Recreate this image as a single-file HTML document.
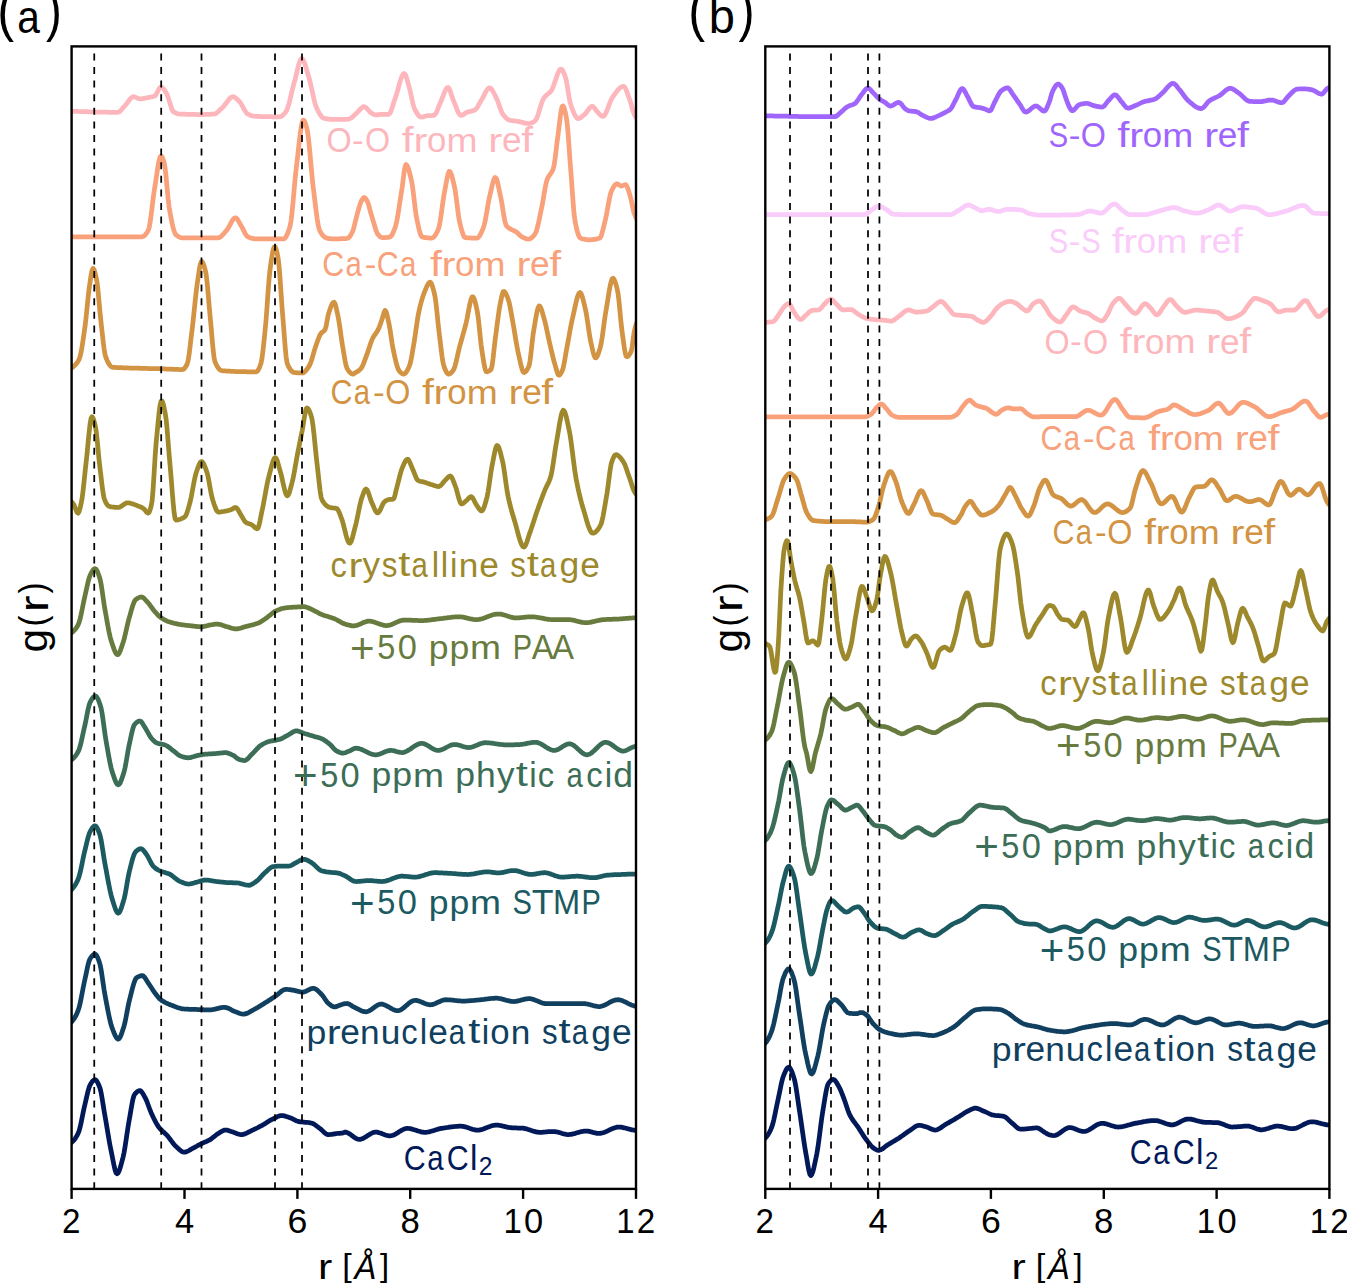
<!DOCTYPE html>
<html><head><meta charset="utf-8"><style>
html,body{margin:0;padding:0;background:#fff;overflow:hidden;width:1347px;height:1283px;}
svg{display:block;font-family:"Liberation Sans",sans-serif;}
</style></head><body>
<svg width="1347" height="1283" viewBox="0 0 1347 1283">
<defs>
<clipPath id="clipa"><rect x="71.6" y="46.4" width="564.4" height="1142.5"/></clipPath>
<clipPath id="clipb"><rect x="765.3" y="46.4" width="564.1000000000001" height="1142.5"/></clipPath>
</defs>
<rect width="1347" height="1283" fill="#fff"/>
<path d="M70.1,111.3 71.1,111.3 72.1,111.3 73.1,111.3 74.1,111.3 75.1,111.3 76.1,111.4 77.1,111.4 78.1,111.4 79.1,111.5 80.1,111.5 81.1,111.5 82.1,111.6 83.1,111.6 84.1,111.6 85.1,111.7 86.1,111.7 87.1,111.7 88.1,111.8 89.1,111.8 90.1,111.8 91.1,111.9 92.1,111.9 93.1,111.9 94.1,111.9 95.1,112.0 96.1,112.0 97.1,112.0 98.1,112.0 99.1,112.1 100.1,112.1 101.1,112.1 102.1,112.1 103.1,112.1 104.1,112.2 105.1,112.2 106.1,112.2 107.1,112.2 108.1,112.3 109.1,112.3 110.1,112.3 111.1,112.3 112.1,112.3 113.1,112.3 114.1,112.3 115.1,112.4 116.1,112.4 117.1,112.4 118.1,112.3 119.1,111.9 120.1,111.1 121.1,110.1 122.1,109.0 123.1,107.7 124.1,106.6 125.1,105.5 126.1,104.4 127.1,103.1 128.1,101.7 129.1,100.3 130.1,99.0 131.1,97.9 132.1,97.1 133.1,96.7 134.1,96.8 135.1,97.0 136.1,97.5 137.1,98.0 138.1,98.4 139.1,98.7 140.1,98.8 141.1,98.8 142.1,98.7 143.1,98.6 144.1,98.4 145.1,98.2 146.1,98.0 147.1,97.8 148.1,97.6 149.1,97.4 150.1,97.2 151.1,97.0 152.1,96.8 153.1,96.6 154.1,96.3 155.1,95.8 156.1,94.5 157.1,92.6 158.1,90.6 159.1,88.7 160.1,87.4 161.1,87.0 162.1,87.4 163.1,88.3 164.1,89.6 165.1,91.1 166.1,92.6 167.1,94.5 168.1,97.2 169.1,100.4 170.1,103.7 171.1,106.9 172.1,109.6 173.1,111.4 174.1,112.2 175.1,112.7 176.1,113.1 177.1,113.5 178.1,113.8 179.1,114.0 180.1,114.1 181.1,114.1 182.1,114.1 183.1,114.2 184.1,114.2 185.1,114.2 186.1,114.3 187.1,114.3 188.1,114.3 189.1,114.4 190.1,114.4 191.1,114.4 192.1,114.4 193.1,114.4 194.1,114.4 195.1,114.4 196.1,114.5 197.1,114.5 198.1,114.5 199.1,114.5 200.1,114.5 201.1,114.5 202.1,114.5 203.1,114.5 204.1,114.5 205.1,114.4 206.1,114.4 207.1,114.4 208.1,114.4 209.1,114.3 210.1,114.3 211.1,114.2 212.1,114.2 213.1,114.1 214.1,114.0 215.1,113.8 216.1,113.3 217.1,112.6 218.1,111.7 219.1,110.8 220.1,109.8 221.1,108.8 222.1,107.9 223.1,107.0 224.1,105.8 225.1,104.5 226.1,103.2 227.1,101.8 228.1,100.4 229.1,99.2 230.1,98.2 231.1,97.3 232.1,96.8 233.1,96.7 234.1,97.0 235.1,97.5 236.1,98.3 237.1,99.2 238.1,100.2 239.1,101.2 240.1,102.3 241.1,103.8 242.1,105.6 243.1,107.4 244.1,109.3 245.1,111.0 246.1,112.5 247.1,113.6 248.1,114.2 249.1,114.7 250.1,115.2 251.1,115.6 252.1,115.9 253.1,116.1 254.1,116.2 255.1,116.2 256.1,116.3 257.1,116.3 258.1,116.4 259.1,116.4 260.1,116.5 261.1,116.5 262.1,116.5 263.1,116.6 264.1,116.6 265.1,116.6 266.1,116.6 267.1,116.7 268.1,116.7 269.1,116.7 270.1,116.7 271.1,116.7 272.1,116.8 273.1,116.8 274.1,116.8 275.1,116.8 276.1,116.8 277.1,116.8 278.1,116.8 279.1,116.8 280.1,116.7 281.1,116.4 282.1,115.8 283.1,114.9 284.1,113.9 285.1,112.8 286.1,111.5 287.1,109.5 288.1,106.6 289.1,103.1 290.1,99.1 291.1,94.9 292.1,90.7 293.1,86.6 294.1,82.9 295.1,79.3 296.1,75.3 297.1,71.0 298.1,66.9 299.1,63.3 300.1,60.5 301.1,58.9 302.1,58.7 303.1,59.8 304.1,61.8 305.1,64.5 306.1,67.8 307.1,71.3 308.1,74.8 309.1,78.1 310.1,81.7 311.1,86.0 312.1,90.6 313.1,95.3 314.1,99.8 315.1,103.7 316.1,106.8 317.1,109.0 318.1,111.0 319.1,112.9 320.1,114.6 321.1,116.0 322.1,117.2 323.1,118.0 324.1,118.3 325.1,118.6 326.1,118.7 327.1,118.9 328.1,119.1 329.1,119.2 330.1,119.3 331.1,119.3 332.1,119.3 333.1,119.3 334.1,119.3 335.1,119.3 336.1,119.3 337.1,119.3 338.1,119.3 339.1,119.3 340.1,119.3 341.1,119.3 342.1,119.3 343.1,119.3 344.1,119.3 345.1,119.3 346.1,119.3 347.1,119.3 348.1,119.2 349.1,118.9 350.1,118.5 351.1,118.0 352.1,117.3 353.1,116.4 354.1,115.4 355.1,114.4 356.1,113.5 357.1,112.6 358.1,111.6 359.1,110.4 360.1,109.3 361.1,108.3 362.1,107.5 363.1,106.9 364.1,106.7 365.1,107.0 366.1,107.7 367.1,108.7 368.1,109.9 369.1,111.0 370.1,112.1 371.1,112.9 372.1,113.5 373.1,114.1 374.1,114.5 375.1,114.8 376.1,114.9 377.1,114.9 378.1,114.7 379.1,114.6 380.1,114.4 381.1,114.3 382.1,114.3 383.1,114.3 384.1,114.3 385.1,114.3 386.1,114.3 387.1,114.3 388.1,114.3 389.1,114.2 390.1,113.0 391.1,110.8 392.1,107.9 393.1,104.7 394.1,101.4 395.1,98.4 396.1,95.6 397.1,92.3 398.1,88.7 399.1,85.0 400.1,81.6 401.1,78.4 402.1,75.9 403.1,74.1 404.1,73.4 405.1,74.1 406.1,76.3 407.1,79.6 408.1,83.4 409.1,87.0 410.1,90.8 411.1,95.3 412.1,100.0 413.1,104.3 414.1,107.7 415.1,109.9 416.1,111.8 417.1,113.5 418.1,114.9 419.1,116.1 420.1,116.8 421.1,117.1 422.1,117.0 423.1,116.8 424.1,116.6 425.1,116.3 426.1,116.0 427.1,115.8 428.1,115.7 429.1,115.7 430.1,115.6 431.1,115.6 432.1,115.5 433.1,115.4 434.1,115.3 435.1,114.5 436.1,112.9 437.1,110.6 438.1,108.1 439.1,105.5 440.1,103.1 441.1,101.0 442.1,98.5 443.1,95.9 444.1,93.2 445.1,90.9 446.1,89.0 447.1,87.7 448.1,87.4 449.1,88.4 450.1,90.7 451.1,93.8 452.1,96.9 453.1,99.7 454.1,102.1 455.1,104.6 456.1,107.3 457.1,109.9 458.1,112.1 459.1,113.9 460.1,115.1 461.1,115.3 462.1,115.1 463.1,114.7 464.1,114.0 465.1,113.4 466.1,112.7 467.1,112.2 468.1,111.9 469.1,111.6 470.1,111.4 471.1,111.2 472.1,110.9 473.1,110.7 474.1,110.3 475.1,109.8 476.1,108.9 477.1,107.6 478.1,106.0 479.1,104.1 480.1,102.3 481.1,100.6 482.1,99.0 483.1,97.1 484.1,95.1 485.1,93.1 486.1,91.2 487.1,89.7 488.1,88.5 489.1,87.9 490.1,87.9 491.1,88.7 492.1,89.9 493.1,91.6 494.1,93.5 495.1,95.6 496.1,97.6 497.1,99.6 498.1,102.2 499.1,105.1 500.1,108.0 501.1,110.8 502.1,113.0 503.1,114.6 504.1,115.9 505.1,117.0 506.1,118.0 507.1,118.9 508.1,119.6 509.1,120.0 510.1,120.3 511.1,120.5 512.1,120.6 513.1,120.8 514.1,120.9 515.1,121.0 516.1,121.1 517.1,121.3 518.1,121.4 519.1,121.6 520.1,121.8 521.1,122.1 522.1,122.4 523.1,122.6 524.1,122.9 525.1,123.1 526.1,123.3 527.1,123.4 528.1,123.5 529.1,123.5 530.1,123.4 531.1,123.1 532.1,122.6 533.1,122.1 534.1,121.5 535.1,120.8 536.1,119.6 537.1,117.4 538.1,114.6 539.1,111.4 540.1,108.0 541.1,104.7 542.1,101.7 543.1,99.3 544.1,97.7 545.1,96.5 546.1,95.5 547.1,94.6 548.1,93.8 549.1,93.0 550.1,92.0 551.1,90.9 552.1,89.3 553.1,87.0 554.1,84.3 555.1,81.3 556.1,78.3 557.1,75.4 558.1,72.8 559.1,70.8 560.1,69.5 561.1,69.1 562.1,69.8 563.1,71.4 564.1,73.6 565.1,76.1 566.1,79.5 567.1,84.9 568.1,91.2 569.1,97.4 570.1,102.5 571.1,105.8 572.1,108.5 573.1,111.1 574.1,113.5 575.1,115.5 576.1,117.1 577.1,118.2 578.1,118.6 579.1,118.4 580.1,118.0 581.1,117.3 582.1,116.5 583.1,115.6 584.1,114.8 585.1,113.9 586.1,112.8 587.1,111.4 588.1,110.0 589.1,108.6 590.1,107.5 591.1,106.7 592.1,106.3 593.1,106.6 594.1,107.6 595.1,108.9 596.1,110.3 597.1,111.6 598.1,112.6 599.1,113.7 600.1,114.7 601.1,115.6 602.1,116.2 603.1,116.4 604.1,115.9 605.1,114.5 606.1,112.6 607.1,110.2 608.1,107.6 609.1,104.9 610.1,102.2 611.1,99.9 612.1,97.9 613.1,96.5 614.1,95.1 615.1,93.7 616.1,92.3 617.1,91.0 618.1,89.8 619.1,88.7 620.1,87.8 621.1,87.0 622.1,86.5 623.1,86.3 624.1,86.6 625.1,87.8 626.1,89.8 627.1,92.4 628.1,95.2 629.1,98.1 630.1,100.9 631.1,104.1 632.1,107.8 633.1,111.3 634.1,114.1 635.1,116.1 636.1,117.9 637.1,119.2 637.5,119.7" fill="none" stroke="#FDB7BC" stroke-width="4.75" stroke-linejoin="round" stroke-linecap="butt" clip-path="url(#clipa)"/>
<path d="M70.1,236.8 71.1,236.8 72.1,236.8 73.1,236.8 74.1,236.8 75.1,236.8 76.1,236.8 77.1,236.8 78.1,236.8 79.1,236.8 80.1,236.8 81.1,236.8 82.1,236.8 83.1,236.8 84.1,236.8 85.1,236.8 86.1,236.8 87.1,236.8 88.1,236.8 89.1,236.8 90.1,236.8 91.1,236.8 92.1,236.8 93.1,236.8 94.1,236.8 95.1,236.8 96.1,236.8 97.1,236.8 98.1,236.8 99.1,236.8 100.1,236.8 101.1,236.8 102.1,236.8 103.1,236.8 104.1,236.8 105.1,236.8 106.1,236.8 107.1,236.8 108.1,236.8 109.1,236.8 110.1,236.8 111.1,236.8 112.1,236.8 113.1,236.8 114.1,236.8 115.1,236.8 116.1,236.8 117.1,236.8 118.1,236.8 119.1,236.8 120.1,236.8 121.1,236.8 122.1,236.8 123.1,236.8 124.1,236.8 125.1,236.8 126.1,236.8 127.1,236.8 128.1,236.8 129.1,236.8 130.1,236.8 131.1,236.8 132.1,236.8 133.1,236.8 134.1,236.8 135.1,236.8 136.1,236.8 137.1,236.8 138.1,236.8 139.1,236.8 140.1,236.8 141.1,236.8 142.1,236.8 143.1,236.5 144.1,235.9 145.1,235.0 146.1,233.8 147.1,232.4 148.1,230.7 149.1,228.0 150.1,222.5 151.1,215.3 152.1,207.2 153.1,198.9 154.1,191.5 155.1,185.3 156.1,178.8 157.1,172.0 158.1,165.7 159.1,160.5 160.1,157.0 161.1,156.0 162.1,157.0 163.1,159.4 164.1,162.5 165.1,168.0 166.1,177.0 167.1,187.8 168.1,198.5 169.1,207.1 170.1,212.9 171.1,218.3 172.1,223.3 173.1,227.7 174.1,231.2 175.1,233.7 176.1,234.9 177.1,235.7 178.1,236.4 179.1,237.0 180.1,237.5 181.1,237.7 182.1,237.8 183.1,237.8 184.1,237.8 185.1,237.8 186.1,237.8 187.1,237.8 188.1,237.8 189.1,237.8 190.1,237.8 191.1,237.8 192.1,237.8 193.1,237.8 194.1,237.8 195.1,237.8 196.1,237.8 197.1,237.8 198.1,237.8 199.1,237.8 200.1,237.8 201.1,237.8 202.1,237.8 203.1,237.8 204.1,237.8 205.1,237.8 206.1,237.8 207.1,237.8 208.1,237.8 209.1,237.8 210.1,237.8 211.1,237.8 212.1,237.8 213.1,237.8 214.1,237.8 215.1,237.8 216.1,237.8 217.1,237.8 218.1,237.8 219.1,237.7 220.1,237.2 221.1,236.4 222.1,235.5 223.1,234.4 224.1,233.3 225.1,232.1 226.1,230.9 227.1,229.8 228.1,228.3 229.1,226.5 230.1,224.6 231.1,222.7 232.1,220.9 233.1,219.4 234.1,218.3 235.1,217.8 236.1,217.9 237.1,218.8 238.1,220.3 239.1,222.1 240.1,224.0 241.1,225.7 242.1,227.4 243.1,229.4 244.1,231.4 245.1,233.4 246.1,235.1 247.1,236.3 248.1,236.9 249.1,237.4 250.1,237.7 251.1,238.1 252.1,238.3 253.1,238.6 254.1,238.7 255.1,238.8 256.1,238.9 257.1,238.9 258.1,238.9 259.1,238.9 260.1,238.9 261.1,238.9 262.1,238.9 263.1,238.9 264.1,238.9 265.1,238.9 266.1,238.9 267.1,238.9 268.1,238.9 269.1,238.9 270.1,238.9 271.1,238.9 272.1,238.9 273.1,238.9 274.1,238.9 275.1,238.9 276.1,238.9 277.1,238.9 278.1,238.9 279.1,238.9 280.1,238.9 281.1,238.9 282.1,238.9 283.1,238.9 284.1,238.8 285.1,238.1 286.1,236.7 287.1,234.6 288.1,232.1 289.1,229.2 290.1,226.0 291.1,220.6 292.1,212.0 293.1,201.5 294.1,190.1 295.1,179.0 296.1,169.4 297.1,161.1 298.1,152.3 299.1,143.3 300.1,134.9 301.1,127.8 302.1,122.6 303.1,120.1 304.1,120.5 305.1,122.6 306.1,125.7 307.1,129.4 308.1,135.4 309.1,144.2 310.1,154.8 311.1,166.0 312.1,176.9 313.1,186.3 314.1,194.4 315.1,202.7 316.1,210.8 317.1,218.3 318.1,224.5 319.1,228.9 320.1,231.3 321.1,233.0 322.1,234.5 323.1,235.8 324.1,236.7 325.1,237.4 326.1,237.9 327.1,238.1 328.1,238.4 329.1,238.6 330.1,238.7 331.1,238.8 332.1,238.9 333.1,238.9 334.1,238.9 335.1,238.9 336.1,238.9 337.1,238.8 338.1,238.8 339.1,238.8 340.1,238.8 341.1,238.7 342.1,238.7 343.1,238.7 344.1,238.6 345.1,238.5 346.1,238.5 347.1,238.4 348.1,238.1 349.1,237.3 350.1,236.0 351.1,234.4 352.1,232.5 353.1,230.3 354.1,226.7 355.1,222.5 356.1,218.6 357.1,214.6 358.1,210.8 359.1,207.4 360.1,204.1 361.1,201.5 362.1,199.7 363.1,198.2 364.1,197.5 365.1,197.9 366.1,199.3 367.1,201.0 368.1,203.2 369.1,206.7 370.1,210.5 371.1,214.0 372.1,217.4 373.1,220.7 374.1,223.9 375.1,227.4 376.1,230.7 377.1,233.2 378.1,234.5 379.1,235.7 380.1,236.7 381.1,237.3 382.1,237.6 383.1,237.6 384.1,237.6 385.1,237.6 386.1,237.5 387.1,237.4 388.1,237.3 389.1,237.1 390.1,236.9 391.1,236.1 392.1,234.6 393.1,232.6 394.1,230.2 395.1,227.6 396.1,224.3 397.1,219.5 398.1,213.7 399.1,207.3 400.1,200.7 401.1,194.2 402.1,187.9 403.1,180.2 404.1,172.3 405.1,166.4 406.1,164.5 407.1,165.4 408.1,167.7 409.1,170.9 410.1,174.8 411.1,178.9 412.1,183.8 413.1,191.0 414.1,199.4 415.1,207.9 416.1,215.2 417.1,220.4 418.1,225.1 419.1,229.5 420.1,233.2 421.1,235.8 422.1,237.0 423.1,237.2 424.1,237.4 425.1,237.6 426.1,237.7 427.1,237.8 428.1,237.9 429.1,238.0 430.1,238.0 431.1,238.1 432.1,238.0 433.1,237.6 434.1,236.7 435.1,235.4 436.1,233.8 437.1,231.9 438.1,229.8 439.1,226.8 440.1,221.6 441.1,215.1 442.1,207.8 443.1,200.6 444.1,194.1 445.1,188.8 446.1,183.4 447.1,178.2 448.1,173.9 449.1,171.5 450.1,171.7 451.1,173.7 452.1,176.8 453.1,180.8 454.1,185.1 455.1,189.9 456.1,196.8 457.1,204.8 458.1,212.8 459.1,219.6 460.1,224.2 461.1,228.0 462.1,231.6 463.1,234.6 464.1,236.7 465.1,237.6 466.1,237.7 467.1,237.8 468.1,237.8 469.1,237.9 470.1,237.9 471.1,238.0 472.1,238.0 473.1,238.0 474.1,238.0 475.1,238.1 476.1,238.1 477.1,238.1 478.1,237.6 479.1,236.6 480.1,235.0 481.1,233.0 482.1,230.7 483.1,228.3 484.1,225.4 485.1,221.2 486.1,215.9 487.1,210.0 488.1,204.2 489.1,198.8 490.1,194.4 491.1,190.1 492.1,185.7 493.1,181.8 494.1,178.8 495.1,177.4 496.1,178.1 497.1,180.7 498.1,184.7 499.1,189.5 500.1,194.4 501.1,199.0 502.1,204.7 503.1,211.2 504.1,217.3 505.1,222.3 506.1,225.2 507.1,226.5 508.1,227.4 509.1,228.2 510.1,228.8 511.1,229.4 512.1,229.9 513.1,230.3 514.1,230.8 515.1,231.2 516.1,231.8 517.1,232.6 518.1,233.5 519.1,234.5 520.1,235.4 521.1,236.3 522.1,236.9 523.1,237.4 524.1,237.9 525.1,238.3 526.1,238.7 527.1,239.0 528.1,239.1 529.1,239.1 530.1,238.8 531.1,238.2 532.1,237.4 533.1,236.4 534.1,235.2 535.1,233.8 536.1,231.8 537.1,228.7 538.1,224.7 539.1,220.0 540.1,215.2 541.1,210.3 542.1,205.6 543.1,200.0 544.1,193.9 545.1,188.1 546.1,183.1 547.1,179.7 548.1,177.4 549.1,175.8 550.1,174.4 551.1,173.1 552.1,171.4 553.1,169.1 554.1,165.3 555.1,158.6 556.1,150.2 557.1,141.8 558.1,134.5 559.1,126.4 560.1,118.1 561.1,111.0 562.1,106.5 563.1,105.9 564.1,107.8 565.1,111.5 566.1,116.2 567.1,122.8 568.1,133.9 569.1,147.7 570.1,161.8 571.1,174.5 572.1,188.4 573.1,202.3 574.1,214.1 575.1,221.5 576.1,226.3 577.1,230.6 578.1,234.0 579.1,236.5 580.1,237.9 581.1,238.4 582.1,238.7 583.1,239.0 584.1,239.2 585.1,239.4 586.1,239.6 587.1,239.7 588.1,239.8 589.1,239.8 590.1,239.8 591.1,239.7 592.1,239.7 593.1,239.6 594.1,239.4 595.1,239.3 596.1,239.1 597.1,238.8 598.1,238.6 599.1,238.3 600.1,237.8 601.1,236.0 602.1,233.0 603.1,229.1 604.1,225.0 605.1,220.9 606.1,216.6 607.1,211.3 608.1,205.7 609.1,200.3 610.1,195.5 611.1,191.9 612.1,189.7 613.1,187.8 614.1,186.2 615.1,184.9 616.1,184.1 617.1,183.8 618.1,184.2 619.1,184.9 620.1,185.6 621.1,186.0 622.1,185.8 623.1,185.5 624.1,185.0 625.1,184.7 626.1,184.9 627.1,186.6 628.1,189.3 629.1,192.5 630.1,195.7 631.1,199.8 632.1,204.6 633.1,209.3 634.1,213.1 635.1,215.7 636.1,218.0 637.1,219.8 637.5,220.4" fill="none" stroke="#F8A17B" stroke-width="4.75" stroke-linejoin="round" stroke-linecap="butt" clip-path="url(#clipa)"/>
<path d="M70.1,368.7 71.1,368.2 72.1,367.6 73.1,366.8 74.1,366.0 75.1,365.1 76.1,364.0 77.1,362.7 78.1,361.2 79.1,359.4 80.1,356.5 81.1,352.1 82.1,346.4 83.1,339.9 84.1,332.9 85.1,325.9 86.1,317.3 87.1,307.4 88.1,297.4 89.1,288.7 90.1,281.9 91.1,275.2 92.1,270.1 93.1,268.4 94.1,269.8 95.1,273.0 96.1,277.2 97.1,282.6 98.1,291.4 99.1,302.3 100.1,313.3 101.1,322.9 102.1,331.8 103.1,340.9 104.1,348.9 105.1,354.9 106.1,358.0 107.1,360.4 108.1,362.5 109.1,364.2 110.1,365.6 111.1,366.6 112.1,367.1 113.1,367.3 114.1,367.4 115.1,367.4 116.1,367.5 117.1,367.6 118.1,367.6 119.1,367.6 120.1,367.7 121.1,367.7 122.1,367.7 123.1,367.8 124.1,367.8 125.1,367.8 126.1,367.9 127.1,367.9 128.1,367.9 129.1,368.0 130.1,368.0 131.1,368.0 132.1,368.0 133.1,368.1 134.1,368.1 135.1,368.1 136.1,368.2 137.1,368.2 138.1,368.2 139.1,368.2 140.1,368.3 141.1,368.3 142.1,368.3 143.1,368.3 144.1,368.4 145.1,368.4 146.1,368.4 147.1,368.4 148.1,368.5 149.1,368.5 150.1,368.5 151.1,368.5 152.1,368.6 153.1,368.6 154.1,368.6 155.1,368.6 156.1,368.7 157.1,368.7 158.1,368.7 159.1,368.7 160.1,368.8 161.1,368.8 162.1,368.8 163.1,368.9 164.1,368.9 165.1,368.9 166.1,369.0 167.1,369.0 168.1,369.1 169.1,369.1 170.1,369.1 171.1,369.2 172.1,369.2 173.1,369.3 174.1,369.3 175.1,369.4 176.1,369.4 177.1,369.4 178.1,369.4 179.1,369.5 180.1,369.5 181.1,369.5 182.1,369.5 183.1,369.4 184.1,368.8 185.1,367.7 186.1,366.1 187.1,364.1 188.1,360.7 189.1,354.5 190.1,346.5 191.1,337.8 192.1,329.7 193.1,320.9 194.1,311.4 195.1,301.7 196.1,292.5 197.1,284.5 198.1,277.8 199.1,271.1 200.1,265.2 201.1,261.8 202.1,261.7 203.1,263.3 204.1,266.1 205.1,269.6 206.1,274.0 207.1,282.2 208.1,293.1 209.1,305.1 210.1,316.2 211.1,326.8 212.1,338.6 213.1,349.6 214.1,358.0 215.1,362.1 216.1,364.3 217.1,366.2 218.1,367.8 219.1,369.1 220.1,370.0 221.1,370.5 222.1,370.7 223.1,370.8 224.1,370.8 225.1,370.9 226.1,371.0 227.1,371.0 228.1,371.1 229.1,371.2 230.1,371.2 231.1,371.3 232.1,371.3 233.1,371.4 234.1,371.4 235.1,371.5 236.1,371.5 237.1,371.5 238.1,371.6 239.1,371.6 240.1,371.6 241.1,371.6 242.1,371.7 243.1,371.7 244.1,371.7 245.1,371.7 246.1,371.7 247.1,371.8 248.1,371.8 249.1,371.8 250.1,371.8 251.1,371.8 252.1,371.8 253.1,371.8 254.1,371.8 255.1,371.8 256.1,371.8 257.1,371.4 258.1,370.2 259.1,368.3 260.1,365.8 261.1,362.9 262.1,357.5 263.1,349.7 264.1,340.3 265.1,330.3 266.1,319.6 267.1,306.0 268.1,291.5 269.1,278.5 270.1,269.1 271.1,261.9 272.1,255.3 273.1,250.0 274.1,247.0 275.1,246.8 276.1,249.1 277.1,253.1 278.1,258.1 279.1,266.3 280.1,279.0 281.1,293.8 282.1,308.2 283.1,320.4 284.1,333.4 285.1,346.2 286.1,356.8 287.1,363.2 288.1,365.6 289.1,367.6 290.1,369.2 291.1,370.5 292.1,371.5 293.1,372.2 294.1,372.5 295.1,372.6 296.1,372.7 297.1,372.8 298.1,372.8 299.1,372.9 300.1,372.9 301.1,372.9 302.1,373.0 303.1,372.8 304.1,372.3 305.1,371.4 306.1,370.3 307.1,369.0 308.1,367.6 309.1,366.1 310.1,364.2 311.1,361.5 312.1,358.4 313.1,354.9 314.1,351.4 315.1,348.1 316.1,345.2 317.1,342.3 318.1,339.5 319.1,336.9 320.1,334.7 321.1,333.3 322.1,332.3 323.1,331.6 324.1,330.8 325.1,329.5 326.1,326.3 327.1,320.9 328.1,315.4 329.1,311.9 330.1,308.9 331.1,306.2 332.1,304.0 333.1,302.6 334.1,302.2 335.1,303.8 336.1,307.4 337.1,311.9 338.1,316.6 339.1,322.3 340.1,329.2 341.1,336.5 342.1,343.2 343.1,349.1 344.1,355.2 345.1,361.0 346.1,365.6 347.1,368.4 348.1,370.0 349.1,371.5 350.1,372.6 351.1,373.5 352.1,374.0 353.1,374.1 354.1,373.5 355.1,372.9 356.1,372.3 357.1,371.7 358.1,371.1 359.1,370.3 360.1,369.4 361.1,368.4 362.1,366.8 363.1,364.7 364.1,362.1 365.1,359.4 366.1,356.6 367.1,353.9 368.1,351.0 369.1,348.0 370.1,345.0 371.1,342.1 372.1,339.5 373.1,337.5 374.1,335.8 375.1,334.4 376.1,333.0 377.1,331.5 378.1,329.7 379.1,327.5 380.1,324.9 381.1,322.0 382.1,319.1 383.1,315.6 384.1,312.2 385.1,310.4 386.1,311.6 387.1,315.1 388.1,319.7 389.1,324.3 390.1,330.2 391.1,336.8 392.1,343.4 393.1,349.1 394.1,353.7 395.1,358.2 396.1,362.5 397.1,366.1 398.1,369.0 399.1,370.7 400.1,371.9 401.1,372.9 402.1,373.6 403.1,374.0 404.1,374.0 405.1,373.4 406.1,372.3 407.1,370.7 408.1,368.8 409.1,366.7 410.1,363.9 411.1,359.6 412.1,354.1 413.1,348.2 414.1,342.4 415.1,335.9 416.1,328.8 417.1,321.8 418.1,315.6 419.1,310.8 420.1,306.4 421.1,302.5 422.1,298.9 423.1,295.8 424.1,293.0 425.1,290.6 426.1,288.1 427.1,285.8 428.1,283.9 429.1,282.6 430.1,282.1 431.1,283.0 432.1,285.3 433.1,288.5 434.1,292.4 435.1,296.9 436.1,304.2 437.1,313.6 438.1,323.5 439.1,332.5 440.1,340.6 441.1,349.0 442.1,356.8 443.1,363.0 444.1,366.7 445.1,369.3 446.1,371.6 447.1,373.2 448.1,374.0 449.1,374.0 450.1,373.6 451.1,372.8 452.1,371.8 453.1,370.6 454.1,368.7 455.1,365.7 456.1,361.9 457.1,357.6 458.1,353.1 459.1,348.7 460.1,344.9 461.1,341.3 462.1,337.8 463.1,334.2 464.1,330.6 465.1,327.0 466.1,323.1 467.1,318.4 468.1,313.0 469.1,307.7 470.1,302.9 471.1,299.1 472.1,296.9 473.1,296.9 474.1,298.7 475.1,301.8 476.1,305.9 477.1,310.4 478.1,316.5 479.1,325.5 480.1,335.5 481.1,344.8 482.1,351.8 483.1,358.2 484.1,364.3 485.1,369.1 486.1,371.6 487.1,371.8 488.1,371.5 489.1,371.0 490.1,370.3 491.1,369.4 492.1,365.6 493.1,358.2 494.1,349.1 495.1,340.1 496.1,332.5 497.1,324.9 498.1,317.2 499.1,310.2 500.1,304.5 501.1,299.5 502.1,294.9 503.1,291.8 504.1,291.4 505.1,292.4 506.1,294.2 507.1,296.4 508.1,299.0 509.1,302.2 510.1,306.9 511.1,312.5 512.1,318.2 513.1,323.7 514.1,329.4 515.1,335.5 516.1,341.5 517.1,347.2 518.1,352.3 519.1,356.8 520.1,361.3 521.1,365.7 522.1,369.4 523.1,371.8 524.1,372.5 525.1,372.1 526.1,371.1 527.1,369.6 528.1,367.8 529.1,365.7 530.1,360.4 531.1,352.1 532.1,342.8 533.1,334.4 534.1,328.3 535.1,322.2 536.1,316.4 537.1,311.3 538.1,307.6 539.1,305.9 540.1,306.4 541.1,308.5 542.1,311.6 543.1,315.1 544.1,318.5 545.1,322.3 546.1,326.6 547.1,331.3 548.1,336.1 549.1,340.7 550.1,345.0 551.1,349.3 552.1,353.6 553.1,357.7 554.1,361.6 555.1,365.1 556.1,368.5 557.1,372.0 558.1,374.6 559.1,375.2 560.1,374.5 561.1,373.0 562.1,371.0 563.1,368.2 564.1,363.6 565.1,357.9 566.1,352.0 567.1,346.5 568.1,341.2 569.1,335.7 570.1,330.2 571.1,324.9 572.1,320.1 573.1,315.8 574.1,311.2 575.1,306.6 576.1,302.2 577.1,298.2 578.1,295.1 579.1,293.1 580.1,292.5 581.1,293.6 582.1,296.1 583.1,299.6 584.1,303.7 585.1,307.9 586.1,312.5 587.1,318.6 588.1,325.4 589.1,332.2 590.1,338.5 591.1,343.4 592.1,347.8 593.1,352.1 594.1,355.6 595.1,357.7 596.1,357.8 597.1,356.6 598.1,354.3 599.1,351.3 600.1,348.1 601.1,343.9 602.1,337.9 603.1,330.8 604.1,323.3 605.1,316.2 606.1,310.2 607.1,304.2 608.1,297.9 609.1,291.7 610.1,286.1 611.1,281.7 612.1,278.9 613.1,278.3 614.1,279.4 615.1,281.7 616.1,284.9 617.1,288.7 618.1,293.7 619.1,302.3 620.1,312.9 621.1,323.4 622.1,331.8 623.1,339.1 624.1,346.4 625.1,352.5 626.1,356.2 627.1,356.8 628.1,356.2 629.1,355.1 630.1,353.5 631.1,351.5 632.1,347.2 633.1,339.3 634.1,332.3 635.1,328.0 636.1,324.4 637.1,321.7 637.5,321.0" fill="none" stroke="#D29343" stroke-width="4.75" stroke-linejoin="round" stroke-linecap="butt" clip-path="url(#clipa)"/>
<path d="M70.1,500.7 71.1,501.4 72.1,502.4 73.1,503.6 74.1,505.1 75.1,507.6 76.1,510.3 77.1,512.4 78.1,513.2 79.1,511.7 80.1,508.2 81.1,503.6 82.1,498.3 83.1,490.6 84.1,481.3 85.1,471.6 86.1,462.6 87.1,453.3 88.1,442.7 89.1,432.4 90.1,423.7 91.1,418.1 92.1,416.7 93.1,418.3 94.1,421.3 95.1,425.1 96.1,430.5 97.1,439.3 98.1,449.7 99.1,460.2 100.1,468.9 101.1,477.3 102.1,485.7 103.1,493.0 104.1,498.2 105.1,500.9 106.1,503.0 107.1,504.6 108.1,505.8 109.1,506.3 110.1,506.6 111.1,506.8 112.1,507.0 113.1,507.1 114.1,507.2 115.1,507.3 116.1,507.4 117.1,507.4 118.1,507.5 119.1,507.4 120.1,507.0 121.1,506.4 122.1,505.7 123.1,505.0 124.1,504.3 125.1,503.6 126.1,503.1 127.1,502.9 128.1,502.9 129.1,503.0 130.1,503.1 131.1,503.4 132.1,503.7 133.1,504.0 134.1,504.4 135.1,504.7 136.1,505.1 137.1,505.6 138.1,506.0 139.1,506.4 140.1,506.8 141.1,507.2 142.1,507.7 143.1,508.3 144.1,509.1 145.1,510.2 146.1,511.6 147.1,512.7 148.1,513.2 149.1,512.4 150.1,509.9 151.1,506.2 152.1,501.0 153.1,489.2 154.1,473.3 155.1,456.7 156.1,443.2 157.1,432.8 158.1,422.2 159.1,412.6 160.1,405.1 161.1,401.0 162.1,401.0 163.1,403.5 164.1,407.6 165.1,412.7 166.1,419.1 167.1,429.2 168.1,441.6 169.1,454.4 170.1,465.8 171.1,477.4 172.1,490.1 173.1,502.3 174.1,512.4 175.1,518.8 176.1,520.1 177.1,520.0 178.1,519.9 179.1,519.6 180.1,519.3 181.1,518.9 182.1,518.4 183.1,517.9 184.1,517.3 185.1,516.6 186.1,515.0 187.1,512.4 188.1,509.1 189.1,505.6 190.1,502.0 191.1,497.5 192.1,492.4 193.1,486.9 194.1,481.6 195.1,476.8 196.1,472.9 197.1,470.0 198.1,467.2 199.1,464.6 200.1,462.7 201.1,461.6 202.1,461.7 203.1,462.8 204.1,464.7 205.1,467.1 206.1,469.9 207.1,472.7 208.1,476.8 209.1,482.1 210.1,487.8 211.1,493.3 212.1,497.8 213.1,501.1 214.1,504.2 215.1,507.0 216.1,509.5 217.1,511.2 218.1,512.0 219.1,512.0 220.1,512.0 221.1,511.9 222.1,511.7 223.1,511.5 224.1,511.4 225.1,511.2 226.1,511.0 227.1,510.8 228.1,510.6 229.1,510.3 230.1,510.0 231.1,509.7 232.1,509.2 233.1,508.5 234.1,507.9 235.1,507.5 236.1,507.6 237.1,508.5 238.1,509.9 239.1,511.7 240.1,513.5 241.1,515.2 242.1,516.8 243.1,518.6 244.1,520.3 245.1,521.7 246.1,522.5 247.1,523.1 248.1,523.4 249.1,523.8 250.1,524.1 251.1,524.5 252.1,525.0 253.1,525.8 254.1,526.7 255.1,527.7 256.1,528.4 257.1,528.8 258.1,528.1 259.1,525.0 260.1,520.4 261.1,515.2 262.1,510.4 263.1,505.7 264.1,500.4 265.1,495.0 266.1,489.5 267.1,484.3 268.1,479.6 269.1,475.6 270.1,471.7 271.1,467.8 272.1,464.1 273.1,460.9 274.1,458.7 275.1,457.6 276.1,458.2 277.1,460.3 278.1,463.6 279.1,467.3 280.1,470.9 281.1,474.3 282.1,478.6 283.1,483.2 284.1,487.7 285.1,491.7 286.1,494.6 287.1,495.9 288.1,495.3 289.1,493.2 290.1,489.9 291.1,486.2 292.1,482.5 293.1,478.2 294.1,473.1 295.1,467.5 296.1,461.8 297.1,456.2 298.1,451.0 299.1,446.0 300.1,441.0 301.1,436.0 302.1,431.1 303.1,425.5 304.1,419.0 305.1,413.1 306.1,408.9 307.1,407.9 308.1,408.8 309.1,410.5 310.1,412.8 311.1,415.7 312.1,419.5 313.1,426.4 314.1,435.3 315.1,445.3 316.1,455.4 317.1,464.3 318.1,472.9 319.1,482.3 320.1,490.8 321.1,497.2 322.1,500.0 323.1,501.7 324.1,503.1 325.1,504.4 326.1,505.3 327.1,506.1 328.1,506.8 329.1,507.2 330.1,507.5 331.1,507.7 332.1,507.9 333.1,508.0 334.1,508.1 335.1,508.2 336.1,508.4 337.1,508.8 338.1,510.1 339.1,512.2 340.1,514.7 341.1,517.3 342.1,520.0 343.1,523.4 344.1,527.3 345.1,531.4 346.1,535.3 347.1,538.8 348.1,541.5 349.1,543.0 350.1,543.2 351.1,541.6 352.1,538.8 353.1,535.1 354.1,531.1 355.1,527.1 356.1,523.3 357.1,518.8 358.1,513.9 359.1,508.9 360.1,504.2 361.1,500.1 362.1,497.1 363.1,494.2 364.1,491.6 365.1,489.7 366.1,489.0 367.1,489.8 368.1,491.9 369.1,494.8 370.1,498.0 371.1,501.0 372.1,503.3 373.1,505.5 374.1,507.9 375.1,510.0 376.1,511.8 377.1,512.8 378.1,512.9 379.1,511.9 380.1,510.2 381.1,508.0 382.1,505.7 383.1,503.6 384.1,502.1 385.1,501.3 386.1,500.6 387.1,500.1 388.1,499.7 389.1,499.5 390.1,499.4 391.1,499.3 392.1,499.3 393.1,499.2 394.1,498.1 395.1,494.6 396.1,490.3 397.1,486.5 398.1,482.6 399.1,478.6 400.1,474.7 401.1,471.1 402.1,468.2 403.1,465.9 404.1,463.6 405.1,461.6 406.1,460.1 407.1,459.3 408.1,459.4 409.1,460.8 410.1,462.9 411.1,465.4 412.1,467.9 413.1,470.1 414.1,472.6 415.1,475.2 416.1,477.7 417.1,479.6 418.1,480.5 419.1,481.0 420.1,481.3 421.1,481.5 422.1,481.7 423.1,481.9 424.1,482.1 425.1,482.4 426.1,482.8 427.1,483.1 428.1,483.5 429.1,483.8 430.1,484.2 431.1,484.5 432.1,484.8 433.1,485.1 434.1,485.5 435.1,485.8 436.1,486.1 437.1,486.3 438.1,486.5 439.1,486.5 440.1,486.0 441.1,485.1 442.1,484.0 443.1,482.7 444.1,481.4 445.1,480.4 446.1,479.4 447.1,478.2 448.1,477.2 449.1,476.4 450.1,476.0 451.1,476.4 452.1,478.0 453.1,480.3 454.1,482.9 455.1,485.5 456.1,488.2 457.1,491.8 458.1,495.7 459.1,499.3 460.1,502.2 461.1,503.8 462.1,503.9 463.1,503.4 464.1,502.6 465.1,501.7 466.1,500.8 467.1,500.0 468.1,498.9 469.1,497.8 470.1,496.9 471.1,496.6 472.1,497.2 473.1,498.6 474.1,500.5 475.1,502.6 476.1,504.4 477.1,505.8 478.1,507.4 479.1,508.9 480.1,510.1 481.1,510.9 482.1,510.9 483.1,509.6 484.1,507.2 485.1,504.1 486.1,500.5 487.1,496.8 488.1,491.6 489.1,485.1 490.1,478.0 491.1,471.2 492.1,465.5 493.1,460.4 494.1,455.2 495.1,450.4 496.1,446.9 497.1,445.4 498.1,446.1 499.1,448.2 500.1,451.4 501.1,455.3 502.1,459.4 503.1,463.8 504.1,469.8 505.1,476.9 506.1,484.2 507.1,491.0 508.1,496.5 509.1,501.0 510.1,505.1 511.1,509.0 512.1,512.6 513.1,516.0 514.1,519.3 515.1,522.6 516.1,526.2 517.1,530.0 518.1,533.8 519.1,537.3 520.1,540.6 521.1,543.4 522.1,545.5 523.1,546.8 524.1,547.1 525.1,546.1 526.1,544.0 527.1,541.2 528.1,538.0 529.1,534.9 530.1,532.1 531.1,529.3 532.1,526.3 533.1,523.3 534.1,520.2 535.1,517.1 536.1,514.0 537.1,511.1 538.1,508.2 539.1,505.4 540.1,502.7 541.1,499.9 542.1,497.3 543.1,494.6 544.1,492.1 545.1,489.6 546.1,487.4 547.1,485.4 548.1,483.4 549.1,481.2 550.1,478.6 551.1,475.3 552.1,470.4 553.1,464.2 554.1,457.4 555.1,450.4 556.1,444.1 557.1,438.6 558.1,432.6 559.1,426.5 560.1,420.7 561.1,415.7 562.1,412.1 563.1,410.3 564.1,410.7 565.1,412.8 566.1,416.2 567.1,420.4 568.1,425.2 569.1,429.9 570.1,435.2 571.1,442.0 572.1,449.6 573.1,457.6 574.1,465.4 575.1,472.7 576.1,478.7 577.1,483.8 578.1,488.7 579.1,493.2 580.1,497.4 581.1,501.3 582.1,505.0 583.1,508.3 584.1,511.7 585.1,515.2 586.1,518.7 587.1,522.0 588.1,525.2 589.1,528.0 590.1,530.3 591.1,532.0 592.1,533.0 593.1,533.2 594.1,532.9 595.1,532.4 596.1,531.5 597.1,530.4 598.1,529.2 599.1,527.7 600.1,526.1 601.1,524.0 602.1,520.5 603.1,515.9 604.1,510.5 605.1,504.7 606.1,498.7 607.1,492.9 608.1,485.6 609.1,477.6 610.1,470.1 611.1,464.2 612.1,460.9 613.1,458.4 614.1,456.3 615.1,455.0 616.1,454.6 617.1,454.9 618.1,455.5 619.1,456.3 620.1,457.4 621.1,458.6 622.1,460.0 623.1,461.4 624.1,463.1 625.1,465.3 626.1,468.0 627.1,470.9 628.1,473.9 629.1,476.7 630.1,479.6 631.1,482.7 632.1,485.8 633.1,488.7 634.1,491.0 635.1,492.8 636.1,494.3 637.1,495.5 637.5,495.9" fill="none" stroke="#9D892B" stroke-width="4.75" stroke-linejoin="round" stroke-linecap="butt" clip-path="url(#clipa)"/>
<path d="M70.1,633.6 71.1,633.1 72.1,632.4 73.1,631.5 74.1,630.6 75.1,629.5 76.1,628.1 77.1,626.6 78.1,624.8 79.1,622.4 80.1,618.9 81.1,614.5 82.1,609.6 83.1,604.6 84.1,599.7 85.1,595.3 86.1,590.8 87.1,586.2 88.1,581.8 89.1,578.1 90.1,575.4 91.1,573.4 92.1,571.5 93.1,569.9 94.1,568.9 95.1,568.6 96.1,569.3 97.1,571.0 98.1,573.3 99.1,576.0 100.1,579.2 101.1,584.1 102.1,590.5 103.1,597.5 104.1,604.4 105.1,610.3 106.1,615.9 107.1,621.6 108.1,627.1 109.1,632.3 110.1,636.8 111.1,640.5 112.1,643.6 113.1,646.6 114.1,649.4 115.1,651.8 116.1,653.6 117.1,654.6 118.1,654.6 119.1,653.3 120.1,651.2 121.1,648.4 122.1,645.4 123.1,642.5 124.1,639.1 125.1,635.0 126.1,630.7 127.1,626.2 128.1,622.0 129.1,618.2 130.1,614.8 131.1,611.2 132.1,607.7 133.1,604.6 134.1,602.0 135.1,600.2 136.1,599.3 137.1,598.6 138.1,598.0 139.1,597.5 140.1,597.2 141.1,597.0 142.1,597.1 143.1,597.6 144.1,598.4 145.1,599.5 146.1,600.6 147.1,601.7 148.1,602.8 149.1,604.0 150.1,605.4 151.1,606.7 152.1,608.1 153.1,609.5 154.1,610.7 155.1,611.9 156.1,613.0 157.1,614.1 158.1,615.2 159.1,616.2 160.1,617.0 161.1,617.8 162.1,618.4 163.1,619.0 164.1,619.6 165.1,620.1 166.1,620.6 167.1,621.1 168.1,621.5 169.1,621.8 170.1,622.1 171.1,622.5 172.1,622.7 173.1,623.0 174.1,623.3 175.1,623.5 176.1,623.7 177.1,623.9 178.1,624.1 179.1,624.3 180.1,624.5 181.1,624.6 182.1,624.8 183.1,624.9 184.1,625.0 185.1,625.2 186.1,625.3 187.1,625.4 188.1,625.5 189.1,625.6 190.1,625.7 191.1,625.8 192.1,625.9 193.1,626.1 194.1,626.2 195.1,626.3 196.1,626.4 197.1,626.6 198.1,626.7 199.1,626.7 200.1,626.8 201.1,626.8 202.1,626.8 203.1,626.6 204.1,626.4 205.1,626.2 206.1,626.0 207.1,625.7 208.1,625.4 209.1,625.2 210.1,625.0 211.1,624.8 212.1,624.7 213.1,624.5 214.1,624.3 215.1,624.2 216.1,624.1 217.1,624.1 218.1,624.1 219.1,624.3 220.1,624.5 221.1,624.8 222.1,625.1 223.1,625.5 224.1,625.8 225.1,626.2 226.1,626.5 227.1,626.7 228.1,627.0 229.1,627.3 230.1,627.7 231.1,628.0 232.1,628.3 233.1,628.5 234.1,628.7 235.1,628.9 236.1,628.9 237.1,628.9 238.1,628.7 239.1,628.5 240.1,628.3 241.1,628.0 242.1,627.7 243.1,627.3 244.1,627.0 245.1,626.7 246.1,626.5 247.1,626.2 248.1,626.0 249.1,625.7 250.1,625.5 251.1,625.2 252.1,625.0 253.1,624.7 254.1,624.4 255.1,624.1 256.1,623.8 257.1,623.5 258.1,623.1 259.1,622.7 260.1,622.1 261.1,621.6 262.1,620.9 263.1,620.3 264.1,619.6 265.1,618.9 266.1,618.2 267.1,617.5 268.1,616.7 269.1,615.9 270.1,615.1 271.1,614.3 272.1,613.4 273.1,612.7 274.1,612.0 275.1,611.4 276.1,610.9 277.1,610.4 278.1,610.0 279.1,609.6 280.1,609.2 281.1,608.8 282.1,608.5 283.1,608.3 284.1,608.1 285.1,608.0 286.1,607.8 287.1,607.7 288.1,607.6 289.1,607.5 290.1,607.4 291.1,607.3 292.1,607.3 293.1,607.2 294.1,607.1 295.1,607.1 296.1,607.0 297.1,607.0 298.1,606.9 299.1,606.8 300.1,606.8 301.1,606.8 302.1,606.7 303.1,606.7 304.1,606.7 305.1,606.8 306.1,607.1 307.1,607.4 308.1,607.8 309.1,608.2 310.1,608.7 311.1,609.2 312.1,609.7 313.1,610.2 314.1,610.7 315.1,611.1 316.1,611.7 317.1,612.2 318.1,612.7 319.1,613.3 320.1,613.8 321.1,614.2 322.1,614.7 323.1,615.0 324.1,615.4 325.1,615.7 326.1,616.0 327.1,616.3 328.1,616.6 329.1,616.9 330.1,617.2 331.1,617.6 332.1,617.9 333.1,618.2 334.1,618.6 335.1,619.0 336.1,619.5 337.1,620.0 338.1,620.6 339.1,621.2 340.1,621.7 341.1,622.3 342.1,622.8 343.1,623.3 344.1,623.7 345.1,624.1 346.1,624.4 347.1,624.7 348.1,624.9 349.1,625.2 350.1,625.4 351.1,625.6 352.1,625.8 353.1,625.9 354.1,625.9 355.1,625.7 356.1,625.5 357.1,625.3 358.1,624.9 359.1,624.5 360.1,624.1 361.1,623.6 362.1,623.2 363.1,622.7 364.1,622.3 365.1,622.0 366.1,621.6 367.1,621.4 368.1,621.2 369.1,621.2 370.1,621.2 371.1,621.3 372.1,621.5 373.1,621.8 374.1,622.0 375.1,622.4 376.1,622.7 377.1,623.1 378.1,623.5 379.1,623.8 380.1,624.2 381.1,624.5 382.1,624.8 383.1,625.1 384.1,625.3 385.1,625.5 386.1,625.5 387.1,625.5 388.1,625.4 389.1,625.3 390.1,625.0 391.1,624.7 392.1,624.3 393.1,623.9 394.1,623.4 395.1,622.9 396.1,622.5 397.1,622.0 398.1,621.6 399.1,621.2 400.1,620.8 401.1,620.5 402.1,620.3 403.1,620.1 404.1,620.1 405.1,620.1 406.1,620.1 407.1,620.1 408.1,620.1 409.1,620.2 410.1,620.2 411.1,620.2 412.1,620.3 413.1,620.3 414.1,620.3 415.1,620.4 416.1,620.4 417.1,620.4 418.1,620.5 419.1,620.5 420.1,620.5 421.1,620.5 422.1,620.5 423.1,620.5 424.1,620.5 425.1,620.4 426.1,620.3 427.1,620.3 428.1,620.2 429.1,620.1 430.1,620.0 431.1,619.8 432.1,619.7 433.1,619.6 434.1,619.4 435.1,619.3 436.1,619.2 437.1,619.0 438.1,618.9 439.1,618.8 440.1,618.7 441.1,618.6 442.1,618.5 443.1,618.4 444.1,618.2 445.1,618.1 446.1,618.0 447.1,617.8 448.1,617.7 449.1,617.6 450.1,617.5 451.1,617.3 452.1,617.2 453.1,617.1 454.1,617.0 455.1,616.9 456.1,616.9 457.1,616.8 458.1,616.8 459.1,616.8 460.1,616.8 461.1,616.9 462.1,617.0 463.1,617.2 464.1,617.4 465.1,617.6 466.1,617.8 467.1,618.1 468.1,618.3 469.1,618.6 470.1,618.8 471.1,619.0 472.1,619.2 473.1,619.4 474.1,619.5 475.1,619.6 476.1,619.6 477.1,619.6 478.1,619.5 479.1,619.4 480.1,619.2 481.1,619.0 482.1,618.7 483.1,618.4 484.1,618.0 485.1,617.7 486.1,617.3 487.1,616.9 488.1,616.5 489.1,616.1 490.1,615.7 491.1,615.4 492.1,615.1 493.1,614.8 494.1,614.5 495.1,614.3 496.1,614.1 497.1,614.0 498.1,614.0 499.1,614.0 500.1,614.1 501.1,614.2 502.1,614.4 503.1,614.7 504.1,615.0 505.1,615.3 506.1,615.6 507.1,615.9 508.1,616.3 509.1,616.6 510.1,616.9 511.1,617.2 512.1,617.4 513.1,617.6 514.1,617.8 515.1,617.9 516.1,617.9 517.1,617.9 518.1,617.8 519.1,617.8 520.1,617.7 521.1,617.6 522.1,617.5 523.1,617.4 524.1,617.3 525.1,617.2 526.1,617.1 527.1,617.0 528.1,616.9 529.1,616.9 530.1,616.8 531.1,616.8 532.1,616.8 533.1,616.9 534.1,616.9 535.1,617.0 536.1,617.2 537.1,617.3 538.1,617.5 539.1,617.6 540.1,617.8 541.1,618.0 542.1,618.2 543.1,618.4 544.1,618.6 545.1,618.8 546.1,619.0 547.1,619.1 548.1,619.3 549.1,619.4 550.1,619.5 551.1,619.6 552.1,619.6 553.1,619.6 554.1,619.6 555.1,619.6 556.1,619.6 557.1,619.6 558.1,619.6 559.1,619.6 560.1,619.6 561.1,619.6 562.1,619.6 563.1,619.6 564.1,619.6 565.1,619.6 566.1,619.6 567.1,619.6 568.1,619.6 569.1,619.7 570.1,619.7 571.1,619.8 572.1,620.0 573.1,620.2 574.1,620.4 575.1,620.6 576.1,620.9 577.1,621.2 578.1,621.4 579.1,621.7 580.1,621.9 581.1,622.1 582.1,622.3 583.1,622.5 584.1,622.6 585.1,622.7 586.1,622.7 587.1,622.7 588.1,622.6 589.1,622.5 590.1,622.3 591.1,622.1 592.1,621.9 593.1,621.7 594.1,621.5 595.1,621.2 596.1,621.0 597.1,620.7 598.1,620.5 599.1,620.3 600.1,620.1 601.1,619.9 602.1,619.8 603.1,619.7 604.1,619.6 605.1,619.5 606.1,619.5 607.1,619.4 608.1,619.4 609.1,619.4 610.1,619.3 611.1,619.3 612.1,619.3 613.1,619.2 614.1,619.2 615.1,619.1 616.1,619.1 617.1,619.1 618.1,619.0 619.1,619.0 620.1,618.9 621.1,618.8 622.1,618.8 623.1,618.7 624.1,618.6 625.1,618.5 626.1,618.4 627.1,618.4 628.1,618.3 629.1,618.2 630.1,618.1 631.1,618.1 632.1,618.0 633.1,617.9 634.1,617.9 635.1,617.8 636.1,617.8 637.1,617.8 637.5,617.8" fill="none" stroke="#687B3E" stroke-width="4.75" stroke-linejoin="round" stroke-linecap="butt" clip-path="url(#clipa)"/>
<path d="M70.1,760.6 71.1,760.0 72.1,759.3 73.1,758.5 74.1,757.5 75.1,756.4 76.1,755.1 77.1,753.5 78.1,751.7 79.1,749.5 80.1,746.3 81.1,742.3 82.1,737.9 83.1,733.3 84.1,728.7 85.1,724.4 86.1,719.5 87.1,714.3 88.1,709.3 89.1,705.1 90.1,702.3 91.1,700.5 92.1,698.8 93.1,697.5 94.1,696.5 95.1,696.0 96.1,696.3 97.1,697.5 98.1,699.4 99.1,701.9 100.1,704.8 101.1,708.1 102.1,713.3 103.1,720.1 104.1,727.6 105.1,734.9 106.1,741.2 107.1,746.9 108.1,752.6 109.1,758.2 110.1,763.3 111.1,767.8 112.1,771.5 113.1,774.5 114.1,777.5 115.1,780.3 116.1,782.6 117.1,784.2 118.1,784.8 119.1,784.4 120.1,783.0 121.1,780.7 122.1,777.9 123.1,774.9 124.1,771.7 125.1,767.5 126.1,762.1 127.1,756.3 128.1,750.4 129.1,745.3 130.1,740.7 131.1,736.0 132.1,731.6 133.1,727.8 134.1,725.2 135.1,723.9 136.1,722.9 137.1,722.1 138.1,721.4 139.1,721.0 140.1,721.0 141.1,721.6 142.1,722.8 143.1,724.4 144.1,726.1 145.1,727.7 146.1,729.3 147.1,731.1 148.1,732.9 149.1,734.7 150.1,736.4 151.1,737.9 152.1,739.0 153.1,740.1 154.1,741.1 155.1,742.0 156.1,742.6 157.1,743.1 158.1,743.4 159.1,743.7 160.1,743.9 161.1,744.1 162.1,744.3 163.1,744.5 164.1,744.7 165.1,745.0 166.1,745.5 167.1,746.0 168.1,746.7 169.1,747.4 170.1,748.2 171.1,749.0 172.1,749.8 173.1,750.6 174.1,751.3 175.1,752.1 176.1,752.9 177.1,753.8 178.1,754.6 179.1,755.3 180.1,755.9 181.1,756.3 182.1,756.6 183.1,756.9 184.1,757.2 185.1,757.4 186.1,757.6 187.1,757.7 188.1,757.8 189.1,757.7 190.1,757.6 191.1,757.4 192.1,757.1 193.1,756.8 194.1,756.5 195.1,756.1 196.1,755.9 197.1,755.6 198.1,755.4 199.1,755.2 200.1,755.0 201.1,754.8 202.1,754.6 203.1,754.5 204.1,754.3 205.1,754.2 206.1,754.1 207.1,754.0 208.1,754.0 209.1,753.9 210.1,753.9 211.1,753.8 212.1,753.8 213.1,753.7 214.1,753.7 215.1,753.6 216.1,753.5 217.1,753.4 218.1,753.3 219.1,753.2 220.1,753.1 221.1,753.0 222.1,752.9 223.1,752.8 224.1,752.7 225.1,752.7 226.1,752.7 227.1,752.9 228.1,753.1 229.1,753.5 230.1,753.9 231.1,754.4 232.1,754.9 233.1,755.3 234.1,755.9 235.1,756.7 236.1,757.5 237.1,758.3 238.1,758.9 239.1,759.4 240.1,759.7 241.1,760.0 242.1,760.2 243.1,760.4 244.1,760.5 245.1,760.5 246.1,760.0 247.1,759.3 248.1,758.4 249.1,757.3 250.1,756.1 251.1,755.0 252.1,754.0 253.1,753.1 254.1,752.0 255.1,750.9 256.1,749.8 257.1,748.7 258.1,747.7 259.1,746.7 260.1,745.9 261.1,745.3 262.1,744.6 263.1,744.0 264.1,743.5 265.1,743.0 266.1,742.5 267.1,742.1 268.1,741.7 269.1,741.4 270.1,741.2 271.1,740.9 272.1,740.8 273.1,740.6 274.1,740.4 275.1,740.3 276.1,740.1 277.1,739.9 278.1,739.7 279.1,739.5 280.1,739.2 281.1,738.8 282.1,738.3 283.1,737.8 284.1,737.2 285.1,736.7 286.1,736.1 287.1,735.6 288.1,735.0 289.1,734.5 290.1,733.8 291.1,733.2 292.1,732.5 293.1,731.9 294.1,731.4 295.1,731.1 296.1,730.9 297.1,730.9 298.1,731.1 299.1,731.4 300.1,731.7 301.1,732.1 302.1,732.6 303.1,733.0 304.1,733.4 305.1,733.7 306.1,734.0 307.1,734.3 308.1,734.6 309.1,734.9 310.1,735.2 311.1,735.5 312.1,735.8 313.1,736.1 314.1,736.4 315.1,736.7 316.1,737.0 317.1,737.2 318.1,737.5 319.1,737.8 320.1,738.1 321.1,738.5 322.1,738.9 323.1,739.4 324.1,740.0 325.1,740.6 326.1,741.3 327.1,742.1 328.1,742.9 329.1,743.7 330.1,744.5 331.1,745.5 332.1,746.5 333.1,747.7 334.1,748.9 335.1,749.9 336.1,750.7 337.1,751.3 338.1,751.7 339.1,752.2 340.1,752.6 341.1,752.9 342.1,753.1 343.1,753.1 344.1,753.0 345.1,752.7 346.1,752.4 347.1,751.9 348.1,751.5 349.1,751.1 350.1,750.7 351.1,750.1 352.1,749.6 353.1,749.0 354.1,748.6 355.1,748.3 356.1,748.2 357.1,748.3 358.1,748.4 359.1,748.6 360.1,749.0 361.1,749.3 362.1,749.7 363.1,750.2 364.1,750.6 365.1,751.1 366.1,751.6 367.1,752.1 368.1,752.6 369.1,753.1 370.1,753.5 371.1,753.9 372.1,754.2 373.1,754.5 374.1,754.7 375.1,754.8 376.1,754.8 377.1,754.7 378.1,754.5 379.1,754.2 380.1,753.9 381.1,753.5 382.1,753.1 383.1,752.7 384.1,752.2 385.1,751.8 386.1,751.4 387.1,751.1 388.1,750.8 389.1,750.6 390.1,750.4 391.1,750.4 392.1,750.5 393.1,750.6 394.1,750.8 395.1,751.1 396.1,751.4 397.1,751.7 398.1,752.0 399.1,752.2 400.1,752.4 401.1,752.5 402.1,752.6 403.1,752.5 404.1,752.3 405.1,751.9 406.1,751.5 407.1,751.0 408.1,750.4 409.1,749.8 410.1,749.2 411.1,748.5 412.1,747.8 413.1,747.1 414.1,746.4 415.1,745.8 416.1,745.2 417.1,744.6 418.1,744.2 419.1,743.8 420.1,743.5 421.1,743.4 422.1,743.4 423.1,743.5 424.1,743.8 425.1,744.2 426.1,744.6 427.1,745.2 428.1,745.8 429.1,746.4 430.1,747.0 431.1,747.7 432.1,748.3 433.1,748.8 434.1,749.4 435.1,749.8 436.1,750.1 437.1,750.3 438.1,750.4 439.1,750.3 440.1,750.1 441.1,749.9 442.1,749.5 443.1,749.1 444.1,748.6 445.1,748.1 446.1,747.5 447.1,747.0 448.1,746.5 449.1,746.0 450.1,745.5 451.1,745.1 452.1,744.8 453.1,744.6 454.1,744.5 455.1,744.5 456.1,744.6 457.1,744.7 458.1,745.0 459.1,745.2 460.1,745.5 461.1,745.8 462.1,746.2 463.1,746.5 464.1,746.8 465.1,747.0 466.1,747.3 467.1,747.4 468.1,747.5 469.1,747.5 470.1,747.4 471.1,747.3 472.1,747.0 473.1,746.7 474.1,746.3 475.1,745.9 476.1,745.5 477.1,745.1 478.1,744.6 479.1,744.2 480.1,743.8 481.1,743.5 482.1,743.2 483.1,742.9 484.1,742.8 485.1,742.7 486.1,742.7 487.1,742.8 488.1,742.8 489.1,742.9 490.1,743.0 491.1,743.1 492.1,743.2 493.1,743.4 494.1,743.5 495.1,743.7 496.1,743.8 497.1,744.0 498.1,744.1 499.1,744.3 500.1,744.4 501.1,744.5 502.1,744.6 503.1,744.7 504.1,744.8 505.1,744.9 506.1,744.9 507.1,744.9 508.1,744.9 509.1,744.9 510.1,744.9 511.1,744.9 512.1,744.8 513.1,744.8 514.1,744.8 515.1,744.7 516.1,744.7 517.1,744.6 518.1,744.6 519.1,744.5 520.1,744.5 521.1,744.4 522.1,744.3 523.1,744.2 524.1,744.0 525.1,743.8 526.1,743.6 527.1,743.4 528.1,743.2 529.1,743.0 530.1,742.9 531.1,742.7 532.1,742.5 533.1,742.4 534.1,742.3 535.1,742.3 536.1,742.3 537.1,742.4 538.1,742.7 539.1,743.1 540.1,743.5 541.1,744.0 542.1,744.6 543.1,745.2 544.1,745.9 545.1,746.5 546.1,747.2 547.1,747.8 548.1,748.4 549.1,748.9 550.1,749.4 551.1,749.8 552.1,750.1 553.1,750.3 554.1,750.4 555.1,750.3 556.1,750.1 557.1,749.8 558.1,749.3 559.1,748.8 560.1,748.2 561.1,747.6 562.1,746.9 563.1,746.3 564.1,745.7 565.1,745.1 566.1,744.6 567.1,744.2 568.1,744.0 569.1,743.8 570.1,743.9 571.1,744.1 572.1,744.5 573.1,745.0 574.1,745.7 575.1,746.5 576.1,747.3 577.1,748.2 578.1,749.2 579.1,750.1 580.1,751.0 581.1,751.9 582.1,752.7 583.1,753.4 584.1,754.0 585.1,754.4 586.1,754.7 587.1,754.8 588.1,754.6 589.1,754.3 590.1,753.8 591.1,753.2 592.1,752.5 593.1,751.6 594.1,750.7 595.1,749.7 596.1,748.7 597.1,747.7 598.1,746.7 599.1,745.8 600.1,744.9 601.1,744.1 602.1,743.5 603.1,742.9 604.1,742.5 605.1,742.3 606.1,742.3 607.1,742.5 608.1,742.8 609.1,743.2 610.1,743.7 611.1,744.3 612.1,745.0 613.1,745.7 614.1,746.5 615.1,747.2 616.1,747.9 617.1,748.6 618.1,749.3 619.1,749.9 620.1,750.3 621.1,750.7 622.1,751.0 623.1,751.0 624.1,751.0 625.1,750.7 626.1,750.4 627.1,750.0 628.1,749.5 629.1,748.9 630.1,748.4 631.1,747.9 632.1,747.4 633.1,747.0 634.1,746.7 635.1,746.4 636.1,746.2 637.1,746.0 637.5,746.0" fill="none" stroke="#3C6D56" stroke-width="4.75" stroke-linejoin="round" stroke-linecap="butt" clip-path="url(#clipa)"/>
<path d="M70.1,890.6 71.1,889.9 72.1,889.0 73.1,887.9 74.1,886.6 75.1,885.2 76.1,883.4 77.1,881.4 78.1,879.2 79.1,876.4 80.1,872.7 81.1,868.2 82.1,863.4 83.1,858.4 84.1,853.8 85.1,849.6 86.1,845.5 87.1,841.3 88.1,837.4 89.1,834.1 90.1,831.7 91.1,829.9 92.1,828.3 93.1,827.0 94.1,826.1 95.1,825.8 96.1,826.5 97.1,827.9 98.1,830.0 99.1,832.5 100.1,835.4 101.1,840.0 102.1,845.9 103.1,852.4 104.1,858.8 105.1,864.5 106.1,869.8 107.1,875.3 108.1,880.7 109.1,885.9 110.1,890.8 111.1,895.1 112.1,898.8 113.1,901.9 114.1,905.1 115.1,908.1 116.1,910.6 117.1,912.4 118.1,913.2 119.1,912.7 120.1,911.1 121.1,908.7 122.1,905.6 123.1,902.3 124.1,898.9 125.1,894.6 126.1,889.1 127.1,883.1 128.1,877.4 129.1,872.5 130.1,868.5 131.1,864.5 132.1,860.7 133.1,857.2 134.1,854.4 135.1,852.5 136.1,851.3 137.1,850.4 138.1,849.7 139.1,849.1 140.1,848.8 141.1,848.7 142.1,849.1 143.1,850.0 144.1,851.2 145.1,852.5 146.1,853.9 147.1,855.3 148.1,857.1 149.1,859.0 150.1,861.0 151.1,863.0 152.1,864.7 153.1,866.1 154.1,867.1 155.1,868.0 156.1,868.7 157.1,869.4 158.1,870.0 159.1,870.5 160.1,871.0 161.1,871.4 162.1,871.7 163.1,872.0 164.1,872.3 165.1,872.6 166.1,872.9 167.1,873.2 168.1,873.5 169.1,873.9 170.1,874.4 171.1,875.0 172.1,875.7 173.1,876.5 174.1,877.3 175.1,878.1 176.1,878.9 177.1,879.7 178.1,880.4 179.1,881.0 180.1,881.5 181.1,881.9 182.1,882.3 183.1,882.7 184.1,883.1 185.1,883.4 186.1,883.7 187.1,883.9 188.1,884.0 189.1,884.0 190.1,883.9 191.1,883.7 192.1,883.5 193.1,883.2 194.1,882.9 195.1,882.6 196.1,882.3 197.1,882.1 198.1,881.8 199.1,881.5 200.1,881.1 201.1,880.8 202.1,880.5 203.1,880.3 204.1,880.1 205.1,880.0 206.1,880.0 207.1,880.1 208.1,880.2 209.1,880.3 210.1,880.5 211.1,880.6 212.1,880.8 213.1,881.0 214.1,881.2 215.1,881.3 216.1,881.5 217.1,881.6 218.1,881.7 219.1,881.8 220.1,881.9 221.1,882.0 222.1,882.2 223.1,882.2 224.1,882.3 225.1,882.4 226.1,882.5 227.1,882.5 228.1,882.6 229.1,882.6 230.1,882.7 231.1,882.7 232.1,882.7 233.1,882.8 234.1,882.8 235.1,882.8 236.1,882.9 237.1,882.9 238.1,883.0 239.1,883.2 240.1,883.4 241.1,883.7 242.1,884.0 243.1,884.2 244.1,884.5 245.1,884.8 246.1,885.0 247.1,885.1 248.1,885.2 249.1,885.3 250.1,885.1 251.1,884.7 252.1,884.2 253.1,883.6 254.1,882.9 255.1,882.2 256.1,881.5 257.1,880.8 258.1,879.9 259.1,878.9 260.1,877.8 261.1,876.7 262.1,875.5 263.1,874.5 264.1,873.5 265.1,872.6 266.1,871.7 267.1,870.7 268.1,869.8 269.1,868.9 270.1,868.1 271.1,867.4 272.1,866.9 273.1,866.7 274.1,866.5 275.1,866.4 276.1,866.3 277.1,866.2 278.1,866.1 279.1,866.1 280.1,866.0 281.1,866.0 282.1,866.0 283.1,866.0 284.1,866.0 285.1,866.0 286.1,866.0 287.1,866.0 288.1,866.0 289.1,866.0 290.1,865.9 291.1,865.5 292.1,865.0 293.1,864.4 294.1,863.7 295.1,863.1 296.1,862.6 297.1,862.1 298.1,861.5 299.1,861.0 300.1,860.4 301.1,859.9 302.1,859.5 303.1,859.3 304.1,859.3 305.1,859.4 306.1,859.7 307.1,860.1 308.1,860.6 309.1,861.2 310.1,861.8 311.1,862.4 312.1,863.0 313.1,863.8 314.1,864.6 315.1,865.6 316.1,866.6 317.1,867.6 318.1,868.5 319.1,869.4 320.1,870.1 321.1,870.6 322.1,871.0 323.1,871.2 324.1,871.4 325.1,871.6 326.1,871.8 327.1,872.0 328.1,872.1 329.1,872.2 330.1,872.3 331.1,872.4 332.1,872.5 333.1,872.6 334.1,872.7 335.1,872.7 336.1,872.8 337.1,872.9 338.1,873.1 339.1,873.3 340.1,873.6 341.1,874.1 342.1,874.5 343.1,875.0 344.1,875.4 345.1,875.9 346.1,876.4 347.1,877.0 348.1,877.6 349.1,878.3 350.1,879.0 351.1,879.7 352.1,880.3 353.1,880.8 354.1,881.2 355.1,881.4 356.1,881.5 357.1,881.5 358.1,881.4 359.1,881.3 360.1,881.3 361.1,881.2 362.1,881.1 363.1,881.0 364.1,880.9 365.1,880.8 366.1,880.7 367.1,880.6 368.1,880.6 369.1,880.6 370.1,880.6 371.1,880.6 372.1,880.7 373.1,880.8 374.1,880.9 375.1,881.0 376.1,881.1 377.1,881.2 378.1,881.3 379.1,881.3 380.1,881.4 381.1,881.5 382.1,881.5 383.1,881.4 384.1,881.3 385.1,881.2 386.1,880.9 387.1,880.7 388.1,880.3 389.1,880.0 390.1,879.6 391.1,879.2 392.1,878.8 393.1,878.4 394.1,878.0 395.1,877.7 396.1,877.3 397.1,877.0 398.1,876.7 399.1,876.5 400.1,876.3 401.1,876.2 402.1,876.2 403.1,876.2 404.1,876.3 405.1,876.3 406.1,876.4 407.1,876.5 408.1,876.6 409.1,876.7 410.1,876.8 411.1,876.9 412.1,877.0 413.1,877.0 414.1,877.1 415.1,877.1 416.1,877.1 417.1,877.0 418.1,876.8 419.1,876.6 420.1,876.4 421.1,876.1 422.1,875.8 423.1,875.5 424.1,875.2 425.1,874.8 426.1,874.5 427.1,874.2 428.1,873.9 429.1,873.6 430.1,873.3 431.1,873.1 432.1,872.9 433.1,872.8 434.1,872.7 435.1,872.7 436.1,872.7 437.1,872.7 438.1,872.8 439.1,872.8 440.1,872.8 441.1,872.9 442.1,872.9 443.1,873.0 444.1,873.0 445.1,873.1 446.1,873.1 447.1,873.2 448.1,873.3 449.1,873.3 450.1,873.4 451.1,873.4 452.1,873.5 453.1,873.6 454.1,873.6 455.1,873.7 456.1,873.8 457.1,873.9 458.1,874.0 459.1,874.0 460.1,874.1 461.1,874.2 462.1,874.3 463.1,874.3 464.1,874.4 465.1,874.4 466.1,874.4 467.1,874.5 468.1,874.5 469.1,874.4 470.1,874.3 471.1,874.2 472.1,874.1 473.1,874.0 474.1,873.8 475.1,873.6 476.1,873.4 477.1,873.2 478.1,873.0 479.1,872.8 480.1,872.6 481.1,872.5 482.1,872.3 483.1,872.1 484.1,872.0 485.1,871.9 486.1,871.9 487.1,871.8 488.1,871.8 489.1,871.9 490.1,872.0 491.1,872.1 492.1,872.3 493.1,872.4 494.1,872.6 495.1,872.7 496.1,872.8 497.1,872.9 498.1,872.9 499.1,872.9 500.1,872.8 501.1,872.7 502.1,872.6 503.1,872.4 504.1,872.2 505.1,871.9 506.1,871.7 507.1,871.5 508.1,871.2 509.1,871.0 510.1,870.8 511.1,870.7 512.1,870.6 513.1,870.5 514.1,870.5 515.1,870.6 516.1,870.7 517.1,870.9 518.1,871.2 519.1,871.4 520.1,871.7 521.1,872.1 522.1,872.4 523.1,872.7 524.1,873.1 525.1,873.4 526.1,873.7 527.1,873.9 528.1,874.1 529.1,874.3 530.1,874.4 531.1,874.5 532.1,874.4 533.1,874.4 534.1,874.2 535.1,874.1 536.1,873.9 537.1,873.7 538.1,873.5 539.1,873.3 540.1,873.1 541.1,873.0 542.1,872.8 543.1,872.8 544.1,872.7 545.1,872.7 546.1,872.8 547.1,873.0 548.1,873.2 549.1,873.5 550.1,873.8 551.1,874.2 552.1,874.5 553.1,874.9 554.1,875.3 555.1,875.7 556.1,876.0 557.1,876.3 558.1,876.6 559.1,876.8 560.1,877.0 561.1,877.1 562.1,877.1 563.1,877.1 564.1,877.0 565.1,877.0 566.1,876.9 567.1,876.8 568.1,876.8 569.1,876.7 570.1,876.6 571.1,876.5 572.1,876.4 573.1,876.4 574.1,876.3 575.1,876.3 576.1,876.2 577.1,876.2 578.1,876.2 579.1,876.3 580.1,876.3 581.1,876.4 582.1,876.5 583.1,876.7 584.1,876.8 585.1,876.9 586.1,877.1 587.1,877.2 588.1,877.3 589.1,877.5 590.1,877.6 591.1,877.7 592.1,877.7 593.1,877.7 594.1,877.7 595.1,877.7 596.1,877.6 597.1,877.4 598.1,877.2 599.1,877.0 600.1,876.7 601.1,876.5 602.1,876.2 603.1,876.0 604.1,875.7 605.1,875.5 606.1,875.3 607.1,875.2 608.1,875.1 609.1,875.0 610.1,875.0 611.1,874.9 612.1,874.8 613.1,874.8 614.1,874.7 615.1,874.7 616.1,874.7 617.1,874.6 618.1,874.6 619.1,874.5 620.1,874.5 621.1,874.5 622.1,874.4 623.1,874.4 624.1,874.3 625.1,874.3 626.1,874.3 627.1,874.2 628.1,874.2 629.1,874.2 630.1,874.1 631.1,874.1 632.1,874.1 633.1,874.0 634.1,874.0 635.1,874.0 636.1,874.0 637.1,874.0 637.5,874.0" fill="none" stroke="#1C5A62" stroke-width="4.75" stroke-linejoin="round" stroke-linecap="butt" clip-path="url(#clipa)"/>
<path d="M70.1,1023.1 71.1,1022.4 72.1,1021.3 73.1,1020.1 74.1,1018.7 75.1,1017.1 76.1,1015.2 77.1,1013.0 78.1,1010.4 79.1,1007.5 80.1,1003.4 81.1,998.6 82.1,993.4 83.1,988.1 84.1,983.1 85.1,978.6 86.1,973.9 87.1,969.1 88.1,964.6 89.1,961.0 90.1,958.7 91.1,957.2 92.1,955.9 93.1,954.9 94.1,954.2 95.1,954.0 96.1,954.8 97.1,956.4 98.1,958.7 99.1,961.4 100.1,964.6 101.1,969.6 102.1,976.1 103.1,983.1 104.1,989.9 105.1,995.6 106.1,1001.0 107.1,1006.3 108.1,1011.5 109.1,1016.4 110.1,1020.9 111.1,1024.8 112.1,1027.9 113.1,1030.5 114.1,1033.0 115.1,1035.3 116.1,1037.2 117.1,1038.5 118.1,1039.1 119.1,1038.6 120.1,1037.2 121.1,1034.9 122.1,1032.1 123.1,1029.0 124.1,1025.9 125.1,1021.9 126.1,1016.9 127.1,1011.5 128.1,1006.2 129.1,1001.6 130.1,997.6 131.1,993.6 132.1,989.6 133.1,985.9 134.1,982.6 135.1,980.0 136.1,978.2 137.1,977.4 138.1,976.9 139.1,976.4 140.1,976.0 141.1,975.7 142.1,975.6 143.1,975.8 144.1,976.7 145.1,978.0 146.1,979.6 147.1,981.2 148.1,982.8 149.1,984.2 150.1,985.7 151.1,987.3 152.1,988.8 153.1,990.4 154.1,991.8 155.1,993.2 156.1,994.5 157.1,995.8 158.1,997.1 159.1,998.2 160.1,999.2 161.1,1000.0 162.1,1000.7 163.1,1001.3 164.1,1001.9 165.1,1002.5 166.1,1003.0 167.1,1003.4 168.1,1003.9 169.1,1004.3 170.1,1004.7 171.1,1005.1 172.1,1005.4 173.1,1005.8 174.1,1006.2 175.1,1006.6 176.1,1007.0 177.1,1007.4 178.1,1007.7 179.1,1008.0 180.1,1008.3 181.1,1008.6 182.1,1008.8 183.1,1008.9 184.1,1009.0 185.1,1009.1 186.1,1009.1 187.1,1009.2 188.1,1009.2 189.1,1009.3 190.1,1009.3 191.1,1009.3 192.1,1009.3 193.1,1009.4 194.1,1009.4 195.1,1009.4 196.1,1009.4 197.1,1009.5 198.1,1009.5 199.1,1009.5 200.1,1009.6 201.1,1009.6 202.1,1009.7 203.1,1009.7 204.1,1009.8 205.1,1009.8 206.1,1009.8 207.1,1009.9 208.1,1009.9 209.1,1009.9 210.1,1009.9 211.1,1009.8 212.1,1009.7 213.1,1009.5 214.1,1009.3 215.1,1009.1 216.1,1008.9 217.1,1008.6 218.1,1008.4 219.1,1008.1 220.1,1007.9 221.1,1007.7 222.1,1007.5 223.1,1007.4 224.1,1007.4 225.1,1007.4 226.1,1007.6 227.1,1007.8 228.1,1008.2 229.1,1008.7 230.1,1009.2 231.1,1009.7 232.1,1010.3 233.1,1010.8 234.1,1011.2 235.1,1011.6 236.1,1012.0 237.1,1012.4 238.1,1012.8 239.1,1013.2 240.1,1013.5 241.1,1013.8 242.1,1014.0 243.1,1014.1 244.1,1014.1 245.1,1013.9 246.1,1013.7 247.1,1013.3 248.1,1012.8 249.1,1012.3 250.1,1011.7 251.1,1011.1 252.1,1010.6 253.1,1010.0 254.1,1009.5 255.1,1008.9 256.1,1008.4 257.1,1007.8 258.1,1007.2 259.1,1006.6 260.1,1006.0 261.1,1005.4 262.1,1004.7 263.1,1004.1 264.1,1003.5 265.1,1002.8 266.1,1002.2 267.1,1001.6 268.1,1001.0 269.1,1000.3 270.1,999.7 271.1,999.0 272.1,998.4 273.1,997.7 274.1,997.1 275.1,996.4 276.1,995.7 277.1,994.9 278.1,994.1 279.1,993.2 280.1,992.4 281.1,991.5 282.1,990.8 283.1,990.2 284.1,989.7 285.1,989.4 286.1,989.4 287.1,989.4 288.1,989.5 289.1,989.6 290.1,989.7 291.1,989.9 292.1,990.1 293.1,990.2 294.1,990.4 295.1,990.6 296.1,990.8 297.1,991.1 298.1,991.3 299.1,991.6 300.1,991.8 301.1,992.0 302.1,992.1 303.1,992.1 304.1,991.9 305.1,991.6 306.1,991.2 307.1,990.7 308.1,990.2 309.1,989.6 310.1,989.2 311.1,988.7 312.1,988.4 313.1,988.3 314.1,988.4 315.1,988.7 316.1,989.3 317.1,990.1 318.1,991.0 319.1,991.9 320.1,993.0 321.1,994.0 322.1,995.0 323.1,996.2 324.1,997.7 325.1,999.2 326.1,1000.7 327.1,1002.1 328.1,1003.1 329.1,1003.9 330.1,1004.8 331.1,1005.5 332.1,1006.2 333.1,1006.7 334.1,1006.9 335.1,1006.9 336.1,1006.7 337.1,1006.3 338.1,1005.9 339.1,1005.5 340.1,1005.1 341.1,1004.7 342.1,1004.4 343.1,1004.1 344.1,1003.8 345.1,1003.7 346.1,1003.6 347.1,1003.5 348.1,1003.7 349.1,1004.1 350.1,1004.6 351.1,1005.3 352.1,1006.0 353.1,1006.6 354.1,1007.1 355.1,1007.6 356.1,1008.1 357.1,1008.7 358.1,1009.2 359.1,1009.7 360.1,1010.2 361.1,1010.7 362.1,1011.1 363.1,1011.4 364.1,1011.6 365.1,1011.7 366.1,1011.8 367.1,1011.6 368.1,1011.3 369.1,1010.9 370.1,1010.3 371.1,1009.7 372.1,1009.0 373.1,1008.2 374.1,1007.5 375.1,1006.7 376.1,1006.1 377.1,1005.4 378.1,1004.9 379.1,1004.5 380.1,1004.2 381.1,1004.1 382.1,1004.2 383.1,1004.4 384.1,1004.7 385.1,1005.1 386.1,1005.6 387.1,1006.1 388.1,1006.7 389.1,1007.2 390.1,1007.8 391.1,1008.4 392.1,1009.0 393.1,1009.5 394.1,1009.9 395.1,1010.3 396.1,1010.5 397.1,1010.7 398.1,1010.7 399.1,1010.5 400.1,1010.1 401.1,1009.6 402.1,1009.0 403.1,1008.2 404.1,1007.5 405.1,1006.6 406.1,1005.7 407.1,1004.9 408.1,1004.0 409.1,1003.2 410.1,1002.4 411.1,1001.7 412.1,1001.2 413.1,1000.8 414.1,1000.5 415.1,1000.4 416.1,1000.4 417.1,1000.6 418.1,1000.8 419.1,1001.1 420.1,1001.5 421.1,1001.9 422.1,1002.3 423.1,1002.7 424.1,1003.2 425.1,1003.6 426.1,1003.9 427.1,1004.2 428.1,1004.5 429.1,1004.7 430.1,1004.8 431.1,1004.7 432.1,1004.6 433.1,1004.4 434.1,1004.0 435.1,1003.6 436.1,1003.2 437.1,1002.7 438.1,1002.2 439.1,1001.8 440.1,1001.3 441.1,1000.8 442.1,1000.5 443.1,1000.1 444.1,999.9 445.1,999.8 446.1,999.7 447.1,999.8 448.1,999.8 449.1,999.9 450.1,999.9 451.1,1000.0 452.1,1000.1 453.1,1000.2 454.1,1000.3 455.1,1000.5 456.1,1000.6 457.1,1000.7 458.1,1000.8 459.1,1000.9 460.1,1000.9 461.1,1001.0 462.1,1001.0 463.1,1001.0 464.1,1001.0 465.1,1001.0 466.1,1001.0 467.1,1000.9 468.1,1000.9 469.1,1000.8 470.1,1000.7 471.1,1000.7 472.1,1000.6 473.1,1000.5 474.1,1000.4 475.1,1000.3 476.1,1000.2 477.1,1000.1 478.1,1000.0 479.1,999.9 480.1,999.8 481.1,999.7 482.1,999.6 483.1,999.5 484.1,999.4 485.1,999.2 486.1,999.1 487.1,999.0 488.1,998.8 489.1,998.7 490.1,998.6 491.1,998.5 492.1,998.4 493.1,998.3 494.1,998.3 495.1,998.2 496.1,998.2 497.1,998.2 498.1,998.3 499.1,998.5 500.1,998.6 501.1,998.8 502.1,999.1 503.1,999.4 504.1,999.6 505.1,999.9 506.1,1000.2 507.1,1000.5 508.1,1000.7 509.1,1000.9 510.1,1001.1 511.1,1001.3 512.1,1001.4 513.1,1001.5 514.1,1001.5 515.1,1001.4 516.1,1001.3 517.1,1001.1 518.1,1000.9 519.1,1000.7 520.1,1000.4 521.1,1000.1 522.1,999.8 523.1,999.6 524.1,999.3 525.1,999.1 526.1,998.9 527.1,998.8 528.1,998.7 529.1,998.6 530.1,998.7 531.1,998.8 532.1,999.1 533.1,999.3 534.1,999.7 535.1,1000.1 536.1,1000.5 537.1,1000.9 538.1,1001.3 539.1,1001.7 540.1,1002.2 541.1,1002.5 542.1,1002.9 543.1,1003.2 544.1,1003.4 545.1,1003.6 546.1,1003.7 547.1,1003.7 548.1,1003.7 549.1,1003.7 550.1,1003.7 551.1,1003.7 552.1,1003.7 553.1,1003.7 554.1,1003.7 555.1,1003.7 556.1,1003.7 557.1,1003.7 558.1,1003.7 559.1,1003.7 560.1,1003.7 561.1,1003.7 562.1,1003.7 563.1,1003.7 564.1,1003.7 565.1,1003.7 566.1,1003.7 567.1,1003.7 568.1,1003.7 569.1,1003.7 570.1,1003.7 571.1,1003.7 572.1,1003.7 573.1,1003.7 574.1,1003.7 575.1,1003.7 576.1,1003.7 577.1,1003.7 578.1,1003.7 579.1,1003.7 580.1,1003.7 581.1,1003.7 582.1,1003.7 583.1,1003.7 584.1,1003.7 585.1,1003.7 586.1,1003.9 587.1,1004.0 588.1,1004.2 589.1,1004.5 590.1,1004.7 591.1,1005.0 592.1,1005.3 593.1,1005.6 594.1,1005.8 595.1,1006.1 596.1,1006.2 597.1,1006.4 598.1,1006.5 599.1,1006.5 600.1,1006.5 601.1,1006.3 602.1,1006.0 603.1,1005.7 604.1,1005.3 605.1,1004.8 606.1,1004.3 607.1,1003.8 608.1,1003.3 609.1,1002.7 610.1,1002.2 611.1,1001.7 612.1,1001.2 613.1,1000.8 614.1,1000.4 615.1,1000.1 616.1,999.9 617.1,999.8 618.1,999.7 619.1,999.8 620.1,1000.0 621.1,1000.3 622.1,1000.6 623.1,1001.0 624.1,1001.5 625.1,1001.9 626.1,1002.4 627.1,1002.9 628.1,1003.5 629.1,1004.0 630.1,1004.4 631.1,1004.9 632.1,1005.3 633.1,1005.6 634.1,1005.9 635.1,1006.1 636.1,1006.3 637.1,1006.4 637.5,1006.5" fill="none" stroke="#103F60" stroke-width="4.75" stroke-linejoin="round" stroke-linecap="butt" clip-path="url(#clipa)"/>
<path d="M70.1,1143.4 71.1,1142.8 72.1,1142.0 73.1,1141.1 74.1,1139.9 75.1,1138.7 76.1,1137.1 77.1,1135.4 78.1,1133.3 79.1,1130.8 80.1,1127.2 81.1,1122.7 82.1,1117.8 83.1,1112.8 84.1,1108.1 85.1,1103.8 86.1,1099.4 87.1,1094.9 88.1,1090.8 89.1,1087.3 90.1,1084.9 91.1,1083.3 92.1,1081.8 93.1,1080.6 94.1,1079.9 95.1,1079.6 96.1,1080.2 97.1,1081.6 98.1,1083.5 99.1,1085.8 100.1,1088.4 101.1,1092.7 102.1,1098.3 103.1,1104.5 104.1,1110.8 105.1,1116.6 106.1,1122.4 107.1,1128.4 108.1,1134.4 109.1,1140.3 110.1,1145.8 111.1,1150.8 112.1,1155.7 113.1,1160.9 114.1,1165.9 115.1,1170.1 116.1,1172.9 117.1,1173.8 118.1,1172.9 119.1,1170.9 120.1,1168.0 121.1,1164.6 122.1,1160.9 123.1,1157.1 124.1,1152.4 125.1,1146.5 126.1,1139.9 127.1,1133.1 128.1,1126.5 129.1,1120.6 130.1,1115.0 131.1,1109.0 132.1,1103.3 133.1,1098.5 134.1,1095.2 135.1,1093.7 136.1,1092.7 137.1,1091.8 138.1,1091.1 139.1,1090.7 140.1,1090.7 141.1,1091.2 142.1,1092.4 143.1,1094.0 144.1,1095.8 145.1,1097.6 146.1,1099.6 147.1,1102.0 148.1,1104.7 149.1,1107.5 150.1,1110.2 151.1,1112.7 152.1,1114.8 153.1,1117.0 154.1,1119.0 155.1,1121.0 156.1,1122.9 157.1,1124.6 158.1,1126.2 159.1,1127.5 160.1,1128.7 161.1,1129.8 162.1,1130.8 163.1,1131.7 164.1,1132.6 165.1,1133.5 166.1,1134.4 167.1,1135.4 168.1,1136.6 169.1,1137.9 170.1,1139.2 171.1,1140.6 172.1,1141.9 173.1,1143.3 174.1,1144.5 175.1,1145.6 176.1,1146.6 177.1,1147.5 178.1,1148.4 179.1,1149.4 180.1,1150.2 181.1,1151.0 182.1,1151.6 183.1,1152.0 184.1,1152.2 185.1,1152.1 186.1,1151.9 187.1,1151.5 188.1,1151.0 189.1,1150.5 190.1,1149.9 191.1,1149.3 192.1,1148.7 193.1,1148.2 194.1,1147.7 195.1,1147.1 196.1,1146.5 197.1,1146.0 198.1,1145.4 199.1,1144.8 200.1,1144.3 201.1,1143.8 202.1,1143.3 203.1,1142.9 204.1,1142.4 205.1,1142.0 206.1,1141.6 207.1,1141.2 208.1,1140.7 209.1,1140.2 210.1,1139.7 211.1,1139.0 212.1,1138.2 213.1,1137.4 214.1,1136.6 215.1,1135.8 216.1,1135.0 217.1,1134.2 218.1,1133.6 219.1,1133.0 220.1,1132.3 221.1,1131.7 222.1,1131.1 223.1,1130.6 224.1,1130.2 225.1,1130.0 226.1,1130.0 227.1,1130.1 228.1,1130.4 229.1,1130.7 230.1,1131.1 231.1,1131.5 232.1,1131.8 233.1,1132.1 234.1,1132.5 235.1,1132.9 236.1,1133.3 237.1,1133.7 238.1,1134.0 239.1,1134.3 240.1,1134.5 241.1,1134.6 242.1,1134.6 243.1,1134.4 244.1,1134.2 245.1,1133.8 246.1,1133.4 247.1,1132.9 248.1,1132.4 249.1,1131.8 250.1,1131.3 251.1,1130.8 252.1,1130.3 253.1,1129.9 254.1,1129.4 255.1,1128.9 256.1,1128.5 257.1,1128.0 258.1,1127.5 259.1,1126.9 260.1,1126.4 261.1,1125.9 262.1,1125.4 263.1,1124.8 264.1,1124.2 265.1,1123.6 266.1,1122.9 267.1,1122.3 268.1,1121.6 269.1,1121.0 270.1,1120.4 271.1,1119.8 272.1,1119.3 273.1,1118.8 274.1,1118.3 275.1,1117.8 276.1,1117.3 277.1,1116.8 278.1,1116.4 279.1,1116.0 280.1,1115.7 281.1,1115.6 282.1,1115.6 283.1,1115.7 284.1,1115.9 285.1,1116.1 286.1,1116.4 287.1,1116.7 288.1,1117.1 289.1,1117.4 290.1,1117.7 291.1,1118.1 292.1,1118.6 293.1,1119.1 294.1,1119.6 295.1,1120.2 296.1,1120.7 297.1,1121.1 298.1,1121.4 299.1,1121.6 300.1,1121.8 301.1,1121.9 302.1,1122.0 303.1,1122.1 304.1,1122.2 305.1,1122.3 306.1,1122.3 307.1,1122.4 308.1,1122.5 309.1,1122.6 310.1,1122.8 311.1,1123.0 312.1,1123.3 313.1,1123.7 314.1,1124.2 315.1,1124.9 316.1,1125.6 317.1,1126.4 318.1,1127.1 319.1,1127.9 320.1,1128.6 321.1,1129.4 322.1,1130.4 323.1,1131.4 324.1,1132.4 325.1,1133.2 326.1,1134.0 327.1,1134.4 328.1,1134.6 329.1,1134.6 330.1,1134.5 331.1,1134.4 332.1,1134.3 333.1,1134.1 334.1,1133.9 335.1,1133.8 336.1,1133.6 337.1,1133.5 338.1,1133.4 339.1,1133.4 340.1,1133.3 341.1,1133.2 342.1,1133.1 343.1,1132.9 344.1,1132.4 345.1,1132.1 346.1,1132.2 347.1,1132.6 348.1,1133.0 349.1,1133.6 350.1,1134.2 351.1,1135.0 352.1,1135.7 353.1,1136.5 354.1,1137.2 355.1,1137.9 356.1,1138.5 357.1,1138.9 358.1,1139.2 359.1,1139.4 360.1,1139.3 361.1,1139.1 362.1,1138.8 363.1,1138.3 364.1,1137.8 365.1,1137.2 366.1,1136.6 367.1,1136.0 368.1,1135.3 369.1,1134.7 370.1,1134.1 371.1,1133.5 372.1,1133.0 373.1,1132.6 374.1,1132.3 375.1,1132.2 376.1,1132.1 377.1,1132.2 378.1,1132.4 379.1,1132.7 380.1,1133.0 381.1,1133.3 382.1,1133.7 383.1,1134.1 384.1,1134.5 385.1,1134.9 386.1,1135.2 387.1,1135.5 388.1,1135.7 389.1,1135.8 390.1,1135.8 391.1,1135.7 392.1,1135.5 393.1,1135.2 394.1,1134.8 395.1,1134.3 396.1,1133.7 397.1,1133.1 398.1,1132.5 399.1,1131.8 400.1,1131.2 401.1,1130.6 402.1,1130.0 403.1,1129.5 404.1,1129.1 405.1,1128.8 406.1,1128.5 407.1,1128.4 408.1,1128.4 409.1,1128.5 410.1,1128.7 411.1,1128.9 412.1,1129.1 413.1,1129.4 414.1,1129.7 415.1,1130.0 416.1,1130.3 417.1,1130.7 418.1,1131.0 419.1,1131.3 420.1,1131.6 421.1,1131.9 422.1,1132.1 423.1,1132.2 424.1,1132.3 425.1,1132.3 426.1,1132.3 427.1,1132.2 428.1,1132.0 429.1,1131.8 430.1,1131.6 431.1,1131.3 432.1,1131.0 433.1,1130.7 434.1,1130.4 435.1,1130.1 436.1,1129.7 437.1,1129.4 438.1,1129.1 439.1,1128.9 440.1,1128.6 441.1,1128.4 442.1,1128.3 443.1,1128.1 444.1,1128.0 445.1,1127.8 446.1,1127.7 447.1,1127.5 448.1,1127.4 449.1,1127.2 450.1,1127.1 451.1,1126.9 452.1,1126.8 453.1,1126.7 454.1,1126.6 455.1,1126.5 456.1,1126.4 457.1,1126.3 458.1,1126.3 459.1,1126.2 460.1,1126.2 461.1,1126.2 462.1,1126.3 463.1,1126.4 464.1,1126.6 465.1,1126.8 466.1,1127.1 467.1,1127.4 468.1,1127.8 469.1,1128.1 470.1,1128.5 471.1,1128.8 472.1,1129.2 473.1,1129.5 474.1,1129.7 475.1,1129.9 476.1,1130.1 477.1,1130.1 478.1,1130.1 479.1,1130.1 480.1,1129.9 481.1,1129.7 482.1,1129.4 483.1,1129.1 484.1,1128.7 485.1,1128.3 486.1,1127.9 487.1,1127.5 488.1,1127.1 489.1,1126.7 490.1,1126.4 491.1,1126.0 492.1,1125.7 493.1,1125.5 494.1,1125.3 495.1,1125.2 496.1,1125.1 497.1,1125.1 498.1,1125.2 499.1,1125.3 500.1,1125.5 501.1,1125.7 502.1,1125.9 503.1,1126.2 504.1,1126.4 505.1,1126.6 506.1,1126.9 507.1,1127.1 508.1,1127.3 509.1,1127.5 510.1,1127.6 511.1,1127.7 512.1,1127.8 513.1,1127.8 514.1,1127.9 515.1,1127.9 516.1,1127.9 517.1,1128.0 518.1,1128.0 519.1,1128.0 520.1,1128.1 521.1,1128.1 522.1,1128.2 523.1,1128.2 524.1,1128.4 525.1,1128.6 526.1,1128.8 527.1,1129.1 528.1,1129.4 529.1,1129.7 530.1,1130.0 531.1,1130.4 532.1,1130.7 533.1,1131.1 534.1,1131.4 535.1,1131.6 536.1,1131.9 537.1,1132.1 538.1,1132.2 539.1,1132.3 540.1,1132.3 541.1,1132.3 542.1,1132.3 543.1,1132.2 544.1,1132.1 545.1,1132.0 546.1,1131.9 547.1,1131.8 548.1,1131.7 549.1,1131.7 550.1,1131.6 551.1,1131.5 552.1,1131.5 553.1,1131.5 554.1,1131.5 555.1,1131.6 556.1,1131.8 557.1,1132.0 558.1,1132.2 559.1,1132.5 560.1,1132.8 561.1,1133.1 562.1,1133.4 563.1,1133.7 564.1,1134.0 565.1,1134.2 566.1,1134.4 567.1,1134.5 568.1,1134.5 569.1,1134.5 570.1,1134.4 571.1,1134.3 572.1,1134.1 573.1,1133.9 574.1,1133.7 575.1,1133.4 576.1,1133.1 577.1,1132.8 578.1,1132.5 579.1,1132.2 580.1,1131.9 581.1,1131.7 582.1,1131.5 583.1,1131.3 584.1,1131.1 585.1,1131.1 586.1,1131.0 587.1,1131.1 588.1,1131.2 589.1,1131.4 590.1,1131.6 591.1,1131.9 592.1,1132.1 593.1,1132.4 594.1,1132.7 595.1,1132.9 596.1,1133.1 597.1,1133.3 598.1,1133.4 599.1,1133.4 600.1,1133.4 601.1,1133.2 602.1,1133.0 603.1,1132.7 604.1,1132.4 605.1,1132.0 606.1,1131.6 607.1,1131.1 608.1,1130.7 609.1,1130.2 610.1,1129.7 611.1,1129.2 612.1,1128.8 613.1,1128.4 614.1,1128.0 615.1,1127.7 616.1,1127.4 617.1,1127.2 618.1,1127.1 619.1,1127.1 620.1,1127.1 621.1,1127.2 622.1,1127.4 623.1,1127.6 624.1,1127.8 625.1,1128.0 626.1,1128.3 627.1,1128.6 628.1,1128.8 629.1,1129.1 630.1,1129.4 631.1,1129.6 632.1,1129.8 633.1,1130.0 634.1,1130.2 635.1,1130.3 636.1,1130.4 637.1,1130.5 637.5,1130.5" fill="none" stroke="#011959" stroke-width="4.75" stroke-linejoin="round" stroke-linecap="butt" clip-path="url(#clipa)"/>
<path d="M763.8,115.8 764.8,115.8 765.8,115.8 766.8,115.9 767.8,115.9 768.8,115.9 769.8,115.9 770.8,115.9 771.8,115.9 772.8,115.9 773.8,116.0 774.8,116.0 775.8,116.0 776.8,116.0 777.8,116.0 778.8,116.1 779.8,116.1 780.8,116.1 781.8,116.1 782.8,116.1 783.8,116.2 784.8,116.2 785.8,116.2 786.8,116.2 787.8,116.2 788.8,116.3 789.8,116.3 790.8,116.3 791.8,116.3 792.8,116.3 793.8,116.4 794.8,116.4 795.8,116.4 796.8,116.4 797.8,116.4 798.8,116.5 799.8,116.5 800.8,116.5 801.8,116.5 802.8,116.6 803.8,116.6 804.8,116.6 805.8,116.6 806.8,116.6 807.8,116.6 808.8,116.7 809.8,116.7 810.8,116.7 811.8,116.7 812.8,116.7 813.8,116.7 814.8,116.7 815.8,116.7 816.8,116.7 817.8,116.7 818.8,116.7 819.8,116.7 820.8,116.7 821.8,116.7 822.8,116.7 823.8,116.7 824.8,116.7 825.8,116.7 826.8,116.7 827.8,116.7 828.8,116.7 829.8,116.7 830.8,116.7 831.8,116.7 832.8,116.7 833.8,116.7 834.8,116.7 835.8,116.5 836.8,115.9 837.8,115.1 838.8,114.1 839.8,113.2 840.8,112.3 841.8,111.4 842.8,110.6 843.8,109.6 844.8,108.7 845.8,107.9 846.8,107.1 847.8,106.5 848.8,106.0 849.8,105.6 850.8,105.3 851.8,105.0 852.8,104.6 853.8,104.1 854.8,103.6 855.8,102.8 856.8,101.6 857.8,100.2 858.8,98.7 859.8,97.1 860.8,95.7 861.8,94.4 862.8,93.1 863.8,91.7 864.8,90.3 865.8,89.2 866.8,88.4 867.8,88.1 868.8,88.3 869.8,89.1 870.8,90.1 871.8,91.3 872.8,92.4 873.8,93.4 874.8,94.4 875.8,95.5 876.8,96.6 877.8,97.6 878.8,98.5 879.8,99.3 880.8,100.0 881.8,100.6 882.8,101.1 883.8,101.7 884.8,102.3 885.8,103.0 886.8,103.9 887.8,104.8 888.8,105.5 889.8,106.0 890.8,106.0 891.8,105.7 892.8,105.3 893.8,104.7 894.8,104.0 895.8,103.4 896.8,102.9 897.8,102.5 898.8,102.4 899.8,102.7 900.8,103.5 901.8,104.7 902.8,106.1 903.8,107.4 904.8,108.5 905.8,109.2 906.8,109.8 907.8,110.3 908.8,110.8 909.8,111.0 910.8,111.1 911.8,111.2 912.8,111.3 913.8,111.3 914.8,111.4 915.8,111.6 916.8,111.8 917.8,112.3 918.8,112.9 919.8,113.6 920.8,114.3 921.8,114.9 922.8,115.4 923.8,115.9 924.8,116.4 925.8,116.9 926.8,117.4 927.8,117.8 928.8,118.1 929.8,118.3 930.8,118.4 931.8,118.4 932.8,118.2 933.8,117.8 934.8,117.4 935.8,117.0 936.8,116.5 937.8,116.0 938.8,115.5 939.8,115.1 940.8,114.6 941.8,114.1 942.8,113.6 943.8,113.1 944.8,112.6 945.8,112.0 946.8,111.5 947.8,111.0 948.8,110.4 949.8,109.7 950.8,108.7 951.8,107.3 952.8,105.5 953.8,103.5 954.8,101.5 955.8,99.7 956.8,97.7 957.8,95.4 958.8,93.1 959.8,91.1 960.8,89.5 961.8,88.6 962.8,88.6 963.8,89.6 964.8,91.3 965.8,93.2 966.8,95.2 967.8,96.9 968.8,98.9 969.8,101.0 970.8,103.0 971.8,104.8 972.8,106.1 973.8,106.7 974.8,106.9 975.8,107.1 976.8,107.3 977.8,107.4 978.8,107.5 979.8,107.7 980.8,107.9 981.8,108.1 982.8,108.4 983.8,108.6 984.8,109.0 985.8,109.4 986.8,109.9 987.8,110.4 988.8,110.8 989.8,110.9 990.8,110.2 991.8,108.5 992.8,106.3 993.8,103.9 994.8,101.8 995.8,100.0 996.8,98.0 997.8,96.0 998.8,94.2 999.8,92.5 1000.8,91.2 1001.8,90.4 1002.8,89.7 1003.8,89.1 1004.8,88.5 1005.8,88.1 1006.8,87.9 1007.8,87.9 1008.8,88.5 1009.8,89.7 1010.8,91.1 1011.8,92.8 1012.8,94.3 1013.8,95.7 1014.8,97.1 1015.8,98.5 1016.8,100.0 1017.8,101.5 1018.8,102.9 1019.8,104.3 1020.8,105.8 1021.8,107.6 1022.8,109.3 1023.8,110.8 1024.8,111.8 1025.8,112.1 1026.8,111.9 1027.8,111.4 1028.8,110.7 1029.8,109.9 1030.8,109.0 1031.8,108.1 1032.8,107.3 1033.8,106.7 1034.8,106.2 1035.8,106.0 1036.8,106.2 1037.8,106.7 1038.8,107.4 1039.8,108.3 1040.8,109.2 1041.8,110.0 1042.8,110.7 1043.8,111.1 1044.8,111.0 1045.8,109.9 1046.8,108.0 1047.8,105.6 1048.8,103.2 1049.8,100.5 1050.8,96.9 1051.8,93.5 1052.8,90.9 1053.8,89.0 1054.8,87.3 1055.8,85.7 1056.8,84.6 1057.8,84.1 1058.8,84.2 1059.8,84.9 1060.8,86.0 1061.8,87.4 1062.8,89.1 1063.8,91.8 1064.8,95.0 1065.8,98.0 1066.8,100.8 1067.8,103.5 1068.8,105.9 1069.8,107.8 1070.8,109.5 1071.8,110.6 1072.8,110.6 1073.8,110.0 1074.8,109.0 1075.8,107.9 1076.8,106.7 1077.8,105.6 1078.8,104.9 1079.8,104.5 1080.8,104.2 1081.8,104.0 1082.8,103.8 1083.8,103.6 1084.8,103.5 1085.8,103.4 1086.8,103.4 1087.8,103.5 1088.8,103.7 1089.8,104.1 1090.8,104.5 1091.8,105.0 1092.8,105.4 1093.8,105.6 1094.8,105.9 1095.8,106.1 1096.8,106.3 1097.8,106.6 1098.8,106.7 1099.8,106.9 1100.8,107.0 1101.8,107.1 1102.8,106.9 1103.8,106.2 1104.8,105.2 1105.8,103.9 1106.8,102.6 1107.8,101.3 1108.8,100.3 1109.8,99.2 1110.8,98.0 1111.8,96.9 1112.8,95.9 1113.8,95.1 1114.8,94.8 1115.8,95.0 1116.8,95.7 1117.8,96.9 1118.8,98.2 1119.8,99.6 1120.8,101.0 1121.8,102.1 1122.8,103.3 1123.8,104.6 1124.8,105.9 1125.8,107.0 1126.8,107.8 1127.8,108.1 1128.8,108.1 1129.8,107.9 1130.8,107.5 1131.8,107.1 1132.8,106.7 1133.8,106.2 1134.8,105.8 1135.8,105.4 1136.8,105.0 1137.8,104.5 1138.8,104.0 1139.8,103.5 1140.8,103.0 1141.8,102.5 1142.8,102.1 1143.8,101.7 1144.8,101.4 1145.8,101.2 1146.8,101.0 1147.8,100.8 1148.8,100.6 1149.8,100.4 1150.8,100.2 1151.8,100.0 1152.8,99.7 1153.8,99.4 1154.8,99.1 1155.8,98.6 1156.8,98.0 1157.8,97.2 1158.8,96.3 1159.8,95.4 1160.8,94.4 1161.8,93.5 1162.8,92.6 1163.8,91.6 1164.8,90.5 1165.8,89.3 1166.8,88.1 1167.8,87.0 1168.8,85.9 1169.8,85.0 1170.8,84.2 1171.8,83.6 1172.8,83.4 1173.8,83.5 1174.8,84.1 1175.8,85.1 1176.8,86.3 1177.8,87.6 1178.8,88.9 1179.8,90.1 1180.8,91.3 1181.8,92.6 1182.8,94.0 1183.8,95.4 1184.8,96.8 1185.8,98.1 1186.8,99.2 1187.8,100.3 1188.8,101.1 1189.8,102.0 1190.8,102.9 1191.8,103.7 1192.8,104.5 1193.8,105.3 1194.8,106.1 1195.8,106.7 1196.8,107.3 1197.8,107.8 1198.8,108.2 1199.8,108.4 1200.8,108.6 1201.8,108.4 1202.8,107.9 1203.8,107.1 1204.8,106.0 1205.8,104.8 1206.8,103.5 1207.8,102.3 1208.8,101.3 1209.8,100.5 1210.8,99.9 1211.8,99.4 1212.8,98.8 1213.8,98.4 1214.8,97.9 1215.8,97.5 1216.8,97.0 1217.8,96.5 1218.8,96.0 1219.8,95.4 1220.8,94.7 1221.8,93.9 1222.8,93.0 1223.8,92.1 1224.8,91.2 1225.8,90.3 1226.8,89.6 1227.8,89.0 1228.8,88.6 1229.8,88.3 1230.8,88.4 1231.8,88.6 1232.8,89.0 1233.8,89.6 1234.8,90.2 1235.8,91.0 1236.8,91.7 1237.8,92.4 1238.8,93.1 1239.8,93.8 1240.8,94.7 1241.8,95.6 1242.8,96.6 1243.8,97.6 1244.8,98.5 1245.8,99.4 1246.8,100.1 1247.8,100.7 1248.8,101.1 1249.8,101.3 1250.8,101.3 1251.8,101.4 1252.8,101.5 1253.8,101.5 1254.8,101.6 1255.8,101.6 1256.8,101.6 1257.8,101.6 1258.8,101.7 1259.8,101.7 1260.8,101.7 1261.8,101.6 1262.8,101.4 1263.8,101.2 1264.8,101.0 1265.8,100.8 1266.8,100.5 1267.8,100.3 1268.8,100.1 1269.8,100.0 1270.8,100.0 1271.8,100.0 1272.8,100.1 1273.8,100.4 1274.8,100.7 1275.8,101.1 1276.8,101.5 1277.8,101.9 1278.8,102.2 1279.8,102.5 1280.8,102.7 1281.8,102.7 1282.8,102.5 1283.8,101.7 1284.8,100.6 1285.8,99.3 1286.8,98.0 1287.8,96.8 1288.8,95.8 1289.8,94.8 1290.8,93.7 1291.8,92.7 1292.8,91.7 1293.8,90.8 1294.8,90.0 1295.8,89.5 1296.8,89.2 1297.8,89.1 1298.8,89.0 1299.8,88.9 1300.8,88.8 1301.8,88.8 1302.8,88.8 1303.8,88.8 1304.8,88.8 1305.8,88.9 1306.8,89.0 1307.8,89.1 1308.8,89.3 1309.8,89.4 1310.8,89.6 1311.8,89.8 1312.8,90.1 1313.8,90.5 1314.8,91.0 1315.8,91.6 1316.8,92.2 1317.8,92.8 1318.8,93.3 1319.8,93.8 1320.8,94.1 1321.8,94.1 1322.8,93.6 1323.8,92.6 1324.8,91.3 1325.8,90.0 1326.8,88.9 1327.8,88.3 1328.8,87.7 1329.8,87.2 1330.8,86.8 1330.9,86.8" fill="none" stroke="#A066FC" stroke-width="4.75" stroke-linejoin="round" stroke-linecap="butt" clip-path="url(#clipb)"/>
<path d="M763.8,214.6 764.8,214.6 765.8,214.6 766.8,214.6 767.8,214.6 768.8,214.6 769.8,214.6 770.8,214.6 771.8,214.6 772.8,214.6 773.8,214.6 774.8,214.6 775.8,214.6 776.8,214.6 777.8,214.6 778.8,214.6 779.8,214.6 780.8,214.6 781.8,214.6 782.8,214.6 783.8,214.6 784.8,214.6 785.8,214.6 786.8,214.6 787.8,214.6 788.8,214.6 789.8,214.6 790.8,214.6 791.8,214.6 792.8,214.6 793.8,214.6 794.8,214.6 795.8,214.6 796.8,214.6 797.8,214.6 798.8,214.6 799.8,214.6 800.8,214.6 801.8,214.6 802.8,214.6 803.8,214.6 804.8,214.6 805.8,214.6 806.8,214.6 807.8,214.6 808.8,214.6 809.8,214.6 810.8,214.6 811.8,214.6 812.8,214.6 813.8,214.6 814.8,214.6 815.8,214.6 816.8,214.6 817.8,214.6 818.8,214.6 819.8,214.6 820.8,214.6 821.8,214.6 822.8,214.6 823.8,214.6 824.8,214.6 825.8,214.6 826.8,214.6 827.8,214.6 828.8,214.6 829.8,214.6 830.8,214.6 831.8,214.6 832.8,214.6 833.8,214.6 834.8,214.6 835.8,214.6 836.8,214.6 837.8,214.6 838.8,214.6 839.8,214.6 840.8,214.6 841.8,214.6 842.8,214.6 843.8,214.6 844.8,214.6 845.8,214.6 846.8,214.6 847.8,214.6 848.8,214.6 849.8,214.6 850.8,214.6 851.8,214.6 852.8,214.6 853.8,214.6 854.8,214.6 855.8,214.6 856.8,214.6 857.8,214.6 858.8,214.6 859.8,214.6 860.8,214.6 861.8,214.6 862.8,214.6 863.8,214.6 864.8,214.6 865.8,214.4 866.8,213.8 867.8,213.0 868.8,212.1 869.8,211.3 870.8,210.5 871.8,209.9 872.8,209.2 873.8,208.5 874.8,207.8 875.8,207.2 876.8,206.7 877.8,206.3 878.8,206.1 879.8,206.1 880.8,206.4 881.8,206.8 882.8,207.3 883.8,207.9 884.8,208.6 885.8,209.2 886.8,209.8 887.8,210.5 888.8,211.4 889.8,212.2 890.8,213.0 891.8,213.7 892.8,214.1 893.8,214.2 894.8,214.3 895.8,214.3 896.8,214.4 897.8,214.4 898.8,214.4 899.8,214.5 900.8,214.5 901.8,214.5 902.8,214.5 903.8,214.6 904.8,214.6 905.8,214.6 906.8,214.6 907.8,214.6 908.8,214.6 909.8,214.6 910.8,214.6 911.8,214.6 912.8,214.6 913.8,214.6 914.8,214.6 915.8,214.6 916.8,214.6 917.8,214.6 918.8,214.6 919.8,214.6 920.8,214.6 921.8,214.6 922.8,214.6 923.8,214.6 924.8,214.6 925.8,214.6 926.8,214.6 927.8,214.6 928.8,214.6 929.8,214.6 930.8,214.6 931.8,214.6 932.8,214.6 933.8,214.6 934.8,214.6 935.8,214.6 936.8,214.6 937.8,214.6 938.8,214.6 939.8,214.6 940.8,214.6 941.8,214.6 942.8,214.6 943.8,214.6 944.8,214.6 945.8,214.6 946.8,214.6 947.8,214.6 948.8,214.6 949.8,214.6 950.8,214.6 951.8,214.4 952.8,214.0 953.8,213.4 954.8,212.8 955.8,212.2 956.8,211.5 957.8,210.9 958.8,210.3 959.8,209.7 960.8,209.0 961.8,208.3 962.8,207.6 963.8,206.9 964.8,206.2 965.8,205.7 966.8,205.3 967.8,205.0 968.8,205.0 969.8,205.2 970.8,205.6 971.8,206.1 972.8,206.6 973.8,207.2 974.8,207.7 975.8,208.2 976.8,208.7 977.8,209.2 978.8,209.7 979.8,210.2 980.8,210.6 981.8,210.8 982.8,210.7 983.8,210.6 984.8,210.3 985.8,209.9 986.8,209.6 987.8,209.4 988.8,209.3 989.8,209.4 990.8,209.6 991.8,209.8 992.8,210.1 993.8,210.5 994.8,210.8 995.8,211.1 996.8,211.3 997.8,211.4 998.8,211.4 999.8,211.3 1000.8,211.1 1001.8,210.8 1002.8,210.4 1003.8,210.1 1004.8,209.8 1005.8,209.5 1006.8,209.4 1007.8,209.3 1008.8,209.3 1009.8,209.3 1010.8,209.3 1011.8,209.4 1012.8,209.4 1013.8,209.4 1014.8,209.5 1015.8,209.5 1016.8,209.6 1017.8,209.7 1018.8,209.8 1019.8,209.8 1020.8,209.9 1021.8,210.1 1022.8,210.5 1023.8,211.0 1024.8,211.5 1025.8,212.1 1026.8,212.6 1027.8,213.1 1028.8,213.4 1029.8,213.7 1030.8,213.9 1031.8,214.1 1032.8,214.3 1033.8,214.5 1034.8,214.6 1035.8,214.8 1036.8,214.9 1037.8,215.0 1038.8,215.0 1039.8,215.1 1040.8,215.1 1041.8,215.1 1042.8,215.1 1043.8,215.1 1044.8,215.1 1045.8,215.1 1046.8,215.1 1047.8,215.0 1048.8,215.0 1049.8,215.0 1050.8,215.0 1051.8,215.0 1052.8,215.0 1053.8,215.0 1054.8,215.0 1055.8,215.0 1056.8,215.0 1057.8,215.0 1058.8,215.0 1059.8,215.0 1060.8,215.0 1061.8,215.0 1062.8,214.9 1063.8,214.9 1064.8,214.9 1065.8,214.9 1066.8,214.9 1067.8,214.9 1068.8,214.9 1069.8,214.8 1070.8,214.8 1071.8,214.8 1072.8,214.8 1073.8,214.8 1074.8,214.8 1075.8,214.7 1076.8,214.7 1077.8,214.7 1078.8,214.5 1079.8,214.3 1080.8,214.0 1081.8,213.6 1082.8,213.2 1083.8,212.8 1084.8,212.4 1085.8,212.0 1086.8,211.7 1087.8,211.4 1088.8,211.2 1089.8,211.0 1090.8,211.1 1091.8,211.2 1092.8,211.4 1093.8,211.6 1094.8,211.9 1095.8,212.2 1096.8,212.5 1097.8,212.7 1098.8,213.0 1099.8,213.1 1100.8,213.2 1101.8,213.1 1102.8,212.7 1103.8,212.1 1104.8,211.3 1105.8,210.4 1106.8,209.4 1107.8,208.4 1108.8,207.4 1109.8,206.4 1110.8,205.5 1111.8,204.8 1112.8,204.3 1113.8,204.0 1114.8,204.0 1115.8,204.3 1116.8,205.0 1117.8,205.9 1118.8,206.9 1119.8,207.9 1120.8,209.0 1121.8,209.9 1122.8,210.6 1123.8,211.3 1124.8,212.1 1125.8,212.8 1126.8,213.5 1127.8,214.1 1128.8,214.5 1129.8,214.7 1130.8,214.7 1131.8,214.7 1132.8,214.7 1133.8,214.7 1134.8,214.7 1135.8,214.7 1136.8,214.7 1137.8,214.7 1138.8,214.7 1139.8,214.7 1140.8,214.7 1141.8,214.7 1142.8,214.7 1143.8,214.7 1144.8,214.7 1145.8,214.6 1146.8,214.5 1147.8,214.3 1148.8,214.1 1149.8,213.8 1150.8,213.5 1151.8,213.2 1152.8,212.9 1153.8,212.6 1154.8,212.3 1155.8,212.0 1156.8,211.7 1157.8,211.4 1158.8,211.1 1159.8,210.9 1160.8,210.6 1161.8,210.3 1162.8,210.0 1163.8,209.7 1164.8,209.4 1165.8,209.1 1166.8,208.8 1167.8,208.6 1168.8,208.3 1169.8,208.1 1170.8,207.9 1171.8,207.8 1172.8,207.6 1173.8,207.6 1174.8,207.6 1175.8,207.8 1176.8,208.0 1177.8,208.3 1178.8,208.7 1179.8,209.1 1180.8,209.5 1181.8,210.0 1182.8,210.4 1183.8,210.7 1184.8,211.0 1185.8,211.2 1186.8,211.5 1187.8,211.7 1188.8,212.0 1189.8,212.2 1190.8,212.4 1191.8,212.7 1192.8,212.8 1193.8,213.0 1194.8,213.1 1195.8,213.2 1196.8,213.2 1197.8,213.1 1198.8,213.0 1199.8,212.8 1200.8,212.6 1201.8,212.3 1202.8,212.0 1203.8,211.6 1204.8,211.2 1205.8,210.8 1206.8,210.4 1207.8,210.1 1208.8,209.7 1209.8,209.2 1210.8,208.7 1211.8,208.1 1212.8,207.5 1213.8,206.9 1214.8,206.3 1215.8,205.8 1216.8,205.4 1217.8,205.1 1218.8,205.0 1219.8,205.1 1220.8,205.5 1221.8,206.1 1222.8,206.8 1223.8,207.6 1224.8,208.4 1225.8,209.2 1226.8,209.9 1227.8,210.5 1228.8,210.9 1229.8,211.0 1230.8,211.0 1231.8,210.8 1232.8,210.5 1233.8,210.1 1234.8,209.6 1235.8,209.2 1236.8,208.7 1237.8,208.2 1238.8,207.8 1239.8,207.4 1240.8,207.1 1241.8,206.8 1242.8,206.7 1243.8,206.7 1244.8,206.8 1245.8,206.8 1246.8,206.9 1247.8,207.0 1248.8,207.1 1249.8,207.2 1250.8,207.4 1251.8,207.5 1252.8,207.7 1253.8,207.8 1254.8,208.0 1255.8,208.2 1256.8,208.4 1257.8,208.8 1258.8,209.4 1259.8,210.0 1260.8,210.6 1261.8,211.3 1262.8,212.0 1263.8,212.7 1264.8,213.3 1265.8,213.9 1266.8,214.3 1267.8,214.6 1268.8,214.7 1269.8,214.7 1270.8,214.6 1271.8,214.5 1272.8,214.4 1273.8,214.2 1274.8,214.0 1275.8,213.8 1276.8,213.6 1277.8,213.3 1278.8,213.1 1279.8,212.8 1280.8,212.5 1281.8,212.2 1282.8,212.0 1283.8,211.7 1284.8,211.4 1285.8,211.1 1286.8,210.9 1287.8,210.5 1288.8,210.2 1289.8,209.8 1290.8,209.4 1291.8,209.0 1292.8,208.5 1293.8,208.1 1294.8,207.7 1295.8,207.2 1296.8,206.9 1297.8,206.5 1298.8,206.2 1299.8,205.9 1300.8,205.7 1301.8,205.5 1302.8,205.5 1303.8,205.5 1304.8,205.8 1305.8,206.4 1306.8,207.3 1307.8,208.2 1308.8,209.3 1309.8,210.4 1310.8,211.3 1311.8,212.2 1312.8,212.8 1313.8,213.2 1314.8,213.2 1315.8,213.3 1316.8,213.3 1317.8,213.4 1318.8,213.4 1319.8,213.5 1320.8,213.5 1321.8,213.5 1322.8,213.5 1323.8,213.6 1324.8,213.6 1325.8,213.6 1326.8,213.6 1327.8,213.6 1328.8,213.7 1329.8,213.7 1330.8,213.7 1330.9,213.7" fill="none" stroke="#FACCFA" stroke-width="4.75" stroke-linejoin="round" stroke-linecap="butt" clip-path="url(#clipb)"/>
<path d="M763.8,322.5 764.8,322.4 765.8,322.4 766.8,322.3 767.8,322.2 768.8,322.2 769.8,322.1 770.8,322.0 771.8,321.8 772.8,321.7 773.8,321.2 774.8,320.2 775.8,319.0 776.8,317.6 777.8,316.1 778.8,314.6 779.8,313.2 780.8,311.6 781.8,310.0 782.8,308.5 783.8,307.3 784.8,306.2 785.8,305.2 786.8,304.3 787.8,303.7 788.8,303.5 789.8,304.2 790.8,305.7 791.8,307.7 792.8,309.8 793.8,311.7 794.8,313.1 795.8,314.7 796.8,316.2 797.8,317.6 798.8,318.7 799.8,319.4 800.8,319.5 801.8,319.1 802.8,318.3 803.8,317.3 804.8,316.2 805.8,315.3 806.8,314.4 807.8,313.5 808.8,312.5 809.8,311.6 810.8,310.9 811.8,310.5 812.8,310.3 813.8,310.2 814.8,310.2 815.8,310.1 816.8,310.1 817.8,310.0 818.8,309.9 819.8,309.4 820.8,308.4 821.8,307.2 822.8,305.9 823.8,304.8 824.8,303.8 825.8,302.8 826.8,301.8 827.8,300.8 828.8,300.0 829.8,299.5 830.8,299.2 831.8,299.5 832.8,300.2 833.8,301.2 834.8,302.4 835.8,303.6 836.8,304.6 837.8,305.5 838.8,306.6 839.8,307.7 840.8,308.7 841.8,309.5 842.8,309.9 843.8,309.9 844.8,309.9 845.8,309.8 846.8,309.7 847.8,309.7 848.8,309.6 849.8,309.5 850.8,309.5 851.8,309.7 852.8,310.2 853.8,310.8 854.8,311.6 855.8,312.4 856.8,313.2 857.8,314.0 858.8,314.5 859.8,315.1 860.8,315.7 861.8,316.3 862.8,316.9 863.8,317.4 864.8,317.8 865.8,318.2 866.8,318.5 867.8,318.7 868.8,318.9 869.8,319.0 870.8,319.2 871.8,319.3 872.8,319.4 873.8,319.5 874.8,319.6 875.8,319.7 876.8,319.8 877.8,319.8 878.8,319.9 879.8,319.9 880.8,320.0 881.8,320.0 882.8,320.1 883.8,320.2 884.8,320.3 885.8,320.4 886.8,320.6 887.8,320.7 888.8,320.9 889.8,321.0 890.8,321.0 891.8,321.0 892.8,320.7 893.8,320.2 894.8,319.5 895.8,318.7 896.8,317.9 897.8,317.1 898.8,316.4 899.8,315.7 900.8,314.9 901.8,314.0 902.8,313.1 903.8,312.2 904.8,311.5 905.8,310.8 906.8,310.3 907.8,310.0 908.8,309.9 909.8,310.1 910.8,310.4 911.8,310.8 912.8,311.3 913.8,311.6 914.8,311.9 915.8,312.1 916.8,312.1 917.8,312.0 918.8,312.0 919.8,311.9 920.8,311.8 921.8,311.7 922.8,311.6 923.8,311.5 924.8,311.3 925.8,311.2 926.8,311.0 927.8,310.6 928.8,310.0 929.8,309.3 930.8,308.5 931.8,307.7 932.8,306.9 933.8,306.2 934.8,305.3 935.8,304.4 936.8,303.6 937.8,302.7 938.8,302.1 939.8,301.6 940.8,301.4 941.8,301.5 942.8,302.1 943.8,303.0 944.8,304.1 945.8,305.3 946.8,306.5 947.8,307.6 948.8,308.7 949.8,309.9 950.8,311.3 951.8,312.6 952.8,313.7 953.8,314.4 954.8,314.7 955.8,314.9 956.8,315.0 957.8,315.1 958.8,315.2 959.8,315.2 960.8,315.3 961.8,315.4 962.8,315.5 963.8,315.6 964.8,315.6 965.8,315.7 966.8,315.8 967.8,315.9 968.8,316.0 969.8,316.1 970.8,316.2 971.8,316.4 972.8,316.8 973.8,317.4 974.8,318.2 975.8,318.9 976.8,319.5 977.8,320.1 978.8,320.6 979.8,321.2 980.8,321.7 981.8,322.1 982.8,322.3 983.8,322.3 984.8,321.9 985.8,321.2 986.8,320.4 987.8,319.4 988.8,318.3 989.8,317.3 990.8,316.2 991.8,314.9 992.8,313.5 993.8,312.1 994.8,310.6 995.8,309.3 996.8,308.2 997.8,307.2 998.8,306.3 999.8,305.5 1000.8,304.7 1001.8,304.0 1002.8,303.5 1003.8,303.0 1004.8,302.6 1005.8,302.3 1006.8,301.9 1007.8,301.7 1008.8,301.5 1009.8,301.4 1010.8,301.4 1011.8,301.6 1012.8,301.9 1013.8,302.3 1014.8,302.7 1015.8,303.2 1016.8,303.7 1017.8,304.4 1018.8,305.2 1019.8,306.2 1020.8,307.0 1021.8,307.8 1022.8,308.6 1023.8,309.4 1024.8,310.1 1025.8,310.7 1026.8,311.0 1027.8,310.8 1028.8,309.9 1029.8,308.6 1030.8,307.0 1031.8,305.4 1032.8,304.1 1033.8,303.4 1034.8,302.8 1035.8,302.2 1036.8,301.7 1037.8,301.3 1038.8,301.1 1039.8,301.0 1040.8,301.3 1041.8,302.2 1042.8,303.6 1043.8,305.1 1044.8,306.5 1045.8,308.0 1046.8,309.6 1047.8,311.4 1048.8,313.1 1049.8,314.6 1050.8,315.9 1051.8,316.9 1052.8,317.8 1053.8,318.7 1054.8,319.5 1055.8,320.3 1056.8,320.9 1057.8,321.5 1058.8,321.8 1059.8,322.0 1060.8,321.8 1061.8,321.0 1062.8,319.9 1063.8,318.4 1064.8,316.9 1065.8,315.4 1066.8,314.1 1067.8,312.7 1068.8,311.2 1069.8,309.7 1070.8,308.3 1071.8,307.4 1072.8,306.9 1073.8,307.0 1074.8,307.4 1075.8,308.0 1076.8,308.7 1077.8,309.5 1078.8,310.3 1079.8,310.9 1080.8,311.3 1081.8,311.6 1082.8,311.9 1083.8,312.2 1084.8,312.4 1085.8,312.6 1086.8,312.9 1087.8,313.3 1088.8,313.7 1089.8,314.3 1090.8,315.1 1091.8,315.8 1092.8,316.6 1093.8,317.3 1094.8,317.8 1095.8,318.4 1096.8,319.0 1097.8,319.5 1098.8,320.0 1099.8,320.5 1100.8,320.8 1101.8,320.9 1102.8,320.7 1103.8,319.9 1104.8,318.6 1105.8,317.1 1106.8,315.4 1107.8,313.9 1108.8,311.9 1109.8,309.6 1110.8,307.3 1111.8,305.3 1112.8,303.7 1113.8,302.5 1114.8,301.3 1115.8,300.3 1116.8,299.4 1117.8,298.7 1118.8,298.3 1119.8,298.4 1120.8,298.9 1121.8,299.9 1122.8,301.1 1123.8,302.5 1124.8,303.7 1125.8,304.8 1126.8,305.8 1127.8,307.0 1128.8,308.2 1129.8,309.3 1130.8,310.4 1131.8,311.5 1132.8,312.3 1133.8,312.9 1134.8,313.3 1135.8,313.3 1136.8,312.8 1137.8,311.9 1138.8,310.7 1139.8,309.2 1140.8,307.7 1141.8,306.3 1142.8,305.1 1143.8,304.2 1144.8,303.7 1145.8,303.8 1146.8,304.4 1147.8,305.2 1148.8,306.3 1149.8,307.3 1150.8,308.3 1151.8,309.5 1152.8,310.9 1153.8,312.3 1154.8,313.5 1155.8,314.5 1156.8,314.9 1157.8,314.6 1158.8,313.7 1159.8,312.4 1160.8,310.8 1161.8,309.2 1162.8,307.7 1163.8,306.4 1164.8,305.1 1165.8,303.6 1166.8,302.2 1167.8,301.0 1168.8,300.0 1169.8,299.5 1170.8,299.5 1171.8,300.1 1172.8,301.2 1173.8,302.6 1174.8,304.0 1175.8,305.3 1176.8,306.3 1177.8,307.2 1178.8,308.2 1179.8,309.2 1180.8,310.2 1181.8,311.0 1182.8,311.7 1183.8,312.1 1184.8,312.3 1185.8,312.3 1186.8,312.1 1187.8,311.9 1188.8,311.7 1189.8,311.4 1190.8,311.1 1191.8,310.8 1192.8,310.5 1193.8,310.3 1194.8,310.2 1195.8,310.1 1196.8,310.2 1197.8,310.2 1198.8,310.2 1199.8,310.3 1200.8,310.4 1201.8,310.5 1202.8,310.6 1203.8,310.7 1204.8,310.8 1205.8,310.9 1206.8,311.0 1207.8,311.1 1208.8,311.2 1209.8,311.3 1210.8,311.4 1211.8,311.5 1212.8,311.6 1213.8,311.7 1214.8,311.9 1215.8,312.0 1216.8,312.2 1217.8,312.4 1218.8,312.9 1219.8,313.5 1220.8,314.3 1221.8,315.1 1222.8,316.0 1223.8,316.8 1224.8,317.5 1225.8,318.1 1226.8,318.6 1227.8,318.7 1228.8,318.7 1229.8,318.6 1230.8,318.5 1231.8,318.3 1232.8,318.0 1233.8,317.6 1234.8,317.3 1235.8,316.8 1236.8,316.4 1237.8,315.8 1238.8,315.3 1239.8,314.7 1240.8,314.1 1241.8,313.5 1242.8,312.7 1243.8,311.5 1244.8,310.1 1245.8,308.6 1246.8,307.0 1247.8,305.6 1248.8,304.3 1249.8,303.1 1250.8,301.7 1251.8,300.5 1252.8,299.4 1253.8,298.6 1254.8,298.3 1255.8,298.4 1256.8,298.5 1257.8,298.8 1258.8,299.1 1259.8,299.5 1260.8,299.8 1261.8,300.2 1262.8,300.6 1263.8,300.9 1264.8,301.3 1265.8,301.7 1266.8,302.1 1267.8,302.5 1268.8,303.0 1269.8,303.6 1270.8,304.3 1271.8,305.3 1272.8,306.5 1273.8,307.8 1274.8,309.0 1275.8,310.2 1276.8,311.1 1277.8,311.7 1278.8,311.9 1279.8,311.7 1280.8,311.5 1281.8,311.2 1282.8,310.9 1283.8,310.5 1284.8,310.3 1285.8,310.2 1286.8,310.1 1287.8,310.1 1288.8,310.1 1289.8,310.1 1290.8,310.1 1291.8,310.1 1292.8,310.1 1293.8,310.1 1294.8,309.9 1295.8,309.3 1296.8,308.5 1297.8,307.4 1298.8,306.3 1299.8,305.0 1300.8,303.8 1301.8,302.7 1302.8,301.7 1303.8,301.0 1304.8,300.6 1305.8,300.5 1306.8,301.1 1307.8,302.3 1308.8,303.9 1309.8,305.6 1310.8,307.4 1311.8,308.9 1312.8,310.2 1313.8,311.7 1314.8,313.3 1315.8,314.7 1316.8,315.8 1317.8,316.5 1318.8,316.6 1319.8,316.2 1320.8,315.6 1321.8,314.8 1322.8,313.8 1323.8,312.8 1324.8,311.8 1325.8,310.9 1326.8,310.3 1327.8,309.8 1328.8,309.4 1329.8,309.0 1330.8,308.7 1330.9,308.7" fill="none" stroke="#FDB7BC" stroke-width="4.75" stroke-linejoin="round" stroke-linecap="butt" clip-path="url(#clipb)"/>
<path d="M763.8,416.8 764.8,416.8 765.8,416.8 766.8,416.8 767.8,416.8 768.8,416.8 769.8,416.8 770.8,416.8 771.8,416.8 772.8,416.8 773.8,416.8 774.8,416.8 775.8,416.8 776.8,416.8 777.8,416.8 778.8,416.8 779.8,416.8 780.8,416.8 781.8,416.8 782.8,416.8 783.8,416.8 784.8,416.8 785.8,416.8 786.8,416.8 787.8,416.8 788.8,416.8 789.8,416.8 790.8,416.8 791.8,416.8 792.8,416.8 793.8,416.8 794.8,416.8 795.8,416.8 796.8,416.8 797.8,416.8 798.8,416.8 799.8,416.8 800.8,416.8 801.8,416.8 802.8,416.8 803.8,416.8 804.8,416.8 805.8,416.8 806.8,416.8 807.8,416.8 808.8,416.8 809.8,416.8 810.8,416.8 811.8,416.8 812.8,416.8 813.8,416.8 814.8,416.8 815.8,416.8 816.8,416.8 817.8,416.8 818.8,416.8 819.8,416.8 820.8,416.8 821.8,416.8 822.8,416.8 823.8,416.8 824.8,416.8 825.8,416.8 826.8,416.8 827.8,416.8 828.8,416.8 829.8,416.8 830.8,416.8 831.8,416.8 832.8,416.8 833.8,416.8 834.8,416.8 835.8,416.8 836.8,416.8 837.8,416.8 838.8,416.8 839.8,416.8 840.8,416.8 841.8,416.8 842.8,416.8 843.8,416.8 844.8,416.8 845.8,416.8 846.8,416.8 847.8,416.8 848.8,416.8 849.8,416.8 850.8,416.8 851.8,416.8 852.8,416.8 853.8,416.8 854.8,416.8 855.8,416.8 856.8,416.8 857.8,416.8 858.8,416.8 859.8,416.8 860.8,416.8 861.8,416.8 862.8,416.8 863.8,416.8 864.8,416.8 865.8,416.7 866.8,416.5 867.8,416.1 868.8,415.6 869.8,415.0 870.8,414.4 871.8,413.7 872.8,412.5 873.8,411.2 874.8,409.8 875.8,408.5 876.8,407.5 877.8,406.4 878.8,405.4 879.8,404.6 880.8,404.1 881.8,404.1 882.8,404.7 883.8,405.7 884.8,406.9 885.8,408.1 886.8,409.1 887.8,410.4 888.8,411.7 889.8,413.0 890.8,414.1 891.8,415.0 892.8,415.5 893.8,416.0 894.8,416.4 895.8,416.7 896.8,417.0 897.8,417.2 898.8,417.3 899.8,417.3 900.8,417.3 901.8,417.3 902.8,417.3 903.8,417.3 904.8,417.3 905.8,417.3 906.8,417.3 907.8,417.3 908.8,417.3 909.8,417.3 910.8,417.3 911.8,417.3 912.8,417.3 913.8,417.3 914.8,417.3 915.8,417.3 916.8,417.3 917.8,417.3 918.8,417.3 919.8,417.3 920.8,417.3 921.8,417.3 922.8,417.3 923.8,417.3 924.8,417.3 925.8,417.3 926.8,417.3 927.8,417.3 928.8,417.3 929.8,417.3 930.8,417.3 931.8,417.3 932.8,417.3 933.8,417.3 934.8,417.3 935.8,417.3 936.8,417.3 937.8,417.3 938.8,417.3 939.8,417.3 940.8,417.3 941.8,417.3 942.8,417.3 943.8,417.3 944.8,417.3 945.8,417.3 946.8,417.3 947.8,417.3 948.8,417.3 949.8,417.3 950.8,417.2 951.8,417.0 952.8,416.7 953.8,416.3 954.8,415.7 955.8,415.2 956.8,414.5 957.8,413.6 958.8,412.3 959.8,410.8 960.8,409.2 961.8,407.7 962.8,406.4 963.8,405.2 964.8,403.9 965.8,402.7 966.8,401.6 967.8,400.8 968.8,400.3 969.8,400.2 970.8,400.7 971.8,401.5 972.8,402.5 973.8,403.5 974.8,404.4 975.8,405.1 976.8,405.5 977.8,405.9 978.8,406.2 979.8,406.5 980.8,406.8 981.8,407.1 982.8,407.4 983.8,407.6 984.8,407.8 985.8,408.1 986.8,408.4 987.8,409.1 988.8,409.9 989.8,410.8 990.8,411.5 991.8,412.2 992.8,412.9 993.8,413.5 994.8,414.0 995.8,414.3 996.8,414.1 997.8,413.6 998.8,412.7 999.8,411.7 1000.8,410.9 1001.8,410.2 1002.8,409.7 1003.8,409.2 1004.8,408.7 1005.8,408.3 1006.8,408.0 1007.8,407.9 1008.8,407.9 1009.8,408.1 1010.8,408.3 1011.8,408.6 1012.8,408.8 1013.8,408.9 1014.8,408.9 1015.8,408.9 1016.8,408.9 1017.8,408.8 1018.8,408.8 1019.8,408.7 1020.8,408.7 1021.8,409.0 1022.8,409.7 1023.8,410.6 1024.8,411.6 1025.8,412.6 1026.8,413.4 1027.8,414.1 1028.8,414.7 1029.8,415.4 1030.8,416.0 1031.8,416.5 1032.8,416.8 1033.8,416.8 1034.8,416.8 1035.8,416.8 1036.8,416.8 1037.8,416.8 1038.8,416.8 1039.8,416.8 1040.8,416.7 1041.8,416.7 1042.8,416.7 1043.8,416.7 1044.8,416.7 1045.8,416.7 1046.8,416.7 1047.8,416.7 1048.8,416.7 1049.8,416.7 1050.8,416.7 1051.8,416.7 1052.8,416.7 1053.8,416.7 1054.8,416.7 1055.8,416.7 1056.8,416.7 1057.8,416.7 1058.8,416.7 1059.8,416.7 1060.8,416.7 1061.8,416.7 1062.8,416.7 1063.8,416.7 1064.8,416.7 1065.8,416.7 1066.8,416.7 1067.8,416.7 1068.8,416.7 1069.8,416.7 1070.8,416.7 1071.8,416.7 1072.8,416.7 1073.8,416.7 1074.8,416.7 1075.8,416.7 1076.8,416.4 1077.8,416.0 1078.8,415.5 1079.8,414.8 1080.8,414.1 1081.8,413.3 1082.8,412.6 1083.8,411.9 1084.8,411.3 1085.8,410.8 1086.8,410.4 1087.8,410.3 1088.8,410.3 1089.8,410.5 1090.8,410.8 1091.8,411.3 1092.8,411.8 1093.8,412.3 1094.8,412.9 1095.8,413.5 1096.8,414.0 1097.8,414.5 1098.8,414.8 1099.8,415.1 1100.8,415.2 1101.8,415.0 1102.8,414.5 1103.8,413.5 1104.8,412.3 1105.8,410.9 1106.8,409.3 1107.8,407.6 1108.8,406.0 1109.8,404.3 1110.8,402.8 1111.8,401.5 1112.8,400.5 1113.8,399.8 1114.8,399.5 1115.8,399.7 1116.8,400.5 1117.8,401.8 1118.8,403.3 1119.8,405.0 1120.8,406.7 1121.8,408.3 1122.8,409.5 1123.8,410.9 1124.8,412.3 1125.8,413.7 1126.8,415.0 1127.8,416.1 1128.8,416.9 1129.8,417.3 1130.8,417.4 1131.8,417.5 1132.8,417.5 1133.8,417.6 1134.8,417.6 1135.8,417.6 1136.8,417.7 1137.8,417.7 1138.8,417.7 1139.8,417.8 1140.8,417.8 1141.8,417.8 1142.8,417.8 1143.8,417.8 1144.8,417.8 1145.8,417.6 1146.8,417.3 1147.8,417.0 1148.8,416.6 1149.8,416.1 1150.8,415.6 1151.8,415.0 1152.8,414.4 1153.8,413.9 1154.8,413.3 1155.8,412.7 1156.8,412.2 1157.8,411.8 1158.8,411.4 1159.8,411.1 1160.8,410.9 1161.8,410.7 1162.8,410.4 1163.8,410.2 1164.8,410.0 1165.8,409.8 1166.8,409.5 1167.8,409.1 1168.8,408.6 1169.8,407.8 1170.8,406.9 1171.8,406.0 1172.8,405.3 1173.8,404.9 1174.8,404.9 1175.8,405.2 1176.8,405.6 1177.8,406.1 1178.8,406.7 1179.8,407.4 1180.8,408.0 1181.8,408.6 1182.8,409.2 1183.8,409.7 1184.8,410.3 1185.8,410.8 1186.8,411.4 1187.8,412.0 1188.8,412.6 1189.8,413.2 1190.8,413.6 1191.8,414.0 1192.8,414.3 1193.8,414.5 1194.8,414.6 1195.8,414.5 1196.8,414.4 1197.8,414.2 1198.8,414.0 1199.8,413.8 1200.8,413.5 1201.8,413.1 1202.8,412.8 1203.8,412.4 1204.8,411.9 1205.8,411.5 1206.8,411.1 1207.8,410.6 1208.8,410.2 1209.8,409.6 1210.8,408.8 1211.8,407.8 1212.8,406.8 1213.8,405.8 1214.8,404.9 1215.8,404.1 1216.8,403.5 1217.8,403.2 1218.8,403.2 1219.8,403.7 1220.8,404.5 1221.8,405.7 1222.8,407.0 1223.8,408.5 1224.8,409.9 1225.8,411.2 1226.8,412.3 1227.8,413.1 1228.8,413.5 1229.8,413.4 1230.8,413.0 1231.8,412.4 1232.8,411.5 1233.8,410.5 1234.8,409.4 1235.8,408.2 1236.8,407.0 1237.8,405.9 1238.8,404.8 1239.8,403.8 1240.8,403.1 1241.8,402.5 1242.8,402.3 1243.8,402.3 1244.8,402.5 1245.8,402.7 1246.8,403.0 1247.8,403.4 1248.8,403.8 1249.8,404.3 1250.8,404.8 1251.8,405.4 1252.8,405.9 1253.8,406.4 1254.8,407.0 1255.8,407.5 1256.8,408.2 1257.8,409.0 1258.8,409.9 1259.8,410.8 1260.8,411.7 1261.8,412.6 1262.8,413.5 1263.8,414.4 1264.8,415.1 1265.8,415.8 1266.8,416.3 1267.8,416.6 1268.8,416.7 1269.8,416.7 1270.8,416.5 1271.8,416.3 1272.8,416.0 1273.8,415.7 1274.8,415.3 1275.8,414.9 1276.8,414.4 1277.8,414.0 1278.8,413.5 1279.8,413.1 1280.8,412.7 1281.8,412.4 1282.8,412.1 1283.8,411.8 1284.8,411.6 1285.8,411.3 1286.8,411.1 1287.8,410.8 1288.8,410.5 1289.8,410.2 1290.8,409.9 1291.8,409.5 1292.8,409.0 1293.8,408.4 1294.8,407.7 1295.8,406.9 1296.8,406.1 1297.8,405.2 1298.8,404.4 1299.8,403.6 1300.8,402.9 1301.8,402.2 1302.8,401.7 1303.8,401.3 1304.8,401.0 1305.8,401.0 1306.8,401.5 1307.8,402.3 1308.8,403.6 1309.8,405.0 1310.8,406.6 1311.8,408.2 1312.8,409.7 1313.8,411.0 1314.8,412.1 1315.8,413.3 1316.8,414.5 1317.8,415.7 1318.8,416.6 1319.8,417.2 1320.8,417.3 1321.8,417.1 1322.8,416.7 1323.8,416.2 1324.8,415.6 1325.8,415.1 1326.8,414.6 1327.8,414.4 1328.8,414.1 1329.8,413.9 1330.8,413.7 1330.9,413.7" fill="none" stroke="#F8A17B" stroke-width="4.75" stroke-linejoin="round" stroke-linecap="butt" clip-path="url(#clipb)"/>
<path d="M763.8,520.2 764.8,520.0 765.8,519.6 766.8,519.3 767.8,518.8 768.8,518.3 769.8,517.7 770.8,517.0 771.8,516.1 772.8,514.4 773.8,511.9 774.8,508.8 775.8,505.4 776.8,502.0 777.8,498.8 778.8,495.7 779.8,492.3 780.8,488.8 781.8,485.5 782.8,482.4 783.8,480.0 784.8,478.3 785.8,476.9 786.8,475.6 787.8,474.5 788.8,473.8 789.8,473.5 790.8,473.7 791.8,474.2 792.8,474.9 793.8,475.9 794.8,477.0 795.8,478.3 796.8,479.9 797.8,482.5 798.8,485.9 799.8,489.6 800.8,493.4 801.8,496.7 802.8,500.3 803.8,503.9 804.8,507.5 805.8,510.5 806.8,512.9 807.8,514.6 808.8,516.2 809.8,517.7 810.8,518.9 811.8,519.8 812.8,520.4 813.8,520.6 814.8,520.7 815.8,520.8 816.8,521.0 817.8,521.1 818.8,521.1 819.8,521.2 820.8,521.3 821.8,521.4 822.8,521.4 823.8,521.5 824.8,521.5 825.8,521.5 826.8,521.6 827.8,521.6 828.8,521.6 829.8,521.6 830.8,521.6 831.8,521.6 832.8,521.6 833.8,521.6 834.8,521.6 835.8,521.6 836.8,521.6 837.8,521.6 838.8,521.6 839.8,521.6 840.8,521.6 841.8,521.6 842.8,521.6 843.8,521.6 844.8,521.6 845.8,521.6 846.8,521.6 847.8,521.6 848.8,521.6 849.8,521.6 850.8,521.6 851.8,521.7 852.8,521.7 853.8,521.7 854.8,521.7 855.8,521.8 856.8,521.8 857.8,521.8 858.8,521.9 859.8,521.9 860.8,521.9 861.8,522.0 862.8,522.0 863.8,522.0 864.8,522.0 865.8,522.0 866.8,522.0 867.8,522.0 868.8,521.7 869.8,521.4 870.8,520.9 871.8,520.4 872.8,519.7 873.8,518.8 874.8,517.1 875.8,514.7 876.8,511.9 877.8,508.8 878.8,505.8 879.8,502.0 880.8,497.6 881.8,493.1 882.8,488.9 883.8,485.5 884.8,482.5 885.8,479.6 886.8,476.8 887.8,474.3 888.8,472.5 889.8,471.5 890.8,471.5 891.8,472.5 892.8,474.3 893.8,476.5 894.8,479.0 895.8,481.4 896.8,484.3 897.8,487.8 898.8,491.6 899.8,495.4 900.8,498.9 901.8,501.8 902.8,504.1 903.8,506.5 904.8,508.8 905.8,510.8 906.8,512.4 907.8,513.3 908.8,513.4 909.8,512.5 910.8,510.8 911.8,508.7 912.8,506.5 913.8,504.5 914.8,502.5 915.8,500.2 916.8,497.7 917.8,495.3 918.8,493.2 919.8,491.6 920.8,490.7 921.8,490.8 922.8,491.9 923.8,493.8 924.8,496.1 925.8,498.4 926.8,500.6 927.8,502.9 928.8,505.6 929.8,508.4 930.8,510.9 931.8,512.9 932.8,514.0 933.8,514.3 934.8,514.5 935.8,514.6 936.8,514.7 937.8,514.8 938.8,514.9 939.8,515.0 940.8,515.3 941.8,515.6 942.8,516.1 943.8,516.7 944.8,517.4 945.8,518.1 946.8,518.7 947.8,519.3 948.8,519.9 949.8,520.6 950.8,521.2 951.8,521.8 952.8,522.3 953.8,522.6 954.8,522.6 955.8,522.1 956.8,521.2 957.8,519.9 958.8,518.4 959.8,516.8 960.8,515.3 961.8,513.5 962.8,511.2 963.8,509.0 964.8,507.1 965.8,505.7 966.8,504.3 967.8,503.1 968.8,502.0 969.8,501.4 970.8,501.4 971.8,502.2 972.8,503.7 973.8,505.5 974.8,507.3 975.8,508.8 976.8,510.0 977.8,511.4 978.8,512.7 979.8,513.8 980.8,514.7 981.8,515.1 982.8,515.2 983.8,515.1 984.8,514.8 985.8,514.5 986.8,514.2 987.8,513.7 988.8,513.2 989.8,512.7 990.8,512.2 991.8,511.6 992.8,511.0 993.8,510.3 994.8,509.5 995.8,508.6 996.8,507.5 997.8,506.4 998.8,505.2 999.8,503.9 1000.8,502.4 1001.8,500.7 1002.8,498.9 1003.8,497.1 1004.8,495.4 1005.8,493.7 1006.8,491.9 1007.8,489.9 1008.8,488.3 1009.8,487.4 1010.8,487.7 1011.8,488.9 1012.8,490.7 1013.8,492.8 1014.8,494.9 1015.8,496.7 1016.8,498.8 1017.8,500.9 1018.8,503.1 1019.8,505.2 1020.8,507.2 1021.8,508.8 1022.8,510.3 1023.8,511.9 1024.8,513.4 1025.8,514.7 1026.8,515.7 1027.8,516.2 1028.8,516.0 1029.8,514.9 1030.8,513.1 1031.8,510.8 1032.8,508.4 1033.8,506.0 1034.8,503.3 1035.8,500.0 1036.8,496.5 1037.8,493.2 1038.8,490.1 1039.8,487.7 1040.8,485.7 1041.8,483.8 1042.8,482.1 1043.8,480.8 1044.8,480.1 1045.8,480.3 1046.8,481.4 1047.8,483.2 1048.8,485.5 1049.8,488.0 1050.8,490.5 1051.8,492.7 1052.8,494.4 1053.8,495.4 1054.8,496.0 1055.8,496.5 1056.8,496.8 1057.8,497.2 1058.8,497.5 1059.8,497.9 1060.8,498.3 1061.8,498.9 1062.8,499.7 1063.8,500.7 1064.8,501.7 1065.8,502.8 1066.8,503.8 1067.8,504.7 1068.8,505.4 1069.8,505.9 1070.8,506.1 1071.8,505.9 1072.8,505.5 1073.8,504.9 1074.8,504.1 1075.8,503.2 1076.8,502.3 1077.8,501.4 1078.8,500.7 1079.8,500.1 1080.8,499.7 1081.8,499.6 1082.8,499.9 1083.8,500.6 1084.8,501.6 1085.8,502.8 1086.8,504.2 1087.8,505.7 1088.8,507.2 1089.8,508.6 1090.8,509.9 1091.8,511.0 1092.8,511.9 1093.8,512.4 1094.8,512.5 1095.8,512.3 1096.8,511.8 1097.8,511.1 1098.8,510.3 1099.8,509.4 1100.8,508.4 1101.8,507.4 1102.8,506.4 1103.8,505.6 1104.8,504.8 1105.8,504.3 1106.8,504.0 1107.8,503.9 1108.8,504.1 1109.8,504.5 1110.8,505.0 1111.8,505.7 1112.8,506.4 1113.8,507.2 1114.8,508.1 1115.8,508.9 1116.8,509.7 1117.8,510.5 1118.8,511.2 1119.8,511.8 1120.8,512.2 1121.8,512.5 1122.8,512.5 1123.8,512.4 1124.8,512.1 1125.8,511.6 1126.8,511.0 1127.8,510.3 1128.8,509.4 1129.8,508.5 1130.8,506.9 1131.8,503.7 1132.8,499.5 1133.8,495.0 1134.8,490.9 1135.8,487.7 1136.8,484.5 1137.8,481.3 1138.8,478.1 1139.8,475.2 1140.8,472.9 1141.8,471.3 1142.8,470.5 1143.8,470.8 1144.8,471.7 1145.8,473.1 1146.8,475.0 1147.8,477.0 1148.8,479.1 1149.8,481.1 1150.8,482.9 1151.8,485.0 1152.8,487.4 1153.8,490.0 1154.8,492.7 1155.8,495.3 1156.8,497.8 1157.8,500.0 1158.8,501.8 1159.8,503.1 1160.8,503.8 1161.8,503.8 1162.8,503.5 1163.8,502.8 1164.8,502.0 1165.8,501.0 1166.8,500.0 1167.8,498.9 1168.8,498.0 1169.8,497.2 1170.8,496.6 1171.8,496.4 1172.8,496.7 1173.8,497.8 1174.8,499.5 1175.8,501.7 1176.8,504.1 1177.8,506.5 1178.8,508.7 1179.8,510.5 1180.8,511.7 1181.8,512.1 1182.8,511.5 1183.8,510.1 1184.8,508.0 1185.8,505.6 1186.8,503.0 1187.8,500.5 1188.8,498.3 1189.8,496.4 1190.8,494.4 1191.8,492.4 1192.8,490.4 1193.8,488.8 1194.8,487.6 1195.8,487.1 1196.8,486.9 1197.8,486.8 1198.8,486.7 1199.8,486.7 1200.8,486.6 1201.8,486.6 1202.8,486.5 1203.8,486.3 1204.8,486.1 1205.8,485.4 1206.8,484.4 1207.8,483.2 1208.8,482.0 1209.8,480.9 1210.8,480.1 1211.8,479.8 1212.8,480.0 1213.8,480.8 1214.8,481.9 1215.8,483.3 1216.8,484.8 1217.8,486.5 1218.8,488.0 1219.8,489.4 1220.8,491.2 1221.8,493.2 1222.8,495.3 1223.8,497.3 1224.8,499.0 1225.8,500.2 1226.8,500.7 1227.8,500.6 1228.8,500.2 1229.8,499.6 1230.8,498.8 1231.8,498.1 1232.8,497.4 1233.8,496.8 1234.8,496.5 1235.8,496.4 1236.8,496.5 1237.8,496.7 1238.8,497.1 1239.8,497.6 1240.8,498.1 1241.8,498.6 1242.8,499.2 1243.8,499.8 1244.8,500.3 1245.8,500.8 1246.8,501.2 1247.8,501.5 1248.8,501.7 1249.8,501.7 1250.8,501.7 1251.8,501.5 1252.8,501.2 1253.8,500.9 1254.8,500.5 1255.8,500.2 1256.8,499.9 1257.8,499.7 1258.8,499.6 1259.8,499.7 1260.8,500.0 1261.8,500.5 1262.8,501.3 1263.8,502.1 1264.8,502.9 1265.8,503.7 1266.8,504.3 1267.8,504.8 1268.8,505.0 1269.8,504.5 1270.8,502.8 1271.8,500.5 1272.8,497.7 1273.8,494.8 1274.8,492.2 1275.8,490.1 1276.8,487.8 1277.8,485.4 1278.8,483.3 1279.8,481.8 1280.8,481.3 1281.8,481.8 1282.8,482.9 1283.8,484.6 1284.8,486.6 1285.8,488.8 1286.8,490.9 1287.8,492.8 1288.8,494.2 1289.8,495.1 1290.8,495.3 1291.8,494.9 1292.8,494.2 1293.8,493.3 1294.8,492.2 1295.8,491.2 1296.8,490.3 1297.8,489.6 1298.8,489.3 1299.8,489.4 1300.8,489.9 1301.8,490.6 1302.8,491.5 1303.8,492.5 1304.8,493.4 1305.8,494.2 1306.8,494.7 1307.8,494.9 1308.8,494.6 1309.8,493.9 1310.8,492.9 1311.8,491.7 1312.8,490.3 1313.8,488.8 1314.8,487.4 1315.8,486.1 1316.8,485.0 1317.8,484.1 1318.8,483.6 1319.8,483.5 1320.8,484.6 1321.8,486.8 1322.8,489.6 1323.8,492.9 1324.8,496.2 1325.8,499.1 1326.8,501.4 1327.8,502.9 1328.8,504.3 1329.8,505.4 1330.8,506.4 1330.9,506.4" fill="none" stroke="#D29343" stroke-width="4.75" stroke-linejoin="round" stroke-linecap="butt" clip-path="url(#clipb)"/>
<path d="M763.8,643.2 764.8,643.4 765.8,643.8 766.8,644.2 767.8,644.8 768.8,645.5 769.8,646.7 770.8,650.5 771.8,656.5 772.8,663.1 773.8,668.9 774.8,672.4 775.8,671.5 776.8,663.2 777.8,651.2 778.8,635.7 779.8,613.4 780.8,591.6 781.8,576.1 782.8,562.5 783.8,551.9 784.8,546.3 785.8,542.7 786.8,540.6 787.8,541.3 788.8,546.4 789.8,553.6 790.8,560.3 791.8,565.6 792.8,570.9 793.8,575.9 794.8,580.6 795.8,584.5 796.8,587.9 797.8,591.1 798.8,594.5 799.8,598.7 800.8,603.8 801.8,609.6 802.8,615.5 803.8,621.1 804.8,627.5 805.8,634.4 806.8,640.1 807.8,642.9 808.8,642.8 809.8,642.3 810.8,641.6 811.8,641.1 812.8,640.8 813.8,641.2 814.8,642.1 815.8,643.4 816.8,644.5 817.8,645.1 818.8,643.2 819.8,636.7 820.8,627.8 821.8,618.9 822.8,609.6 823.8,598.8 824.8,588.2 825.8,579.8 826.8,574.3 827.8,569.5 828.8,566.5 829.8,566.3 830.8,569.1 831.8,573.8 832.8,579.2 833.8,587.7 834.8,598.9 835.8,610.5 836.8,620.2 837.8,628.1 838.8,635.6 839.8,642.1 840.8,647.1 841.8,650.6 842.8,653.8 843.8,656.5 844.8,658.3 845.8,659.0 846.8,658.2 847.8,656.1 848.8,653.1 849.8,649.6 850.8,645.9 851.8,641.2 852.8,635.2 853.8,628.5 854.8,621.7 855.8,615.6 856.8,610.0 857.8,603.9 858.8,597.8 859.8,592.4 860.8,588.4 861.8,586.4 862.8,586.8 863.8,588.6 864.8,591.3 865.8,594.3 866.8,597.1 867.8,600.0 868.8,603.4 869.8,606.7 870.8,609.4 871.8,610.8 872.8,610.5 873.8,608.9 874.8,606.3 875.8,603.2 876.8,599.6 877.8,593.6 878.8,586.1 879.8,578.7 880.8,572.8 881.8,567.4 882.8,562.3 883.8,558.2 884.8,556.4 885.8,557.0 886.8,559.0 887.8,562.0 888.8,565.7 889.8,569.5 890.8,573.3 891.8,577.9 892.8,583.2 893.8,588.9 894.8,594.8 895.8,600.6 896.8,606.1 897.8,611.5 898.8,617.2 899.8,622.8 900.8,627.9 901.8,632.4 902.8,636.3 903.8,640.3 904.8,643.7 905.8,645.8 906.8,646.0 907.8,645.0 908.8,643.4 909.8,641.5 910.8,639.8 911.8,638.5 912.8,637.6 913.8,636.7 914.8,636.0 915.8,635.9 916.8,636.3 917.8,637.2 918.8,638.4 919.8,639.8 920.8,641.2 921.8,642.6 922.8,644.4 923.8,646.4 924.8,648.5 925.8,650.7 926.8,652.9 927.8,655.5 928.8,658.6 929.8,661.6 930.8,664.4 931.8,666.5 932.8,667.5 933.8,667.0 934.8,664.7 935.8,661.4 936.8,657.7 937.8,654.1 938.8,651.4 939.8,650.1 940.8,649.2 941.8,648.4 942.8,647.8 943.8,647.4 944.8,647.2 945.8,647.5 946.8,648.2 947.8,649.1 948.8,649.9 949.8,650.4 950.8,650.1 951.8,648.3 952.8,645.3 953.8,641.8 954.8,638.0 955.8,634.3 956.8,630.0 957.8,625.0 958.8,619.7 959.8,614.5 960.8,609.7 961.8,605.9 962.8,602.6 963.8,599.4 964.8,596.4 965.8,594.1 966.8,592.8 967.8,593.1 968.8,595.6 969.8,599.7 970.8,604.8 971.8,610.2 972.8,615.0 973.8,620.6 974.8,627.0 975.8,633.2 976.8,638.4 977.8,641.6 978.8,643.1 979.8,644.3 980.8,645.2 981.8,645.7 982.8,645.7 983.8,645.6 984.8,645.4 985.8,645.2 986.8,645.0 987.8,644.9 988.8,644.7 989.8,644.4 990.8,644.0 991.8,640.0 992.8,631.0 993.8,619.5 994.8,608.1 995.8,597.4 996.8,584.7 997.8,571.6 998.8,559.8 999.8,550.9 1000.8,546.3 1001.8,542.9 1002.8,539.9 1003.8,537.4 1004.8,535.5 1005.8,534.3 1006.8,533.9 1007.8,534.4 1008.8,535.6 1009.8,537.6 1010.8,539.9 1011.8,542.6 1012.8,545.6 1013.8,550.0 1014.8,555.6 1015.8,561.9 1016.8,568.7 1017.8,575.6 1018.8,584.2 1019.8,593.7 1020.8,602.8 1021.8,609.9 1022.8,615.9 1023.8,621.8 1024.8,627.2 1025.8,631.8 1026.8,635.2 1027.8,637.0 1028.8,637.0 1029.8,636.1 1030.8,634.6 1031.8,632.7 1032.8,630.6 1033.8,628.4 1034.8,626.3 1035.8,624.6 1036.8,623.0 1037.8,621.5 1038.8,619.9 1039.8,618.4 1040.8,617.0 1041.8,615.5 1042.8,614.1 1043.8,612.5 1044.8,610.7 1045.8,609.1 1046.8,607.6 1047.8,606.4 1048.8,605.7 1049.8,605.5 1050.8,605.6 1051.8,605.9 1052.8,606.2 1053.8,607.3 1054.8,608.9 1055.8,610.9 1056.8,612.9 1057.8,614.6 1058.8,615.9 1059.8,617.3 1060.8,618.5 1061.8,619.3 1062.8,619.6 1063.8,619.7 1064.8,619.8 1065.8,619.9 1066.8,620.0 1067.8,620.2 1068.8,620.7 1069.8,621.7 1070.8,622.8 1071.8,624.1 1072.8,625.2 1073.8,626.1 1074.8,626.5 1075.8,626.2 1076.8,624.7 1077.8,622.6 1078.8,620.3 1079.8,618.4 1080.8,616.2 1081.8,614.2 1082.8,612.8 1083.8,612.8 1084.8,614.7 1085.8,618.1 1086.8,622.2 1087.8,626.6 1088.8,631.4 1089.8,637.7 1090.8,644.6 1091.8,650.7 1092.8,655.4 1093.8,659.8 1094.8,664.0 1095.8,667.5 1096.8,669.9 1097.8,670.7 1098.8,669.7 1099.8,667.2 1100.8,663.6 1101.8,659.4 1102.8,654.9 1103.8,650.0 1104.8,643.4 1105.8,635.6 1106.8,627.8 1107.8,620.9 1108.8,615.5 1109.8,610.5 1110.8,605.5 1111.8,600.9 1112.8,597.1 1113.8,594.4 1114.8,593.2 1115.8,594.2 1116.8,597.5 1117.8,602.5 1118.8,608.3 1119.8,614.0 1120.8,619.3 1121.8,625.7 1122.8,632.9 1123.8,640.1 1124.8,646.3 1125.8,650.7 1126.8,652.4 1127.8,651.8 1128.8,650.3 1129.8,648.1 1130.8,645.4 1131.8,642.5 1132.8,639.6 1133.8,637.0 1134.8,634.3 1135.8,631.4 1136.8,628.3 1137.8,625.2 1138.8,622.0 1139.8,618.8 1140.8,615.2 1141.8,611.0 1142.8,606.6 1143.8,602.1 1144.8,598.0 1145.8,594.4 1146.8,591.7 1147.8,590.2 1148.8,590.2 1149.8,592.2 1150.8,595.5 1151.8,599.5 1152.8,603.3 1153.8,606.3 1154.8,608.9 1155.8,611.7 1156.8,614.4 1157.8,616.7 1158.8,618.5 1159.8,619.4 1160.8,619.4 1161.8,619.0 1162.8,618.2 1163.8,617.3 1164.8,616.1 1165.8,614.7 1166.8,613.3 1167.8,611.9 1168.8,610.4 1169.8,608.8 1170.8,606.9 1171.8,604.8 1172.8,602.6 1173.8,600.5 1174.8,598.2 1175.8,595.4 1176.8,592.5 1177.8,590.0 1178.8,588.3 1179.8,587.9 1180.8,589.1 1181.8,591.6 1182.8,594.9 1183.8,598.7 1184.8,602.4 1185.8,605.5 1186.8,608.0 1187.8,610.3 1188.8,612.5 1189.8,614.6 1190.8,616.9 1191.8,619.3 1192.8,622.1 1193.8,625.4 1194.8,629.1 1195.8,632.9 1196.8,636.7 1197.8,640.4 1198.8,644.4 1199.8,648.6 1200.8,651.2 1201.8,650.0 1202.8,644.6 1203.8,636.7 1204.8,628.1 1205.8,620.0 1206.8,610.6 1207.8,601.2 1208.8,594.4 1209.8,588.8 1210.8,583.9 1211.8,580.6 1212.8,579.9 1213.8,581.4 1214.8,584.0 1215.8,587.1 1216.8,590.0 1217.8,592.2 1218.8,594.1 1219.8,595.9 1220.8,597.7 1221.8,599.8 1222.8,602.3 1223.8,605.6 1224.8,609.5 1225.8,613.9 1226.8,618.3 1227.8,622.5 1228.8,626.9 1229.8,632.0 1230.8,637.0 1231.8,640.9 1232.8,642.7 1233.8,641.5 1234.8,637.7 1235.8,632.5 1236.8,627.2 1237.8,622.9 1238.8,619.1 1239.8,615.0 1240.8,611.5 1241.8,609.0 1242.8,608.3 1243.8,609.2 1244.8,611.0 1245.8,613.3 1246.8,615.7 1247.8,617.7 1248.8,619.5 1249.8,621.4 1250.8,623.3 1251.8,625.4 1252.8,627.8 1253.8,630.5 1254.8,633.6 1255.8,637.0 1256.8,640.5 1257.8,643.8 1258.8,647.1 1259.8,651.0 1260.8,654.9 1261.8,658.3 1262.8,660.5 1263.8,661.0 1264.8,660.6 1265.8,659.7 1266.8,658.7 1267.8,657.7 1268.8,656.8 1269.8,656.2 1270.8,655.7 1271.8,655.3 1272.8,654.7 1273.8,654.0 1274.8,652.6 1275.8,649.1 1276.8,644.0 1277.8,638.1 1278.8,632.2 1279.8,627.0 1280.8,621.5 1281.8,615.4 1282.8,609.7 1283.8,605.2 1284.8,603.0 1285.8,603.1 1286.8,603.7 1287.8,604.6 1288.8,605.4 1289.8,606.0 1290.8,606.0 1291.8,604.2 1292.8,601.1 1293.8,597.0 1294.8,592.8 1295.8,589.0 1296.8,584.8 1297.8,580.0 1298.8,575.4 1299.8,571.9 1300.8,570.6 1301.8,572.1 1302.8,575.8 1303.8,580.6 1304.8,585.7 1305.8,590.1 1306.8,594.8 1307.8,599.7 1308.8,604.5 1309.8,608.9 1310.8,612.3 1311.8,615.0 1312.8,617.4 1313.8,619.6 1314.8,621.5 1315.8,623.2 1316.8,624.7 1317.8,626.1 1318.8,627.5 1319.8,628.8 1320.8,629.9 1321.8,630.6 1322.8,630.9 1323.8,629.7 1324.8,627.1 1325.8,624.1 1326.8,621.6 1327.8,620.1 1328.8,618.8 1329.8,617.7 1330.8,616.9 1330.9,616.8" fill="none" stroke="#9D892B" stroke-width="4.75" stroke-linejoin="round" stroke-linecap="butt" clip-path="url(#clipb)"/>
<path d="M763.8,740.9 764.8,740.3 765.8,739.6 766.8,738.7 767.8,737.6 768.8,736.4 769.8,735.0 770.8,733.3 771.8,731.3 772.8,728.2 773.8,724.0 774.8,719.1 775.8,713.9 776.8,708.9 777.8,704.0 778.8,698.7 779.8,693.1 780.8,687.7 781.8,682.6 782.8,678.2 783.8,674.6 784.8,671.1 785.8,667.7 786.8,664.8 787.8,662.8 788.8,662.2 789.8,662.7 790.8,664.0 791.8,666.0 792.8,668.4 793.8,671.0 794.8,674.5 795.8,679.8 796.8,686.5 797.8,694.0 798.8,701.6 799.8,708.8 800.8,716.8 801.8,725.4 802.8,733.8 803.8,741.2 804.8,746.8 805.8,750.5 806.8,754.2 807.8,759.6 808.8,765.4 809.8,769.9 810.8,771.6 811.8,769.9 812.8,765.9 813.8,760.8 814.8,755.6 815.8,751.5 816.8,748.0 817.8,744.6 818.8,741.2 819.8,737.7 820.8,733.8 821.8,729.1 822.8,723.7 823.8,718.2 824.8,713.1 825.8,709.2 826.8,706.4 827.8,703.9 828.8,701.6 829.8,699.8 830.8,698.8 831.8,698.6 832.8,698.9 833.8,699.7 834.8,700.7 835.8,701.8 836.8,702.9 837.8,703.8 838.8,704.6 839.8,705.5 840.8,706.5 841.8,707.4 842.8,708.2 843.8,708.8 844.8,709.2 845.8,709.2 846.8,709.0 847.8,708.8 848.8,708.4 849.8,707.9 850.8,707.5 851.8,707.1 852.8,706.6 853.8,706.1 854.8,705.5 855.8,705.0 856.8,704.6 857.8,704.3 858.8,704.4 859.8,705.2 860.8,706.3 861.8,707.8 862.8,709.3 863.8,710.6 864.8,712.0 865.8,713.5 866.8,715.1 867.8,716.7 868.8,718.2 869.8,719.6 870.8,720.7 871.8,721.7 872.8,722.6 873.8,723.5 874.8,724.3 875.8,725.0 876.8,725.5 877.8,725.8 878.8,726.0 879.8,726.1 880.8,726.3 881.8,726.4 882.8,726.5 883.8,726.6 884.8,726.7 885.8,726.9 886.8,727.2 887.8,727.5 888.8,727.9 889.8,728.3 890.8,728.8 891.8,729.3 892.8,729.8 893.8,730.3 894.8,730.7 895.8,731.2 896.8,731.8 897.8,732.3 898.8,732.9 899.8,733.3 900.8,733.6 901.8,733.8 902.8,733.7 903.8,733.5 904.8,733.1 905.8,732.6 906.8,732.0 907.8,731.4 908.8,730.9 909.8,730.5 910.8,730.0 911.8,729.6 912.8,729.1 913.8,728.6 914.8,728.1 915.8,727.8 916.8,727.5 917.8,727.4 918.8,727.4 919.8,727.6 920.8,728.0 921.8,728.4 922.8,728.9 923.8,729.4 924.8,729.9 925.8,730.3 926.8,730.7 927.8,731.0 928.8,731.4 929.8,731.8 930.8,732.1 931.8,732.4 932.8,732.6 933.8,732.7 934.8,732.7 935.8,732.4 936.8,732.0 937.8,731.4 938.8,730.8 939.8,730.1 940.8,729.3 941.8,728.6 942.8,727.9 943.8,727.4 944.8,726.8 945.8,726.3 946.8,725.8 947.8,725.3 948.8,724.8 949.8,724.3 950.8,723.9 951.8,723.4 952.8,722.9 953.8,722.4 954.8,721.9 955.8,721.5 956.8,721.0 957.8,720.5 958.8,720.0 959.8,719.5 960.8,718.9 961.8,718.2 962.8,717.4 963.8,716.5 964.8,715.5 965.8,714.6 966.8,713.6 967.8,712.7 968.8,711.8 969.8,711.0 970.8,710.2 971.8,709.4 972.8,708.6 973.8,707.8 974.8,707.1 975.8,706.4 976.8,705.9 977.8,705.6 978.8,705.4 979.8,705.2 980.8,705.0 981.8,704.9 982.8,704.8 983.8,704.6 984.8,704.6 985.8,704.5 986.8,704.5 987.8,704.5 988.8,704.6 989.8,704.6 990.8,704.7 991.8,704.7 992.8,704.8 993.8,704.9 994.8,705.0 995.8,705.1 996.8,705.2 997.8,705.4 998.8,705.5 999.8,705.7 1000.8,705.9 1001.8,706.3 1002.8,706.7 1003.8,707.2 1004.8,707.7 1005.8,708.2 1006.8,708.7 1007.8,709.3 1008.8,710.0 1009.8,710.7 1010.8,711.4 1011.8,712.2 1012.8,712.9 1013.8,713.8 1014.8,714.8 1015.8,715.7 1016.8,716.6 1017.8,717.3 1018.8,717.9 1019.8,718.3 1020.8,718.7 1021.8,719.0 1022.8,719.3 1023.8,719.6 1024.8,719.9 1025.8,720.1 1026.8,720.3 1027.8,720.4 1028.8,720.6 1029.8,720.7 1030.8,720.9 1031.8,721.0 1032.8,721.2 1033.8,721.5 1034.8,721.8 1035.8,722.3 1036.8,722.8 1037.8,723.4 1038.8,723.9 1039.8,724.5 1040.8,725.1 1041.8,725.6 1042.8,726.0 1043.8,726.5 1044.8,727.0 1045.8,727.5 1046.8,727.9 1047.8,728.2 1048.8,728.4 1049.8,728.5 1050.8,728.4 1051.8,728.2 1052.8,728.0 1053.8,727.7 1054.8,727.4 1055.8,727.1 1056.8,726.7 1057.8,726.4 1058.8,726.1 1059.8,725.9 1060.8,725.7 1061.8,725.6 1062.8,725.6 1063.8,725.7 1064.8,725.8 1065.8,726.0 1066.8,726.2 1067.8,726.5 1068.8,726.7 1069.8,727.0 1070.8,727.3 1071.8,727.6 1072.8,727.8 1073.8,728.0 1074.8,728.2 1075.8,728.3 1076.8,728.4 1077.8,728.4 1078.8,728.3 1079.8,728.1 1080.8,727.8 1081.8,727.4 1082.8,727.0 1083.8,726.5 1084.8,726.0 1085.8,725.5 1086.8,725.0 1087.8,724.4 1088.8,723.9 1089.8,723.3 1090.8,722.9 1091.8,722.4 1092.8,722.0 1093.8,721.7 1094.8,721.5 1095.8,721.3 1096.8,721.3 1097.8,721.3 1098.8,721.4 1099.8,721.5 1100.8,721.7 1101.8,721.8 1102.8,722.0 1103.8,722.2 1104.8,722.3 1105.8,722.5 1106.8,722.6 1107.8,722.7 1108.8,722.8 1109.8,722.8 1110.8,722.7 1111.8,722.6 1112.8,722.4 1113.8,722.1 1114.8,721.8 1115.8,721.4 1116.8,721.0 1117.8,720.6 1118.8,720.2 1119.8,719.8 1120.8,719.4 1121.8,719.0 1122.8,718.7 1123.8,718.5 1124.8,718.2 1125.8,718.1 1126.8,718.1 1127.8,718.1 1128.8,718.2 1129.8,718.4 1130.8,718.6 1131.8,718.8 1132.8,719.0 1133.8,719.3 1134.8,719.5 1135.8,719.7 1136.8,719.9 1137.8,720.1 1138.8,720.2 1139.8,720.2 1140.8,720.2 1141.8,720.1 1142.8,720.0 1143.8,719.9 1144.8,719.7 1145.8,719.5 1146.8,719.3 1147.8,719.1 1148.8,718.8 1149.8,718.6 1150.8,718.4 1151.8,718.2 1152.8,718.0 1153.8,717.9 1154.8,717.8 1155.8,717.7 1156.8,717.6 1157.8,717.7 1158.8,717.7 1159.8,717.8 1160.8,717.9 1161.8,718.0 1162.8,718.1 1163.8,718.2 1164.8,718.3 1165.8,718.4 1166.8,718.5 1167.8,718.5 1168.8,718.5 1169.8,718.4 1170.8,718.3 1171.8,718.1 1172.8,717.9 1173.8,717.7 1174.8,717.5 1175.8,717.3 1176.8,717.1 1177.8,716.9 1178.8,716.7 1179.8,716.6 1180.8,716.4 1181.8,716.4 1182.8,716.3 1183.8,716.4 1184.8,716.5 1185.8,716.6 1186.8,716.8 1187.8,717.1 1188.8,717.3 1189.8,717.6 1190.8,717.9 1191.8,718.2 1192.8,718.4 1193.8,718.6 1194.8,718.8 1195.8,719.0 1196.8,719.1 1197.8,719.1 1198.8,719.1 1199.8,719.0 1200.8,718.8 1201.8,718.5 1202.8,718.2 1203.8,717.9 1204.8,717.6 1205.8,717.2 1206.8,716.9 1207.8,716.6 1208.8,716.3 1209.8,716.1 1210.8,716.0 1211.8,715.9 1212.8,716.0 1213.8,716.1 1214.8,716.3 1215.8,716.6 1216.8,716.9 1217.8,717.3 1218.8,717.7 1219.8,718.1 1220.8,718.5 1221.8,719.0 1222.8,719.4 1223.8,719.8 1224.8,720.2 1225.8,720.5 1226.8,720.8 1227.8,721.1 1228.8,721.2 1229.8,721.3 1230.8,721.3 1231.8,721.2 1232.8,721.1 1233.8,721.0 1234.8,720.9 1235.8,720.7 1236.8,720.5 1237.8,720.3 1238.8,720.2 1239.8,720.0 1240.8,719.9 1241.8,719.8 1242.8,719.8 1243.8,719.8 1244.8,719.9 1245.8,720.0 1246.8,720.3 1247.8,720.5 1248.8,720.8 1249.8,721.1 1250.8,721.5 1251.8,721.8 1252.8,722.2 1253.8,722.5 1254.8,722.9 1255.8,723.2 1256.8,723.6 1257.8,723.8 1258.8,724.1 1259.8,724.3 1260.8,724.4 1261.8,724.5 1262.8,724.5 1263.8,724.5 1264.8,724.3 1265.8,724.1 1266.8,723.9 1267.8,723.7 1268.8,723.4 1269.8,723.2 1270.8,723.0 1271.8,722.9 1272.8,722.8 1273.8,722.8 1274.8,722.8 1275.8,722.8 1276.8,722.9 1277.8,722.9 1278.8,723.0 1279.8,723.0 1280.8,723.1 1281.8,723.1 1282.8,723.2 1283.8,723.2 1284.8,723.3 1285.8,723.3 1286.8,723.4 1287.8,723.4 1288.8,723.4 1289.8,723.4 1290.8,723.4 1291.8,723.4 1292.8,723.2 1293.8,723.0 1294.8,722.8 1295.8,722.5 1296.8,722.2 1297.8,721.9 1298.8,721.6 1299.8,721.3 1300.8,721.0 1301.8,720.8 1302.8,720.7 1303.8,720.6 1304.8,720.6 1305.8,720.5 1306.8,720.4 1307.8,720.4 1308.8,720.3 1309.8,720.3 1310.8,720.3 1311.8,720.2 1312.8,720.2 1313.8,720.1 1314.8,720.1 1315.8,720.1 1316.8,720.0 1317.8,720.0 1318.8,720.0 1319.8,720.0 1320.8,719.9 1321.8,719.9 1322.8,719.9 1323.8,719.9 1324.8,719.8 1325.8,719.8 1326.8,719.8 1327.8,719.8 1328.8,719.8 1329.8,719.7 1330.8,719.7 1330.9,719.7" fill="none" stroke="#687B3E" stroke-width="4.75" stroke-linejoin="round" stroke-linecap="butt" clip-path="url(#clipb)"/>
<path d="M763.8,841.6 764.8,840.9 765.8,839.9 766.8,838.8 767.8,837.4 768.8,835.7 769.8,833.9 770.8,831.7 771.8,829.3 772.8,826.4 773.8,822.8 774.8,818.8 775.8,814.4 776.8,809.8 777.8,805.2 778.8,800.4 779.8,794.8 780.8,789.0 781.8,783.4 782.8,778.6 783.8,774.9 784.8,771.3 785.8,767.9 786.8,765.0 787.8,763.1 788.8,762.5 789.8,763.1 790.8,764.8 791.8,767.2 792.8,770.1 793.8,773.3 794.8,777.1 795.8,782.5 796.8,789.1 797.8,796.4 798.8,803.9 799.8,811.3 800.8,819.6 801.8,828.6 802.8,837.5 803.8,845.3 804.8,851.4 805.8,856.3 806.8,861.2 807.8,865.7 808.8,869.4 809.8,872.1 810.8,873.5 811.8,873.3 812.8,871.8 813.8,869.2 814.8,865.9 815.8,862.3 816.8,858.7 817.8,853.9 818.8,848.1 819.8,841.9 820.8,835.7 821.8,830.1 822.8,825.1 823.8,819.9 824.8,815.0 825.8,810.7 826.8,807.3 827.8,805.0 828.8,802.9 829.8,801.2 830.8,800.1 831.8,799.9 832.8,800.2 833.8,800.7 834.8,801.5 835.8,802.4 836.8,803.3 837.8,804.1 838.8,804.9 839.8,805.9 840.8,806.9 841.8,808.0 842.8,808.9 843.8,809.6 844.8,810.1 845.8,810.1 846.8,809.9 847.8,809.5 848.8,809.0 849.8,808.4 850.8,807.8 851.8,807.3 852.8,806.9 853.8,806.3 854.8,805.8 855.8,805.4 856.8,805.2 857.8,805.4 858.8,806.0 859.8,807.1 860.8,808.4 861.8,809.7 862.8,810.9 863.8,812.2 864.8,813.6 865.8,815.0 866.8,816.4 867.8,817.8 868.8,819.0 869.8,820.2 870.8,821.4 871.8,822.7 872.8,823.8 873.8,824.7 874.8,825.3 875.8,825.6 876.8,825.8 877.8,825.9 878.8,826.0 879.8,826.1 880.8,826.2 881.8,826.3 882.8,826.4 883.8,826.6 884.8,826.8 885.8,827.2 886.8,827.7 887.8,828.3 888.8,828.9 889.8,829.5 890.8,830.1 891.8,831.0 892.8,831.9 893.8,832.8 894.8,833.8 895.8,834.6 896.8,835.2 897.8,835.8 898.8,836.3 899.8,836.8 900.8,837.1 901.8,837.3 902.8,837.2 903.8,836.7 904.8,836.0 905.8,835.1 906.8,834.2 907.8,833.3 908.8,832.4 909.8,831.8 910.8,831.1 911.8,830.5 912.8,829.8 913.8,829.2 914.8,828.6 915.8,828.1 916.8,827.8 917.8,827.7 918.8,827.7 919.8,828.1 920.8,828.6 921.8,829.3 922.8,830.1 923.8,830.8 924.8,831.5 925.8,832.1 926.8,832.6 927.8,833.2 928.8,833.7 929.8,834.2 930.8,834.7 931.8,835.0 932.8,835.1 933.8,835.1 934.8,834.7 935.8,834.1 936.8,833.4 937.8,832.6 938.8,831.7 939.8,830.8 940.8,829.9 941.8,829.2 942.8,828.5 943.8,827.8 944.8,827.1 945.8,826.4 946.8,825.7 947.8,825.0 948.8,824.4 949.8,824.0 950.8,823.6 951.8,823.2 952.8,823.0 953.8,822.7 954.8,822.5 955.8,822.3 956.8,822.1 957.8,821.9 958.8,821.6 959.8,821.2 960.8,820.8 961.8,820.3 962.8,819.5 963.8,818.6 964.8,817.5 965.8,816.4 966.8,815.3 967.8,814.2 968.8,813.2 969.8,812.4 970.8,811.5 971.8,810.6 972.8,809.6 973.8,808.7 974.8,807.8 975.8,807.0 976.8,806.3 977.8,805.8 978.8,805.4 979.8,805.2 980.8,805.2 981.8,805.3 982.8,805.4 983.8,805.6 984.8,805.8 985.8,806.0 986.8,806.2 987.8,806.4 988.8,806.7 989.8,806.9 990.8,807.1 991.8,807.2 992.8,807.3 993.8,807.4 994.8,807.5 995.8,807.5 996.8,807.6 997.8,807.6 998.8,807.7 999.8,807.7 1000.8,807.8 1001.8,807.8 1002.8,807.9 1003.8,808.0 1004.8,808.3 1005.8,808.8 1006.8,809.4 1007.8,810.2 1008.8,811.0 1009.8,811.9 1010.8,812.7 1011.8,813.5 1012.8,814.2 1013.8,815.0 1014.8,815.9 1015.8,816.8 1016.8,817.6 1017.8,818.4 1018.8,819.2 1019.8,819.8 1020.8,820.2 1021.8,820.6 1022.8,820.9 1023.8,821.2 1024.8,821.4 1025.8,821.6 1026.8,821.8 1027.8,822.0 1028.8,822.2 1029.8,822.5 1030.8,822.7 1031.8,822.9 1032.8,823.2 1033.8,823.5 1034.8,823.8 1035.8,824.1 1036.8,824.4 1037.8,824.8 1038.8,825.1 1039.8,825.5 1040.8,825.9 1041.8,826.3 1042.8,826.8 1043.8,827.2 1044.8,827.7 1045.8,828.4 1046.8,829.2 1047.8,830.1 1048.8,830.7 1049.8,830.9 1050.8,830.8 1051.8,830.6 1052.8,830.3 1053.8,830.0 1054.8,829.6 1055.8,829.2 1056.8,828.8 1057.8,828.3 1058.8,827.9 1059.8,827.5 1060.8,827.2 1061.8,826.9 1062.8,826.7 1063.8,826.6 1064.8,826.6 1065.8,826.6 1066.8,826.7 1067.8,826.9 1068.8,827.1 1069.8,827.3 1070.8,827.5 1071.8,827.7 1072.8,827.9 1073.8,828.2 1074.8,828.4 1075.8,828.5 1076.8,828.6 1077.8,828.7 1078.8,828.7 1079.8,828.6 1080.8,828.4 1081.8,828.1 1082.8,827.7 1083.8,827.3 1084.8,826.9 1085.8,826.4 1086.8,825.9 1087.8,825.3 1088.8,824.8 1089.8,824.3 1090.8,823.8 1091.8,823.4 1092.8,823.0 1093.8,822.7 1094.8,822.4 1095.8,822.3 1096.8,822.2 1097.8,822.3 1098.8,822.4 1099.8,822.5 1100.8,822.7 1101.8,823.0 1102.8,823.2 1103.8,823.5 1104.8,823.7 1105.8,824.0 1106.8,824.2 1107.8,824.4 1108.8,824.5 1109.8,824.6 1110.8,824.6 1111.8,824.5 1112.8,824.4 1113.8,824.1 1114.8,823.8 1115.8,823.5 1116.8,823.0 1117.8,822.6 1118.8,822.1 1119.8,821.7 1120.8,821.2 1121.8,820.8 1122.8,820.4 1123.8,820.0 1124.8,819.7 1125.8,819.4 1126.8,819.3 1127.8,819.2 1128.8,819.2 1129.8,819.3 1130.8,819.4 1131.8,819.5 1132.8,819.7 1133.8,819.8 1134.8,820.0 1135.8,820.1 1136.8,820.3 1137.8,820.4 1138.8,820.5 1139.8,820.6 1140.8,820.7 1141.8,820.7 1142.8,820.7 1143.8,820.6 1144.8,820.5 1145.8,820.4 1146.8,820.2 1147.8,820.0 1148.8,819.8 1149.8,819.6 1150.8,819.4 1151.8,819.2 1152.8,819.0 1153.8,818.8 1154.8,818.7 1155.8,818.6 1156.8,818.6 1157.8,818.6 1158.8,818.7 1159.8,818.8 1160.8,818.9 1161.8,819.1 1162.8,819.2 1163.8,819.4 1164.8,819.6 1165.8,819.7 1166.8,819.9 1167.8,820.0 1168.8,820.1 1169.8,820.1 1170.8,820.1 1171.8,820.0 1172.8,819.8 1173.8,819.7 1174.8,819.4 1175.8,819.2 1176.8,819.0 1177.8,818.7 1178.8,818.4 1179.8,818.2 1180.8,818.0 1181.8,817.8 1182.8,817.6 1183.8,817.5 1184.8,817.5 1185.8,817.5 1186.8,817.6 1187.8,817.6 1188.8,817.7 1189.8,817.8 1190.8,817.9 1191.8,818.1 1192.8,818.2 1193.8,818.3 1194.8,818.4 1195.8,818.6 1196.8,818.6 1197.8,818.7 1198.8,818.8 1199.8,818.8 1200.8,818.8 1201.8,818.7 1202.8,818.7 1203.8,818.6 1204.8,818.4 1205.8,818.3 1206.8,818.2 1207.8,818.1 1208.8,818.0 1209.8,818.0 1210.8,817.9 1211.8,818.0 1212.8,818.1 1213.8,818.2 1214.8,818.4 1215.8,818.7 1216.8,818.9 1217.8,819.2 1218.8,819.5 1219.8,819.9 1220.8,820.2 1221.8,820.5 1222.8,820.9 1223.8,821.2 1224.8,821.4 1225.8,821.7 1226.8,821.9 1227.8,822.1 1228.8,822.2 1229.8,822.2 1230.8,822.2 1231.8,822.2 1232.8,822.1 1233.8,822.1 1234.8,822.0 1235.8,821.9 1236.8,821.8 1237.8,821.7 1238.8,821.6 1239.8,821.5 1240.8,821.5 1241.8,821.4 1242.8,821.4 1243.8,821.4 1244.8,821.5 1245.8,821.7 1246.8,821.9 1247.8,822.2 1248.8,822.6 1249.8,822.9 1250.8,823.3 1251.8,823.6 1252.8,824.0 1253.8,824.3 1254.8,824.6 1255.8,824.8 1256.8,825.0 1257.8,825.0 1258.8,825.0 1259.8,825.0 1260.8,824.9 1261.8,824.7 1262.8,824.6 1263.8,824.4 1264.8,824.2 1265.8,823.9 1266.8,823.7 1267.8,823.5 1268.8,823.3 1269.8,823.2 1270.8,823.0 1271.8,822.9 1272.8,822.9 1273.8,822.9 1274.8,823.0 1275.8,823.2 1276.8,823.4 1277.8,823.6 1278.8,823.9 1279.8,824.2 1280.8,824.5 1281.8,824.8 1282.8,825.0 1283.8,825.2 1284.8,825.4 1285.8,825.5 1286.8,825.5 1287.8,825.3 1288.8,825.2 1289.8,824.9 1290.8,824.6 1291.8,824.3 1292.8,823.9 1293.8,823.5 1294.8,823.1 1295.8,822.7 1296.8,822.3 1297.8,821.9 1298.8,821.6 1299.8,821.3 1300.8,821.0 1301.8,820.8 1302.8,820.7 1303.8,820.7 1304.8,820.8 1305.8,820.9 1306.8,821.0 1307.8,821.1 1308.8,821.3 1309.8,821.5 1310.8,821.7 1311.8,821.8 1312.8,822.0 1313.8,822.1 1314.8,822.2 1315.8,822.2 1316.8,822.2 1317.8,822.2 1318.8,822.1 1319.8,821.9 1320.8,821.8 1321.8,821.6 1322.8,821.4 1323.8,821.2 1324.8,821.0 1325.8,820.9 1326.8,820.8 1327.8,820.7 1328.8,820.6 1329.8,820.5 1330.8,820.5 1330.9,820.5" fill="none" stroke="#3C6D56" stroke-width="4.75" stroke-linejoin="round" stroke-linecap="butt" clip-path="url(#clipb)"/>
<path d="M763.8,944.3 764.8,943.5 765.8,942.6 766.8,941.4 767.8,940.0 768.8,938.4 769.8,936.5 770.8,934.4 771.8,932.0 772.8,929.0 773.8,925.4 774.8,921.3 775.8,916.9 776.8,912.3 777.8,907.8 778.8,903.2 779.8,898.1 780.8,892.9 781.8,887.9 782.8,883.3 783.8,879.6 784.8,875.8 785.8,872.1 786.8,869.0 787.8,866.9 788.8,866.1 789.8,866.7 790.8,868.2 791.8,870.4 792.8,873.1 793.8,876.0 794.8,879.7 795.8,885.2 796.8,892.0 797.8,899.5 798.8,906.8 799.8,913.6 800.8,920.6 801.8,927.8 802.8,935.1 803.8,942.0 804.8,948.3 805.8,953.7 806.8,958.7 807.8,963.8 808.8,968.5 809.8,972.0 810.8,974.0 811.8,973.8 812.8,972.4 813.8,969.9 814.8,966.7 815.8,963.1 816.8,959.4 817.8,955.6 818.8,950.8 819.8,945.4 820.8,939.7 821.8,934.1 822.8,928.8 823.8,923.9 824.8,918.8 825.8,914.1 826.8,910.2 827.8,907.3 828.8,904.5 829.8,902.2 830.8,900.7 831.8,900.4 832.8,900.7 833.8,901.4 834.8,902.4 835.8,903.5 836.8,904.6 837.8,905.7 838.8,906.6 839.8,907.5 840.8,908.4 841.8,909.3 842.8,910.2 843.8,911.0 844.8,911.7 845.8,912.0 846.8,912.1 847.8,911.8 848.8,911.3 849.8,910.6 850.8,909.8 851.8,909.1 852.8,908.4 853.8,907.9 854.8,907.5 855.8,907.2 856.8,906.9 857.8,906.8 858.8,906.9 859.8,907.5 860.8,908.5 861.8,909.8 862.8,911.2 863.8,912.4 864.8,913.8 865.8,915.4 866.8,917.1 867.8,918.7 868.8,920.2 869.8,921.5 870.8,922.7 871.8,923.8 872.8,924.8 873.8,925.8 874.8,926.7 875.8,927.4 876.8,927.9 877.8,928.2 878.8,928.4 879.8,928.5 880.8,928.6 881.8,928.7 882.8,928.8 883.8,928.9 884.8,929.0 885.8,929.2 886.8,929.4 887.8,929.8 888.8,930.3 889.8,930.8 890.8,931.4 891.8,932.0 892.8,932.6 893.8,933.1 894.8,933.6 895.8,934.1 896.8,934.7 897.8,935.2 898.8,935.8 899.8,936.3 900.8,936.7 901.8,937.0 902.8,937.1 903.8,937.1 904.8,936.8 905.8,936.3 906.8,935.6 907.8,934.9 908.8,934.2 909.8,933.5 910.8,932.9 911.8,932.4 912.8,931.9 913.8,931.5 914.8,931.0 915.8,930.6 916.8,930.2 917.8,930.0 918.8,929.9 919.8,929.9 920.8,930.2 921.8,930.7 922.8,931.3 923.8,931.9 924.8,932.6 925.8,933.1 926.8,933.6 927.8,933.9 928.8,934.3 929.8,934.7 930.8,935.0 931.8,935.3 932.8,935.5 933.8,935.6 934.8,935.6 935.8,935.4 936.8,935.0 937.8,934.4 938.8,933.8 939.8,933.1 940.8,932.4 941.8,931.6 942.8,930.9 943.8,930.3 944.8,929.6 945.8,928.9 946.8,928.2 947.8,927.4 948.8,926.7 949.8,925.9 950.8,925.2 951.8,924.6 952.8,924.0 953.8,923.5 954.8,923.0 955.8,922.6 956.8,922.1 957.8,921.7 958.8,921.3 959.8,920.8 960.8,920.3 961.8,919.8 962.8,919.3 963.8,918.7 964.8,918.0 965.8,917.2 966.8,916.4 967.8,915.6 968.8,914.8 969.8,913.9 970.8,913.1 971.8,912.4 972.8,911.6 973.8,911.0 974.8,910.3 975.8,909.6 976.8,908.8 977.8,908.1 978.8,907.5 979.8,906.9 980.8,906.6 981.8,906.4 982.8,906.3 983.8,906.4 984.8,906.4 985.8,906.4 986.8,906.4 987.8,906.5 988.8,906.5 989.8,906.6 990.8,906.6 991.8,906.7 992.8,906.8 993.8,906.8 994.8,906.9 995.8,907.0 996.8,907.1 997.8,907.2 998.8,907.4 999.8,907.5 1000.8,907.7 1001.8,907.9 1002.8,908.3 1003.8,908.9 1004.8,909.6 1005.8,910.5 1006.8,911.4 1007.8,912.3 1008.8,913.2 1009.8,914.1 1010.8,914.9 1011.8,915.9 1012.8,916.9 1013.8,917.9 1014.8,918.9 1015.8,919.9 1016.8,920.7 1017.8,921.4 1018.8,921.8 1019.8,922.2 1020.8,922.5 1021.8,922.8 1022.8,923.1 1023.8,923.4 1024.8,923.6 1025.8,923.7 1026.8,923.8 1027.8,923.9 1028.8,924.0 1029.8,924.0 1030.8,924.1 1031.8,924.1 1032.8,924.1 1033.8,924.2 1034.8,924.2 1035.8,924.3 1036.8,924.5 1037.8,924.9 1038.8,925.3 1039.8,925.9 1040.8,926.5 1041.8,927.2 1042.8,927.8 1043.8,928.4 1044.8,928.9 1045.8,929.4 1046.8,930.0 1047.8,930.5 1048.8,930.8 1049.8,930.9 1050.8,930.9 1051.8,930.7 1052.8,930.4 1053.8,930.1 1054.8,929.8 1055.8,929.4 1056.8,929.0 1057.8,928.6 1058.8,928.2 1059.8,927.8 1060.8,927.5 1061.8,927.2 1062.8,927.0 1063.8,926.9 1064.8,926.9 1065.8,927.0 1066.8,927.2 1067.8,927.5 1068.8,927.9 1069.8,928.3 1070.8,928.7 1071.8,929.2 1072.8,929.7 1073.8,930.1 1074.8,930.5 1075.8,930.9 1076.8,931.2 1077.8,931.5 1078.8,931.6 1079.8,931.6 1080.8,931.4 1081.8,931.1 1082.8,930.5 1083.8,929.9 1084.8,929.1 1085.8,928.3 1086.8,927.4 1087.8,926.5 1088.8,925.5 1089.8,924.6 1090.8,923.7 1091.8,922.9 1092.8,922.2 1093.8,921.6 1094.8,921.2 1095.8,920.9 1096.8,920.8 1097.8,920.9 1098.8,921.2 1099.8,921.5 1100.8,921.9 1101.8,922.4 1102.8,922.9 1103.8,923.5 1104.8,924.1 1105.8,924.7 1106.8,925.3 1107.8,925.8 1108.8,926.3 1109.8,926.7 1110.8,927.0 1111.8,927.2 1112.8,927.3 1113.8,927.2 1114.8,926.9 1115.8,926.5 1116.8,926.0 1117.8,925.4 1118.8,924.6 1119.8,923.9 1120.8,923.1 1121.8,922.3 1122.8,921.5 1123.8,920.8 1124.8,920.1 1125.8,919.6 1126.8,919.1 1127.8,918.8 1128.8,918.7 1129.8,918.7 1130.8,918.9 1131.8,919.3 1132.8,919.7 1133.8,920.2 1134.8,920.7 1135.8,921.3 1136.8,921.9 1137.8,922.4 1138.8,922.9 1139.8,923.4 1140.8,923.7 1141.8,924.0 1142.8,924.1 1143.8,924.0 1144.8,923.8 1145.8,923.5 1146.8,923.2 1147.8,922.7 1148.8,922.2 1149.8,921.6 1150.8,921.0 1151.8,920.4 1152.8,919.8 1153.8,919.3 1154.8,918.7 1155.8,918.3 1156.8,918.0 1157.8,917.7 1158.8,917.6 1159.8,917.6 1160.8,917.8 1161.8,918.0 1162.8,918.4 1163.8,918.8 1164.8,919.2 1165.8,919.7 1166.8,920.2 1167.8,920.7 1168.8,921.1 1169.8,921.6 1170.8,921.9 1171.8,922.2 1172.8,922.5 1173.8,922.6 1174.8,922.5 1175.8,922.4 1176.8,922.1 1177.8,921.8 1178.8,921.4 1179.8,920.9 1180.8,920.4 1181.8,919.8 1182.8,919.3 1183.8,918.8 1184.8,918.3 1185.8,917.9 1186.8,917.6 1187.8,917.3 1188.8,917.2 1189.8,917.2 1190.8,917.3 1191.8,917.4 1192.8,917.6 1193.8,917.9 1194.8,918.2 1195.8,918.5 1196.8,918.8 1197.8,919.1 1198.8,919.4 1199.8,919.7 1200.8,920.0 1201.8,920.2 1202.8,920.3 1203.8,920.4 1204.8,920.4 1205.8,920.4 1206.8,920.3 1207.8,920.2 1208.8,920.1 1209.8,919.9 1210.8,919.8 1211.8,919.6 1212.8,919.5 1213.8,919.3 1214.8,919.2 1215.8,919.2 1216.8,919.1 1217.8,919.1 1218.8,919.3 1219.8,919.5 1220.8,919.8 1221.8,920.2 1222.8,920.6 1223.8,921.1 1224.8,921.6 1225.8,922.1 1226.8,922.6 1227.8,923.1 1228.8,923.6 1229.8,924.1 1230.8,924.5 1231.8,924.8 1232.8,925.0 1233.8,925.1 1234.8,925.1 1235.8,925.0 1236.8,924.7 1237.8,924.4 1238.8,923.9 1239.8,923.4 1240.8,922.8 1241.8,922.3 1242.8,921.8 1243.8,921.3 1244.8,920.9 1245.8,920.6 1246.8,920.4 1247.8,920.4 1248.8,920.5 1249.8,920.8 1250.8,921.1 1251.8,921.5 1252.8,921.9 1253.8,922.4 1254.8,923.0 1255.8,923.5 1256.8,924.1 1257.8,924.6 1258.8,925.2 1259.8,925.6 1260.8,926.1 1261.8,926.4 1262.8,926.7 1263.8,926.8 1264.8,926.9 1265.8,926.8 1266.8,926.6 1267.8,926.4 1268.8,926.1 1269.8,925.7 1270.8,925.3 1271.8,924.9 1272.8,924.4 1273.8,924.0 1274.8,923.6 1275.8,923.3 1276.8,923.0 1277.8,922.8 1278.8,922.6 1279.8,922.6 1280.8,922.7 1281.8,922.9 1282.8,923.2 1283.8,923.6 1284.8,924.0 1285.8,924.5 1286.8,925.0 1287.8,925.6 1288.8,926.1 1289.8,926.6 1290.8,927.0 1291.8,927.4 1292.8,927.7 1293.8,927.9 1294.8,928.0 1295.8,927.9 1296.8,927.6 1297.8,927.3 1298.8,926.8 1299.8,926.2 1300.8,925.6 1301.8,925.0 1302.8,924.3 1303.8,923.5 1304.8,922.8 1305.8,922.2 1306.8,921.5 1307.8,921.0 1308.8,920.5 1309.8,920.1 1310.8,919.9 1311.8,919.8 1312.8,919.8 1313.8,919.9 1314.8,920.1 1315.8,920.3 1316.8,920.6 1317.8,921.0 1318.8,921.3 1319.8,921.7 1320.8,922.1 1321.8,922.5 1322.8,922.9 1323.8,923.2 1324.8,923.5 1325.8,923.8 1326.8,924.0 1327.8,924.2 1328.8,924.4 1329.8,924.5 1330.8,924.6 1330.9,924.6" fill="none" stroke="#1C5A62" stroke-width="4.75" stroke-linejoin="round" stroke-linecap="butt" clip-path="url(#clipb)"/>
<path d="M763.8,1044.4 764.8,1043.6 765.8,1042.5 766.8,1041.2 767.8,1039.7 768.8,1037.8 769.8,1035.7 770.8,1033.4 771.8,1030.7 772.8,1027.5 773.8,1023.5 774.8,1019.0 775.8,1014.2 776.8,1009.3 777.8,1004.5 778.8,999.7 779.8,994.3 780.8,988.7 781.8,983.6 782.8,979.5 783.8,976.8 784.8,974.3 785.8,972.1 786.8,970.4 787.8,969.2 788.8,968.8 789.8,969.4 790.8,971.0 791.8,973.3 792.8,976.0 793.8,979.1 794.8,982.8 795.8,988.4 796.8,995.3 797.8,1002.7 798.8,1010.0 799.8,1016.6 800.8,1023.4 801.8,1030.4 802.8,1037.3 803.8,1043.8 804.8,1049.7 805.8,1054.6 806.8,1059.1 807.8,1063.7 808.8,1067.8 809.8,1071.2 810.8,1073.4 811.8,1074.0 812.8,1072.9 813.8,1070.7 814.8,1067.5 815.8,1063.8 816.8,1059.9 817.8,1056.1 818.8,1051.5 819.8,1046.1 820.8,1040.1 821.8,1034.1 822.8,1028.5 823.8,1023.6 824.8,1019.4 825.8,1015.2 826.8,1011.4 827.8,1008.0 828.8,1005.5 829.8,1003.9 830.8,1002.5 831.8,1001.3 832.8,1000.4 833.8,999.8 834.8,999.6 835.8,999.8 836.8,1000.4 837.8,1001.2 838.8,1002.2 839.8,1003.2 840.8,1004.2 841.8,1005.2 842.8,1006.5 843.8,1008.0 844.8,1009.4 845.8,1010.8 846.8,1012.0 847.8,1012.8 848.8,1013.1 849.8,1013.3 850.8,1013.4 851.8,1013.5 852.8,1013.6 853.8,1013.6 854.8,1013.7 855.8,1013.7 856.8,1013.7 857.8,1013.4 858.8,1013.1 859.8,1012.7 860.8,1012.5 861.8,1012.5 862.8,1012.7 863.8,1013.2 864.8,1013.8 865.8,1014.5 866.8,1015.2 867.8,1016.2 868.8,1017.5 869.8,1019.0 870.8,1020.5 871.8,1022.0 872.8,1023.3 873.8,1024.4 874.8,1025.4 875.8,1026.4 876.8,1027.4 877.8,1028.3 878.8,1029.0 879.8,1029.7 880.8,1030.2 881.8,1030.7 882.8,1031.1 883.8,1031.5 884.8,1031.9 885.8,1032.2 886.8,1032.5 887.8,1032.8 888.8,1033.0 889.8,1033.3 890.8,1033.5 891.8,1033.7 892.8,1033.9 893.8,1034.2 894.8,1034.4 895.8,1034.6 896.8,1034.7 897.8,1034.9 898.8,1035.0 899.8,1035.1 900.8,1035.1 901.8,1035.1 902.8,1035.0 903.8,1035.0 904.8,1034.9 905.8,1034.8 906.8,1034.7 907.8,1034.5 908.8,1034.4 909.8,1034.3 910.8,1034.2 911.8,1034.1 912.8,1034.0 913.8,1033.9 914.8,1033.8 915.8,1033.8 916.8,1033.8 917.8,1033.9 918.8,1033.9 919.8,1034.0 920.8,1034.1 921.8,1034.3 922.8,1034.4 923.8,1034.6 924.8,1034.7 925.8,1034.9 926.8,1035.0 927.8,1035.1 928.8,1035.3 929.8,1035.4 930.8,1035.4 931.8,1035.5 932.8,1035.5 933.8,1035.5 934.8,1035.4 935.8,1035.2 936.8,1034.9 937.8,1034.6 938.8,1034.3 939.8,1033.9 940.8,1033.5 941.8,1033.1 942.8,1032.7 943.8,1032.3 944.8,1031.9 945.8,1031.4 946.8,1031.0 947.8,1030.5 948.8,1030.0 949.8,1029.4 950.8,1028.8 951.8,1028.2 952.8,1027.6 953.8,1027.0 954.8,1026.3 955.8,1025.6 956.8,1024.7 957.8,1023.9 958.8,1023.0 959.8,1022.1 960.8,1021.1 961.8,1020.2 962.8,1019.3 963.8,1018.4 964.8,1017.6 965.8,1016.8 966.8,1016.0 967.8,1015.1 968.8,1014.2 969.8,1013.4 970.8,1012.5 971.8,1011.8 972.8,1011.1 973.8,1010.6 974.8,1010.1 975.8,1009.9 976.8,1009.7 977.8,1009.5 978.8,1009.4 979.8,1009.3 980.8,1009.1 981.8,1009.0 982.8,1008.9 983.8,1008.9 984.8,1008.8 985.8,1008.8 986.8,1008.8 987.8,1008.8 988.8,1008.8 989.8,1008.8 990.8,1008.9 991.8,1008.9 992.8,1009.0 993.8,1009.0 994.8,1009.1 995.8,1009.1 996.8,1009.2 997.8,1009.3 998.8,1009.4 999.8,1009.5 1000.8,1009.7 1001.8,1010.0 1002.8,1010.4 1003.8,1010.9 1004.8,1011.4 1005.8,1011.9 1006.8,1012.5 1007.8,1013.0 1008.8,1013.6 1009.8,1014.3 1010.8,1015.1 1011.8,1015.9 1012.8,1016.7 1013.8,1017.5 1014.8,1018.3 1015.8,1019.1 1016.8,1019.7 1017.8,1020.4 1018.8,1021.1 1019.8,1021.7 1020.8,1022.4 1021.8,1023.0 1022.8,1023.5 1023.8,1024.0 1024.8,1024.3 1025.8,1024.6 1026.8,1024.9 1027.8,1025.1 1028.8,1025.3 1029.8,1025.5 1030.8,1025.7 1031.8,1025.9 1032.8,1026.0 1033.8,1026.2 1034.8,1026.4 1035.8,1026.6 1036.8,1026.7 1037.8,1027.0 1038.8,1027.2 1039.8,1027.5 1040.8,1027.8 1041.8,1028.1 1042.8,1028.4 1043.8,1028.7 1044.8,1029.0 1045.8,1029.3 1046.8,1029.6 1047.8,1029.8 1048.8,1030.0 1049.8,1030.2 1050.8,1030.4 1051.8,1030.5 1052.8,1030.7 1053.8,1030.8 1054.8,1031.0 1055.8,1031.1 1056.8,1031.3 1057.8,1031.4 1058.8,1031.5 1059.8,1031.6 1060.8,1031.7 1061.8,1031.7 1062.8,1031.8 1063.8,1031.8 1064.8,1031.8 1065.8,1031.8 1066.8,1031.7 1067.8,1031.6 1068.8,1031.4 1069.8,1031.2 1070.8,1031.0 1071.8,1030.8 1072.8,1030.5 1073.8,1030.3 1074.8,1030.0 1075.8,1029.7 1076.8,1029.4 1077.8,1029.1 1078.8,1028.8 1079.8,1028.5 1080.8,1028.2 1081.8,1028.0 1082.8,1027.7 1083.8,1027.5 1084.8,1027.3 1085.8,1027.1 1086.8,1026.9 1087.8,1026.8 1088.8,1026.6 1089.8,1026.4 1090.8,1026.3 1091.8,1026.1 1092.8,1025.9 1093.8,1025.8 1094.8,1025.6 1095.8,1025.4 1096.8,1025.3 1097.8,1025.1 1098.8,1025.0 1099.8,1024.8 1100.8,1024.7 1101.8,1024.5 1102.8,1024.4 1103.8,1024.3 1104.8,1024.2 1105.8,1024.1 1106.8,1024.0 1107.8,1023.9 1108.8,1023.8 1109.8,1023.7 1110.8,1023.7 1111.8,1023.7 1112.8,1023.6 1113.8,1023.6 1114.8,1023.6 1115.8,1023.7 1116.8,1023.7 1117.8,1023.8 1118.8,1023.9 1119.8,1024.0 1120.8,1024.1 1121.8,1024.3 1122.8,1024.4 1123.8,1024.5 1124.8,1024.6 1125.8,1024.7 1126.8,1024.8 1127.8,1024.9 1128.8,1024.9 1129.8,1024.9 1130.8,1024.9 1131.8,1024.7 1132.8,1024.4 1133.8,1024.1 1134.8,1023.6 1135.8,1023.1 1136.8,1022.6 1137.8,1022.0 1138.8,1021.4 1139.8,1020.9 1140.8,1020.4 1141.8,1020.0 1142.8,1019.7 1143.8,1019.4 1144.8,1019.3 1145.8,1019.4 1146.8,1019.5 1147.8,1019.7 1148.8,1020.0 1149.8,1020.3 1150.8,1020.8 1151.8,1021.2 1152.8,1021.7 1153.8,1022.2 1154.8,1022.6 1155.8,1023.1 1156.8,1023.6 1157.8,1024.0 1158.8,1024.3 1159.8,1024.6 1160.8,1024.8 1161.8,1024.9 1162.8,1024.9 1163.8,1024.8 1164.8,1024.5 1165.8,1024.1 1166.8,1023.6 1167.8,1023.1 1168.8,1022.5 1169.8,1021.8 1170.8,1021.1 1171.8,1020.5 1172.8,1019.8 1173.8,1019.2 1174.8,1018.6 1175.8,1018.1 1176.8,1017.7 1177.8,1017.4 1178.8,1017.2 1179.8,1017.2 1180.8,1017.3 1181.8,1017.5 1182.8,1017.8 1183.8,1018.1 1184.8,1018.6 1185.8,1019.0 1186.8,1019.5 1187.8,1020.1 1188.8,1020.6 1189.8,1021.1 1190.8,1021.5 1191.8,1021.9 1192.8,1022.3 1193.8,1022.6 1194.8,1022.7 1195.8,1022.8 1196.8,1022.7 1197.8,1022.5 1198.8,1022.3 1199.8,1022.0 1200.8,1021.6 1201.8,1021.2 1202.8,1020.8 1203.8,1020.4 1204.8,1020.0 1205.8,1019.6 1206.8,1019.3 1207.8,1019.1 1208.8,1018.9 1209.8,1018.9 1210.8,1019.0 1211.8,1019.2 1212.8,1019.5 1213.8,1019.9 1214.8,1020.3 1215.8,1020.8 1216.8,1021.4 1217.8,1021.9 1218.8,1022.5 1219.8,1023.0 1220.8,1023.5 1221.8,1024.0 1222.8,1024.4 1223.8,1024.7 1224.8,1024.8 1225.8,1024.9 1226.8,1024.9 1227.8,1024.8 1228.8,1024.7 1229.8,1024.5 1230.8,1024.4 1231.8,1024.2 1232.8,1024.0 1233.8,1023.8 1234.8,1023.6 1235.8,1023.4 1236.8,1023.3 1237.8,1023.2 1238.8,1023.2 1239.8,1023.2 1240.8,1023.3 1241.8,1023.5 1242.8,1023.7 1243.8,1023.9 1244.8,1024.2 1245.8,1024.5 1246.8,1024.8 1247.8,1025.1 1248.8,1025.4 1249.8,1025.7 1250.8,1025.9 1251.8,1026.1 1252.8,1026.3 1253.8,1026.4 1254.8,1026.4 1255.8,1026.4 1256.8,1026.4 1257.8,1026.4 1258.8,1026.3 1259.8,1026.2 1260.8,1026.2 1261.8,1026.1 1262.8,1026.0 1263.8,1026.0 1264.8,1025.9 1265.8,1025.9 1266.8,1025.8 1267.8,1025.8 1268.8,1025.8 1269.8,1025.8 1270.8,1025.9 1271.8,1026.1 1272.8,1026.3 1273.8,1026.6 1274.8,1026.9 1275.8,1027.2 1276.8,1027.5 1277.8,1027.7 1278.8,1028.0 1279.8,1028.2 1280.8,1028.4 1281.8,1028.5 1282.8,1028.6 1283.8,1028.5 1284.8,1028.4 1285.8,1028.1 1286.8,1027.8 1287.8,1027.4 1288.8,1027.0 1289.8,1026.5 1290.8,1026.0 1291.8,1025.5 1292.8,1025.0 1293.8,1024.5 1294.8,1024.1 1295.8,1023.7 1296.8,1023.3 1297.8,1023.1 1298.8,1022.9 1299.8,1022.8 1300.8,1022.8 1301.8,1022.9 1302.8,1023.1 1303.8,1023.4 1304.8,1023.7 1305.8,1024.0 1306.8,1024.4 1307.8,1024.7 1308.8,1025.0 1309.8,1025.3 1310.8,1025.5 1311.8,1025.7 1312.8,1025.8 1313.8,1025.8 1314.8,1025.7 1315.8,1025.5 1316.8,1025.3 1317.8,1025.0 1318.8,1024.7 1319.8,1024.3 1320.8,1024.0 1321.8,1023.6 1322.8,1023.3 1323.8,1022.9 1324.8,1022.6 1325.8,1022.4 1326.8,1022.2 1327.8,1022.0 1328.8,1021.9 1329.8,1021.7 1330.8,1021.6 1330.9,1021.6" fill="none" stroke="#103F60" stroke-width="4.75" stroke-linejoin="round" stroke-linecap="butt" clip-path="url(#clipb)"/>
<path d="M763.8,1139.3 764.8,1138.6 765.8,1137.6 766.8,1136.4 767.8,1135.1 768.8,1133.4 769.8,1131.6 770.8,1129.4 771.8,1127.0 772.8,1123.8 773.8,1119.8 774.8,1115.2 775.8,1110.3 776.8,1105.4 777.8,1100.7 778.8,1096.1 779.8,1091.2 780.8,1086.2 781.8,1081.6 782.8,1077.8 783.8,1075.1 784.8,1072.7 785.8,1070.5 786.8,1068.7 787.8,1067.6 788.8,1067.2 789.8,1067.8 790.8,1069.4 791.8,1071.6 792.8,1074.4 793.8,1077.4 794.8,1081.0 795.8,1086.2 796.8,1092.5 797.8,1099.4 798.8,1106.3 799.8,1112.8 800.8,1119.6 801.8,1126.6 802.8,1133.7 803.8,1140.6 804.8,1147.1 805.8,1153.0 806.8,1158.7 807.8,1164.8 808.8,1170.3 809.8,1174.2 810.8,1175.6 811.8,1174.5 812.8,1171.9 813.8,1168.1 814.8,1163.5 815.8,1158.7 816.8,1153.9 817.8,1148.0 818.8,1140.9 819.8,1133.2 820.8,1125.3 821.8,1117.8 822.8,1111.2 823.8,1105.1 824.8,1098.9 825.8,1093.0 826.8,1088.1 827.8,1084.6 828.8,1082.9 829.8,1081.6 830.8,1080.5 831.8,1079.8 832.8,1079.4 833.8,1079.5 834.8,1080.2 835.8,1081.5 836.8,1083.0 837.8,1084.8 838.8,1086.5 839.8,1088.4 840.8,1090.6 841.8,1093.1 842.8,1095.7 843.8,1098.3 844.8,1101.0 845.8,1103.9 846.8,1107.0 847.8,1110.0 848.8,1112.7 849.8,1114.9 850.8,1116.8 851.8,1118.4 852.8,1120.0 853.8,1121.4 854.8,1122.7 855.8,1124.1 856.8,1125.4 857.8,1126.8 858.8,1128.3 859.8,1129.9 860.8,1131.4 861.8,1133.0 862.8,1134.6 863.8,1136.1 864.8,1137.6 865.8,1139.0 866.8,1140.3 867.8,1141.7 868.8,1143.0 869.8,1144.3 870.8,1145.5 871.8,1146.6 872.8,1147.5 873.8,1148.2 874.8,1148.9 875.8,1149.5 876.8,1150.0 877.8,1150.3 878.8,1150.3 879.8,1150.1 880.8,1149.8 881.8,1149.2 882.8,1148.6 883.8,1147.8 884.8,1147.0 885.8,1146.2 886.8,1145.5 887.8,1144.8 888.8,1144.2 889.8,1143.6 890.8,1143.0 891.8,1142.4 892.8,1141.8 893.8,1141.2 894.8,1140.6 895.8,1140.0 896.8,1139.4 897.8,1138.8 898.8,1138.2 899.8,1137.5 900.8,1136.8 901.8,1136.1 902.8,1135.4 903.8,1134.7 904.8,1133.9 905.8,1133.2 906.8,1132.5 907.8,1131.8 908.8,1131.1 909.8,1130.5 910.8,1129.8 911.8,1129.1 912.8,1128.4 913.8,1127.6 914.8,1126.9 915.8,1126.3 916.8,1125.9 917.8,1125.5 918.8,1125.3 919.8,1125.3 920.8,1125.5 921.8,1125.6 922.8,1125.9 923.8,1126.2 924.8,1126.5 925.8,1126.8 926.8,1127.1 927.8,1127.4 928.8,1127.8 929.8,1128.3 930.8,1128.8 931.8,1129.2 932.8,1129.6 933.8,1129.9 934.8,1130.0 935.8,1130.0 936.8,1129.8 937.8,1129.4 938.8,1128.9 939.8,1128.4 940.8,1127.7 941.8,1127.0 942.8,1126.3 943.8,1125.6 944.8,1124.9 945.8,1124.3 946.8,1123.7 947.8,1123.2 948.8,1122.6 949.8,1122.0 950.8,1121.4 951.8,1120.9 952.8,1120.3 953.8,1119.7 954.8,1119.1 955.8,1118.5 956.8,1117.9 957.8,1117.3 958.8,1116.7 959.8,1116.1 960.8,1115.4 961.8,1114.8 962.8,1114.1 963.8,1113.4 964.8,1112.8 965.8,1112.2 966.8,1111.7 967.8,1111.2 968.8,1110.6 969.8,1110.1 970.8,1109.6 971.8,1109.1 972.8,1108.7 973.8,1108.4 974.8,1108.2 975.8,1108.2 976.8,1108.4 977.8,1108.6 978.8,1108.9 979.8,1109.4 980.8,1109.8 981.8,1110.3 982.8,1110.8 983.8,1111.2 984.8,1111.6 985.8,1112.0 986.8,1112.5 987.8,1113.0 988.8,1113.5 989.8,1114.0 990.8,1114.4 991.8,1114.8 992.8,1115.0 993.8,1115.2 994.8,1115.4 995.8,1115.5 996.8,1115.6 997.8,1115.6 998.8,1115.7 999.8,1115.8 1000.8,1115.9 1001.8,1116.0 1002.8,1116.2 1003.8,1116.4 1004.8,1116.8 1005.8,1117.4 1006.8,1118.2 1007.8,1119.1 1008.8,1120.1 1009.8,1121.1 1010.8,1122.0 1011.8,1122.9 1012.8,1123.7 1013.8,1124.6 1014.8,1125.5 1015.8,1126.4 1016.8,1127.3 1017.8,1128.1 1018.8,1128.7 1019.8,1129.0 1020.8,1129.2 1021.8,1129.2 1022.8,1129.1 1023.8,1129.0 1024.8,1129.0 1025.8,1128.9 1026.8,1128.8 1027.8,1128.7 1028.8,1128.6 1029.8,1128.5 1030.8,1128.4 1031.8,1128.3 1032.8,1128.2 1033.8,1128.1 1034.8,1128.0 1035.8,1127.9 1036.8,1127.9 1037.8,1128.0 1038.8,1128.4 1039.8,1129.0 1040.8,1129.6 1041.8,1130.4 1042.8,1131.1 1043.8,1131.8 1044.8,1132.5 1045.8,1133.0 1046.8,1133.6 1047.8,1134.2 1048.8,1134.7 1049.8,1135.0 1050.8,1135.2 1051.8,1135.4 1052.8,1135.5 1053.8,1135.6 1054.8,1135.5 1055.8,1135.2 1056.8,1134.8 1057.8,1134.3 1058.8,1133.6 1059.8,1133.0 1060.8,1132.3 1061.8,1131.5 1062.8,1130.8 1063.8,1130.1 1064.8,1129.4 1065.8,1128.8 1066.8,1128.3 1067.8,1127.9 1068.8,1127.7 1069.8,1127.6 1070.8,1127.7 1071.8,1127.8 1072.8,1128.1 1073.8,1128.4 1074.8,1128.8 1075.8,1129.2 1076.8,1129.6 1077.8,1130.0 1078.8,1130.4 1079.8,1130.7 1080.8,1131.0 1081.8,1131.3 1082.8,1131.4 1083.8,1131.5 1084.8,1131.4 1085.8,1131.2 1086.8,1130.9 1087.8,1130.5 1088.8,1130.0 1089.8,1129.4 1090.8,1128.8 1091.8,1128.1 1092.8,1127.5 1093.8,1126.8 1094.8,1126.1 1095.8,1125.5 1096.8,1124.9 1097.8,1124.4 1098.8,1124.0 1099.8,1123.7 1100.8,1123.4 1101.8,1123.3 1102.8,1123.3 1103.8,1123.4 1104.8,1123.6 1105.8,1123.8 1106.8,1124.1 1107.8,1124.4 1108.8,1124.7 1109.8,1125.0 1110.8,1125.4 1111.8,1125.7 1112.8,1126.0 1113.8,1126.3 1114.8,1126.6 1115.8,1126.8 1116.8,1126.9 1117.8,1127.0 1118.8,1127.0 1119.8,1126.9 1120.8,1126.8 1121.8,1126.7 1122.8,1126.5 1123.8,1126.3 1124.8,1126.0 1125.8,1125.8 1126.8,1125.5 1127.8,1125.2 1128.8,1125.0 1129.8,1124.7 1130.8,1124.4 1131.8,1124.1 1132.8,1123.9 1133.8,1123.6 1134.8,1123.4 1135.8,1123.2 1136.8,1123.1 1137.8,1122.9 1138.8,1122.7 1139.8,1122.5 1140.8,1122.3 1141.8,1122.1 1142.8,1121.9 1143.8,1121.7 1144.8,1121.5 1145.8,1121.4 1146.8,1121.2 1147.8,1121.1 1148.8,1120.9 1149.8,1120.8 1150.8,1120.7 1151.8,1120.6 1152.8,1120.6 1153.8,1120.5 1154.8,1120.5 1155.8,1120.6 1156.8,1120.7 1157.8,1120.9 1158.8,1121.1 1159.8,1121.4 1160.8,1121.7 1161.8,1122.1 1162.8,1122.4 1163.8,1122.8 1164.8,1123.2 1165.8,1123.5 1166.8,1123.9 1167.8,1124.2 1168.8,1124.4 1169.8,1124.6 1170.8,1124.8 1171.8,1124.8 1172.8,1124.8 1173.8,1124.6 1174.8,1124.4 1175.8,1124.0 1176.8,1123.6 1177.8,1123.1 1178.8,1122.6 1179.8,1122.1 1180.8,1121.5 1181.8,1121.0 1182.8,1120.5 1183.8,1120.1 1184.8,1119.7 1185.8,1119.3 1186.8,1119.1 1187.8,1119.0 1188.8,1119.0 1189.8,1119.1 1190.8,1119.2 1191.8,1119.4 1192.8,1119.6 1193.8,1119.8 1194.8,1120.1 1195.8,1120.4 1196.8,1120.7 1197.8,1121.0 1198.8,1121.2 1199.8,1121.5 1200.8,1121.7 1201.8,1121.9 1202.8,1122.1 1203.8,1122.2 1204.8,1122.3 1205.8,1122.3 1206.8,1122.3 1207.8,1122.4 1208.8,1122.4 1209.8,1122.4 1210.8,1122.4 1211.8,1122.5 1212.8,1122.5 1213.8,1122.5 1214.8,1122.6 1215.8,1122.6 1216.8,1122.6 1217.8,1122.7 1218.8,1122.9 1219.8,1123.1 1220.8,1123.4 1221.8,1123.7 1222.8,1124.1 1223.8,1124.5 1224.8,1124.9 1225.8,1125.4 1226.8,1125.7 1227.8,1126.1 1228.8,1126.4 1229.8,1126.7 1230.8,1126.9 1231.8,1127.0 1232.8,1127.0 1233.8,1126.9 1234.8,1126.9 1235.8,1126.9 1236.8,1126.8 1237.8,1126.7 1238.8,1126.6 1239.8,1126.5 1240.8,1126.5 1241.8,1126.4 1242.8,1126.3 1243.8,1126.2 1244.8,1126.2 1245.8,1126.1 1246.8,1126.1 1247.8,1126.1 1248.8,1126.2 1249.8,1126.4 1250.8,1126.7 1251.8,1127.0 1252.8,1127.3 1253.8,1127.7 1254.8,1128.1 1255.8,1128.5 1256.8,1128.9 1257.8,1129.2 1258.8,1129.4 1259.8,1129.6 1260.8,1129.8 1261.8,1129.8 1262.8,1129.7 1263.8,1129.5 1264.8,1129.3 1265.8,1129.1 1266.8,1128.8 1267.8,1128.5 1268.8,1128.2 1269.8,1127.8 1270.8,1127.5 1271.8,1127.2 1272.8,1126.9 1273.8,1126.6 1274.8,1126.4 1275.8,1126.2 1276.8,1126.1 1277.8,1126.1 1278.8,1126.2 1279.8,1126.3 1280.8,1126.4 1281.8,1126.6 1282.8,1126.8 1283.8,1127.1 1284.8,1127.3 1285.8,1127.6 1286.8,1127.8 1287.8,1128.1 1288.8,1128.3 1289.8,1128.5 1290.8,1128.6 1291.8,1128.7 1292.8,1128.7 1293.8,1128.6 1294.8,1128.4 1295.8,1128.2 1296.8,1127.9 1297.8,1127.5 1298.8,1127.0 1299.8,1126.5 1300.8,1126.0 1301.8,1125.5 1302.8,1125.0 1303.8,1124.4 1304.8,1123.9 1305.8,1123.5 1306.8,1123.0 1307.8,1122.6 1308.8,1122.3 1309.8,1122.0 1310.8,1121.9 1311.8,1121.8 1312.8,1121.8 1313.8,1121.9 1314.8,1122.0 1315.8,1122.2 1316.8,1122.4 1317.8,1122.6 1318.8,1122.9 1319.8,1123.2 1320.8,1123.4 1321.8,1123.7 1322.8,1124.0 1323.8,1124.2 1324.8,1124.4 1325.8,1124.6 1326.8,1124.8 1327.8,1124.9 1328.8,1125.0 1329.8,1125.1 1330.8,1125.2 1330.9,1125.2" fill="none" stroke="#011959" stroke-width="4.75" stroke-linejoin="round" stroke-linecap="butt" clip-path="url(#clipb)"/>
<line x1="94.25" y1="53.4" x2="94.25" y2="1188.9" stroke="#000" stroke-width="1.75" stroke-dasharray="7,6.6"/>
<line x1="161.20" y1="53.4" x2="161.20" y2="1188.9" stroke="#000" stroke-width="1.75" stroke-dasharray="7,6.6"/>
<line x1="201.50" y1="53.4" x2="201.50" y2="1188.9" stroke="#000" stroke-width="1.75" stroke-dasharray="7,6.6"/>
<line x1="275.00" y1="53.4" x2="275.00" y2="1188.9" stroke="#000" stroke-width="1.75" stroke-dasharray="7,6.6"/>
<line x1="302.00" y1="53.4" x2="302.00" y2="1188.9" stroke="#000" stroke-width="1.75" stroke-dasharray="7,6.6"/>
<line x1="790.00" y1="53.4" x2="790.00" y2="1188.9" stroke="#000" stroke-width="1.75" stroke-dasharray="7,6.6"/>
<line x1="831.00" y1="53.4" x2="831.00" y2="1188.9" stroke="#000" stroke-width="1.75" stroke-dasharray="7,6.6"/>
<line x1="868.00" y1="53.4" x2="868.00" y2="1188.9" stroke="#000" stroke-width="1.75" stroke-dasharray="7,6.6"/>
<line x1="879.40" y1="53.4" x2="879.40" y2="1188.9" stroke="#000" stroke-width="1.75" stroke-dasharray="7,6.6"/>
<rect x="71.6" y="46.4" width="564.4" height="1142.5" fill="none" stroke="#000" stroke-width="2.4"/>
<line x1="71.6" y1="1188.9" x2="71.6" y2="1198.9" stroke="#000" stroke-width="2.4"/>
<line x1="184.5" y1="1188.9" x2="184.5" y2="1198.9" stroke="#000" stroke-width="2.4"/>
<line x1="297.4" y1="1188.9" x2="297.4" y2="1198.9" stroke="#000" stroke-width="2.4"/>
<line x1="410.2" y1="1188.9" x2="410.2" y2="1198.9" stroke="#000" stroke-width="2.4"/>
<line x1="523.1" y1="1188.9" x2="523.1" y2="1198.9" stroke="#000" stroke-width="2.4"/>
<line x1="636.0" y1="1188.9" x2="636.0" y2="1198.9" stroke="#000" stroke-width="2.4"/>
<rect x="765.3" y="46.4" width="564.1000000000001" height="1142.5" fill="none" stroke="#000" stroke-width="2.4"/>
<line x1="765.3" y1="1188.9" x2="765.3" y2="1198.9" stroke="#000" stroke-width="2.4"/>
<line x1="878.1" y1="1188.9" x2="878.1" y2="1198.9" stroke="#000" stroke-width="2.4"/>
<line x1="990.9" y1="1188.9" x2="990.9" y2="1198.9" stroke="#000" stroke-width="2.4"/>
<line x1="1103.8" y1="1188.9" x2="1103.8" y2="1198.9" stroke="#000" stroke-width="2.4"/>
<line x1="1216.6" y1="1188.9" x2="1216.6" y2="1198.9" stroke="#000" stroke-width="2.4"/>
<line x1="1329.4" y1="1188.9" x2="1329.4" y2="1198.9" stroke="#000" stroke-width="2.4"/>
<text transform="matrix(0.3232 0 0 0.3492 326.48 151.97)" font-size="100" fill="#FDB7BC">O</text>
<text transform="matrix(0.3510 0 0 0.3354 351.97 151.83)" font-size="100" fill="#FDB7BC">-</text>
<text transform="matrix(0.3232 0 0 0.3492 364.93 151.97)" font-size="100" fill="#FDB7BC">O</text>
<text transform="matrix(0.4294 0 0 0.3433 401.81 151.87)" font-size="100" fill="#FDB7BC">f</text>
<text transform="matrix(0.4186 0 0 0.3404 413.38 151.87)" font-size="100" fill="#FDB7BC">r</text>
<text transform="matrix(0.3478 0 0 0.3425 426.95 151.98)" font-size="100" fill="#FDB7BC">o</text>
<text transform="matrix(0.3722 0 0 0.3404 446.42 151.87)" font-size="100" fill="#FDB7BC">m</text>
<text transform="matrix(0.4186 0 0 0.3404 488.37 151.87)" font-size="100" fill="#FDB7BC">r</text>
<text transform="matrix(0.3527 0 0 0.3425 501.91 151.98)" font-size="100" fill="#FDB7BC">e</text>
<text transform="matrix(0.4294 0 0 0.3433 521.15 151.87)" font-size="100" fill="#FDB7BC">f</text>
<text transform="matrix(0.3038 0 0 0.3492 322.15 275.87)" font-size="100" fill="#F8A17B">C</text>
<text transform="matrix(0.2939 0 0 0.3425 345.43 275.88)" font-size="100" fill="#F8A17B">a</text>
<text transform="matrix(0.3510 0 0 0.3354 364.80 275.73)" font-size="100" fill="#F8A17B">-</text>
<text transform="matrix(0.3038 0 0 0.3492 376.82 275.87)" font-size="100" fill="#F8A17B">C</text>
<text transform="matrix(0.2939 0 0 0.3425 400.10 275.88)" font-size="100" fill="#F8A17B">a</text>
<text transform="matrix(0.4294 0 0 0.3433 429.96 275.77)" font-size="100" fill="#F8A17B">f</text>
<text transform="matrix(0.4186 0 0 0.3404 441.53 275.77)" font-size="100" fill="#F8A17B">r</text>
<text transform="matrix(0.3478 0 0 0.3425 455.10 275.88)" font-size="100" fill="#F8A17B">o</text>
<text transform="matrix(0.3722 0 0 0.3404 474.57 275.77)" font-size="100" fill="#F8A17B">m</text>
<text transform="matrix(0.4186 0 0 0.3404 516.51 275.77)" font-size="100" fill="#F8A17B">r</text>
<text transform="matrix(0.3527 0 0 0.3425 530.06 275.88)" font-size="100" fill="#F8A17B">e</text>
<text transform="matrix(0.4294 0 0 0.3433 549.29 275.77)" font-size="100" fill="#F8A17B">f</text>
<text transform="matrix(0.3038 0 0 0.3492 330.45 403.67)" font-size="100" fill="#D29343">C</text>
<text transform="matrix(0.2939 0 0 0.3425 353.73 403.68)" font-size="100" fill="#D29343">a</text>
<text transform="matrix(0.3510 0 0 0.3354 373.10 403.53)" font-size="100" fill="#D29343">-</text>
<text transform="matrix(0.3232 0 0 0.3492 385.15 403.67)" font-size="100" fill="#D29343">O</text>
<text transform="matrix(0.4294 0 0 0.3433 422.03 403.57)" font-size="100" fill="#D29343">f</text>
<text transform="matrix(0.4186 0 0 0.3404 433.61 403.57)" font-size="100" fill="#D29343">r</text>
<text transform="matrix(0.3478 0 0 0.3425 447.18 403.68)" font-size="100" fill="#D29343">o</text>
<text transform="matrix(0.3722 0 0 0.3404 466.65 403.57)" font-size="100" fill="#D29343">m</text>
<text transform="matrix(0.4186 0 0 0.3404 508.59 403.57)" font-size="100" fill="#D29343">r</text>
<text transform="matrix(0.3527 0 0 0.3425 522.14 403.68)" font-size="100" fill="#D29343">e</text>
<text transform="matrix(0.4294 0 0 0.3433 541.37 403.57)" font-size="100" fill="#D29343">f</text>
<text transform="matrix(0.3278 0 0 0.3425 330.62 576.68)" font-size="100" fill="#9D892B">c</text>
<text transform="matrix(0.4186 0 0 0.3404 348.39 576.57)" font-size="100" fill="#9D892B">r</text>
<text transform="matrix(0.3514 0 0 0.3354 362.50 576.39)" font-size="100" fill="#9D892B">y</text>
<text transform="matrix(0.3135 0 0 0.3431 381.86 576.68)" font-size="100" fill="#9D892B">s</text>
<text transform="matrix(0.4356 0 0 0.3510 398.24 576.28)" font-size="100" fill="#9D892B">t</text>
<text transform="matrix(0.2939 0 0 0.3425 411.56 576.68)" font-size="100" fill="#9D892B">a</text>
<text transform="matrix(0.3344 0 0 0.3428 431.71 576.57)" font-size="100" fill="#9D892B">l</text>
<text transform="matrix(0.3344 0 0 0.3428 440.79 576.57)" font-size="100" fill="#9D892B">l</text>
<text transform="matrix(0.3344 0 0 0.3428 449.88 576.57)" font-size="100" fill="#9D892B">i</text>
<text transform="matrix(0.3524 0 0 0.3404 458.78 576.57)" font-size="100" fill="#9D892B">n</text>
<text transform="matrix(0.3527 0 0 0.3425 479.17 576.68)" font-size="100" fill="#9D892B">e</text>
<text transform="matrix(0.3135 0 0 0.3431 510.25 576.68)" font-size="100" fill="#9D892B">s</text>
<text transform="matrix(0.4356 0 0 0.3510 526.63 576.28)" font-size="100" fill="#9D892B">t</text>
<text transform="matrix(0.2939 0 0 0.3425 539.95 576.68)" font-size="100" fill="#9D892B">a</text>
<text transform="matrix(0.3553 0 0 0.3371 559.57 576.36)" font-size="100" fill="#9D892B">g</text>
<text transform="matrix(0.3527 0 0 0.3425 580.34 576.68)" font-size="100" fill="#9D892B">e</text>
<text transform="matrix(0.4212 0 0 0.4193 350.04 662.55)" font-size="100" fill="#687B3E">+</text>
<text transform="matrix(0.3256 0 0 0.3481 377.25 658.97)" font-size="100" fill="#687B3E">5</text>
<text transform="matrix(0.3448 0 0 0.3492 397.65 658.97)" font-size="100" fill="#687B3E">0</text>
<text transform="matrix(0.3561 0 0 0.3366 428.70 658.67)" font-size="100" fill="#687B3E">p</text>
<text transform="matrix(0.3561 0 0 0.3366 449.45 658.67)" font-size="100" fill="#687B3E">p</text>
<text transform="matrix(0.3722 0 0 0.3404 470.07 658.87)" font-size="100" fill="#687B3E">m</text>
<text transform="matrix(0.2895 0 0 0.3465 512.63 658.87)" font-size="100" fill="#687B3E">P</text>
<text transform="matrix(0.3295 0 0 0.3465 531.71 658.87)" font-size="100" fill="#687B3E">A</text>
<text transform="matrix(0.3295 0 0 0.3465 551.99 658.87)" font-size="100" fill="#687B3E">A</text>
<text transform="matrix(0.4212 0 0 0.4193 292.94 790.35)" font-size="100" fill="#3C6D56">+</text>
<text transform="matrix(0.3256 0 0 0.3481 320.15 786.77)" font-size="100" fill="#3C6D56">5</text>
<text transform="matrix(0.3448 0 0 0.3492 340.55 786.77)" font-size="100" fill="#3C6D56">0</text>
<text transform="matrix(0.3561 0 0 0.3366 371.60 786.47)" font-size="100" fill="#3C6D56">p</text>
<text transform="matrix(0.3561 0 0 0.3366 392.35 786.47)" font-size="100" fill="#3C6D56">p</text>
<text transform="matrix(0.3722 0 0 0.3404 412.97 786.67)" font-size="100" fill="#3C6D56">m</text>
<text transform="matrix(0.3561 0 0 0.3366 455.36 786.47)" font-size="100" fill="#3C6D56">p</text>
<text transform="matrix(0.3549 0 0 0.3428 475.98 786.67)" font-size="100" fill="#3C6D56">h</text>
<text transform="matrix(0.3514 0 0 0.3354 497.06 786.49)" font-size="100" fill="#3C6D56">y</text>
<text transform="matrix(0.4356 0 0 0.3510 515.76 786.38)" font-size="100" fill="#3C6D56">t</text>
<text transform="matrix(0.3344 0 0 0.3428 529.19 786.67)" font-size="100" fill="#3C6D56">i</text>
<text transform="matrix(0.3278 0 0 0.3425 537.86 786.78)" font-size="100" fill="#3C6D56">c</text>
<text transform="matrix(0.2939 0 0 0.3425 566.54 786.78)" font-size="100" fill="#3C6D56">a</text>
<text transform="matrix(0.3278 0 0 0.3425 586.27 786.78)" font-size="100" fill="#3C6D56">c</text>
<text transform="matrix(0.3344 0 0 0.3428 604.66 786.67)" font-size="100" fill="#3C6D56">i</text>
<text transform="matrix(0.3553 0 0 0.3444 613.22 786.78)" font-size="100" fill="#3C6D56">d</text>
<text transform="matrix(0.4212 0 0 0.4193 350.04 917.95)" font-size="100" fill="#1C5A62">+</text>
<text transform="matrix(0.3256 0 0 0.3481 377.25 914.37)" font-size="100" fill="#1C5A62">5</text>
<text transform="matrix(0.3448 0 0 0.3492 397.65 914.37)" font-size="100" fill="#1C5A62">0</text>
<text transform="matrix(0.3561 0 0 0.3366 428.70 914.07)" font-size="100" fill="#1C5A62">p</text>
<text transform="matrix(0.3561 0 0 0.3366 449.45 914.07)" font-size="100" fill="#1C5A62">p</text>
<text transform="matrix(0.3722 0 0 0.3404 470.07 914.27)" font-size="100" fill="#1C5A62">m</text>
<text transform="matrix(0.2917 0 0 0.3492 512.62 914.37)" font-size="100" fill="#1C5A62">S</text>
<text transform="matrix(0.3565 0 0 0.3465 531.67 914.27)" font-size="100" fill="#1C5A62">T</text>
<text transform="matrix(0.3260 0 0 0.3465 553.06 914.27)" font-size="100" fill="#1C5A62">M</text>
<text transform="matrix(0.2895 0 0 0.3465 581.57 914.27)" font-size="100" fill="#1C5A62">P</text>
<text transform="matrix(0.3561 0 0 0.3366 306.49 1043.57)" font-size="100" fill="#103F60">p</text>
<text transform="matrix(0.4186 0 0 0.3404 326.79 1043.77)" font-size="100" fill="#103F60">r</text>
<text transform="matrix(0.3527 0 0 0.3425 340.34 1043.88)" font-size="100" fill="#103F60">e</text>
<text transform="matrix(0.3524 0 0 0.3404 360.08 1043.77)" font-size="100" fill="#103F60">n</text>
<text transform="matrix(0.3524 0 0 0.3410 380.64 1043.88)" font-size="100" fill="#103F60">u</text>
<text transform="matrix(0.3278 0 0 0.3425 401.30 1043.88)" font-size="100" fill="#103F60">c</text>
<text transform="matrix(0.3344 0 0 0.3428 419.69 1043.77)" font-size="100" fill="#103F60">l</text>
<text transform="matrix(0.3527 0 0 0.3425 428.26 1043.88)" font-size="100" fill="#103F60">e</text>
<text transform="matrix(0.2939 0 0 0.3425 448.79 1043.88)" font-size="100" fill="#103F60">a</text>
<text transform="matrix(0.4356 0 0 0.3510 468.33 1043.48)" font-size="100" fill="#103F60">t</text>
<text transform="matrix(0.3344 0 0 0.3428 481.75 1043.77)" font-size="100" fill="#103F60">i</text>
<text transform="matrix(0.3478 0 0 0.3425 490.34 1043.88)" font-size="100" fill="#103F60">o</text>
<text transform="matrix(0.3524 0 0 0.3404 510.66 1043.77)" font-size="100" fill="#103F60">n</text>
<text transform="matrix(0.3135 0 0 0.3431 542.02 1043.88)" font-size="100" fill="#103F60">s</text>
<text transform="matrix(0.4356 0 0 0.3510 558.39 1043.48)" font-size="100" fill="#103F60">t</text>
<text transform="matrix(0.2939 0 0 0.3425 571.71 1043.88)" font-size="100" fill="#103F60">a</text>
<text transform="matrix(0.3553 0 0 0.3371 591.33 1043.56)" font-size="100" fill="#103F60">g</text>
<text transform="matrix(0.3527 0 0 0.3425 612.10 1043.88)" font-size="100" fill="#103F60">e</text>
<text transform="matrix(0.2917 0 0 0.3492 1048.66 147.17)" font-size="100" fill="#A066FC">S</text>
<text transform="matrix(0.3510 0 0 0.3354 1068.66 147.03)" font-size="100" fill="#A066FC">-</text>
<text transform="matrix(0.3232 0 0 0.3492 1080.71 147.17)" font-size="100" fill="#A066FC">O</text>
<text transform="matrix(0.4294 0 0 0.3433 1117.59 147.07)" font-size="100" fill="#A066FC">f</text>
<text transform="matrix(0.4186 0 0 0.3404 1129.17 147.07)" font-size="100" fill="#A066FC">r</text>
<text transform="matrix(0.3478 0 0 0.3425 1142.74 147.18)" font-size="100" fill="#A066FC">o</text>
<text transform="matrix(0.3722 0 0 0.3404 1162.20 147.07)" font-size="100" fill="#A066FC">m</text>
<text transform="matrix(0.4186 0 0 0.3404 1204.15 147.07)" font-size="100" fill="#A066FC">r</text>
<text transform="matrix(0.3527 0 0 0.3425 1217.69 147.18)" font-size="100" fill="#A066FC">e</text>
<text transform="matrix(0.4294 0 0 0.3433 1236.93 147.07)" font-size="100" fill="#A066FC">f</text>
<text transform="matrix(0.2917 0 0 0.3492 1048.66 252.67)" font-size="100" fill="#FACCFA">S</text>
<text transform="matrix(0.3510 0 0 0.3354 1068.66 252.53)" font-size="100" fill="#FACCFA">-</text>
<text transform="matrix(0.2917 0 0 0.3492 1081.21 252.67)" font-size="100" fill="#FACCFA">S</text>
<text transform="matrix(0.4294 0 0 0.3433 1111.70 252.57)" font-size="100" fill="#FACCFA">f</text>
<text transform="matrix(0.4186 0 0 0.3404 1123.27 252.57)" font-size="100" fill="#FACCFA">r</text>
<text transform="matrix(0.3478 0 0 0.3425 1136.84 252.68)" font-size="100" fill="#FACCFA">o</text>
<text transform="matrix(0.3722 0 0 0.3404 1156.31 252.57)" font-size="100" fill="#FACCFA">m</text>
<text transform="matrix(0.4186 0 0 0.3404 1198.26 252.57)" font-size="100" fill="#FACCFA">r</text>
<text transform="matrix(0.3527 0 0 0.3425 1211.80 252.68)" font-size="100" fill="#FACCFA">e</text>
<text transform="matrix(0.4294 0 0 0.3433 1231.04 252.57)" font-size="100" fill="#FACCFA">f</text>
<text transform="matrix(0.3232 0 0 0.3492 1044.48 353.57)" font-size="100" fill="#FDB7BC">O</text>
<text transform="matrix(0.3510 0 0 0.3354 1069.97 353.43)" font-size="100" fill="#FDB7BC">-</text>
<text transform="matrix(0.3232 0 0 0.3492 1082.93 353.57)" font-size="100" fill="#FDB7BC">O</text>
<text transform="matrix(0.4294 0 0 0.3433 1119.81 353.47)" font-size="100" fill="#FDB7BC">f</text>
<text transform="matrix(0.4186 0 0 0.3404 1131.38 353.47)" font-size="100" fill="#FDB7BC">r</text>
<text transform="matrix(0.3478 0 0 0.3425 1144.95 353.58)" font-size="100" fill="#FDB7BC">o</text>
<text transform="matrix(0.3722 0 0 0.3404 1164.42 353.47)" font-size="100" fill="#FDB7BC">m</text>
<text transform="matrix(0.4186 0 0 0.3404 1206.37 353.47)" font-size="100" fill="#FDB7BC">r</text>
<text transform="matrix(0.3527 0 0 0.3425 1219.91 353.58)" font-size="100" fill="#FDB7BC">e</text>
<text transform="matrix(0.4294 0 0 0.3433 1239.15 353.47)" font-size="100" fill="#FDB7BC">f</text>
<text transform="matrix(0.3038 0 0 0.3492 1040.45 450.07)" font-size="100" fill="#F8A17B">C</text>
<text transform="matrix(0.2939 0 0 0.3425 1063.73 450.08)" font-size="100" fill="#F8A17B">a</text>
<text transform="matrix(0.3510 0 0 0.3354 1083.10 449.93)" font-size="100" fill="#F8A17B">-</text>
<text transform="matrix(0.3038 0 0 0.3492 1095.12 450.07)" font-size="100" fill="#F8A17B">C</text>
<text transform="matrix(0.2939 0 0 0.3425 1118.40 450.08)" font-size="100" fill="#F8A17B">a</text>
<text transform="matrix(0.4294 0 0 0.3433 1148.26 449.97)" font-size="100" fill="#F8A17B">f</text>
<text transform="matrix(0.4186 0 0 0.3404 1159.83 449.97)" font-size="100" fill="#F8A17B">r</text>
<text transform="matrix(0.3478 0 0 0.3425 1173.40 450.08)" font-size="100" fill="#F8A17B">o</text>
<text transform="matrix(0.3722 0 0 0.3404 1192.87 449.97)" font-size="100" fill="#F8A17B">m</text>
<text transform="matrix(0.4186 0 0 0.3404 1234.81 449.97)" font-size="100" fill="#F8A17B">r</text>
<text transform="matrix(0.3527 0 0 0.3425 1248.36 450.08)" font-size="100" fill="#F8A17B">e</text>
<text transform="matrix(0.4294 0 0 0.3433 1267.59 449.97)" font-size="100" fill="#F8A17B">f</text>
<text transform="matrix(0.3038 0 0 0.3492 1052.45 544.37)" font-size="100" fill="#D29343">C</text>
<text transform="matrix(0.2939 0 0 0.3425 1075.73 544.38)" font-size="100" fill="#D29343">a</text>
<text transform="matrix(0.3510 0 0 0.3354 1095.10 544.23)" font-size="100" fill="#D29343">-</text>
<text transform="matrix(0.3232 0 0 0.3492 1107.15 544.37)" font-size="100" fill="#D29343">O</text>
<text transform="matrix(0.4294 0 0 0.3433 1144.03 544.27)" font-size="100" fill="#D29343">f</text>
<text transform="matrix(0.4186 0 0 0.3404 1155.61 544.27)" font-size="100" fill="#D29343">r</text>
<text transform="matrix(0.3478 0 0 0.3425 1169.18 544.38)" font-size="100" fill="#D29343">o</text>
<text transform="matrix(0.3722 0 0 0.3404 1188.65 544.27)" font-size="100" fill="#D29343">m</text>
<text transform="matrix(0.4186 0 0 0.3404 1230.59 544.27)" font-size="100" fill="#D29343">r</text>
<text transform="matrix(0.3527 0 0 0.3425 1244.14 544.38)" font-size="100" fill="#D29343">e</text>
<text transform="matrix(0.4294 0 0 0.3433 1263.37 544.27)" font-size="100" fill="#D29343">f</text>
<text transform="matrix(0.3278 0 0 0.3425 1040.32 695.08)" font-size="100" fill="#9D892B">c</text>
<text transform="matrix(0.4186 0 0 0.3404 1058.09 694.97)" font-size="100" fill="#9D892B">r</text>
<text transform="matrix(0.3514 0 0 0.3354 1072.20 694.79)" font-size="100" fill="#9D892B">y</text>
<text transform="matrix(0.3135 0 0 0.3431 1091.56 695.08)" font-size="100" fill="#9D892B">s</text>
<text transform="matrix(0.4356 0 0 0.3510 1107.94 694.68)" font-size="100" fill="#9D892B">t</text>
<text transform="matrix(0.2939 0 0 0.3425 1121.26 695.08)" font-size="100" fill="#9D892B">a</text>
<text transform="matrix(0.3344 0 0 0.3428 1141.41 694.97)" font-size="100" fill="#9D892B">l</text>
<text transform="matrix(0.3344 0 0 0.3428 1150.49 694.97)" font-size="100" fill="#9D892B">l</text>
<text transform="matrix(0.3344 0 0 0.3428 1159.58 694.97)" font-size="100" fill="#9D892B">i</text>
<text transform="matrix(0.3524 0 0 0.3404 1168.48 694.97)" font-size="100" fill="#9D892B">n</text>
<text transform="matrix(0.3527 0 0 0.3425 1188.87 695.08)" font-size="100" fill="#9D892B">e</text>
<text transform="matrix(0.3135 0 0 0.3431 1219.95 695.08)" font-size="100" fill="#9D892B">s</text>
<text transform="matrix(0.4356 0 0 0.3510 1236.33 694.68)" font-size="100" fill="#9D892B">t</text>
<text transform="matrix(0.2939 0 0 0.3425 1249.65 695.08)" font-size="100" fill="#9D892B">a</text>
<text transform="matrix(0.3553 0 0 0.3371 1269.27 694.76)" font-size="100" fill="#9D892B">g</text>
<text transform="matrix(0.3527 0 0 0.3425 1290.04 695.08)" font-size="100" fill="#9D892B">e</text>
<text transform="matrix(0.4212 0 0 0.4193 1055.94 760.45)" font-size="100" fill="#687B3E">+</text>
<text transform="matrix(0.3256 0 0 0.3481 1083.15 756.87)" font-size="100" fill="#687B3E">5</text>
<text transform="matrix(0.3448 0 0 0.3492 1103.55 756.87)" font-size="100" fill="#687B3E">0</text>
<text transform="matrix(0.3561 0 0 0.3366 1134.60 756.57)" font-size="100" fill="#687B3E">p</text>
<text transform="matrix(0.3561 0 0 0.3366 1155.35 756.57)" font-size="100" fill="#687B3E">p</text>
<text transform="matrix(0.3722 0 0 0.3404 1175.97 756.77)" font-size="100" fill="#687B3E">m</text>
<text transform="matrix(0.2895 0 0 0.3465 1218.53 756.77)" font-size="100" fill="#687B3E">P</text>
<text transform="matrix(0.3295 0 0 0.3465 1237.61 756.77)" font-size="100" fill="#687B3E">A</text>
<text transform="matrix(0.3295 0 0 0.3465 1257.89 756.77)" font-size="100" fill="#687B3E">A</text>
<text transform="matrix(0.4212 0 0 0.4193 974.14 861.45)" font-size="100" fill="#3C6D56">+</text>
<text transform="matrix(0.3256 0 0 0.3481 1001.35 857.87)" font-size="100" fill="#3C6D56">5</text>
<text transform="matrix(0.3448 0 0 0.3492 1021.75 857.87)" font-size="100" fill="#3C6D56">0</text>
<text transform="matrix(0.3561 0 0 0.3366 1052.80 857.57)" font-size="100" fill="#3C6D56">p</text>
<text transform="matrix(0.3561 0 0 0.3366 1073.55 857.57)" font-size="100" fill="#3C6D56">p</text>
<text transform="matrix(0.3722 0 0 0.3404 1094.17 857.77)" font-size="100" fill="#3C6D56">m</text>
<text transform="matrix(0.3561 0 0 0.3366 1136.56 857.57)" font-size="100" fill="#3C6D56">p</text>
<text transform="matrix(0.3549 0 0 0.3428 1157.18 857.77)" font-size="100" fill="#3C6D56">h</text>
<text transform="matrix(0.3514 0 0 0.3354 1178.26 857.59)" font-size="100" fill="#3C6D56">y</text>
<text transform="matrix(0.4356 0 0 0.3510 1196.96 857.48)" font-size="100" fill="#3C6D56">t</text>
<text transform="matrix(0.3344 0 0 0.3428 1210.39 857.77)" font-size="100" fill="#3C6D56">i</text>
<text transform="matrix(0.3278 0 0 0.3425 1219.06 857.88)" font-size="100" fill="#3C6D56">c</text>
<text transform="matrix(0.2939 0 0 0.3425 1247.74 857.88)" font-size="100" fill="#3C6D56">a</text>
<text transform="matrix(0.3278 0 0 0.3425 1267.47 857.88)" font-size="100" fill="#3C6D56">c</text>
<text transform="matrix(0.3344 0 0 0.3428 1285.86 857.77)" font-size="100" fill="#3C6D56">i</text>
<text transform="matrix(0.3553 0 0 0.3444 1294.42 857.88)" font-size="100" fill="#3C6D56">d</text>
<text transform="matrix(0.4212 0 0 0.4193 1039.64 964.95)" font-size="100" fill="#1C5A62">+</text>
<text transform="matrix(0.3256 0 0 0.3481 1066.85 961.37)" font-size="100" fill="#1C5A62">5</text>
<text transform="matrix(0.3448 0 0 0.3492 1087.25 961.37)" font-size="100" fill="#1C5A62">0</text>
<text transform="matrix(0.3561 0 0 0.3366 1118.30 961.07)" font-size="100" fill="#1C5A62">p</text>
<text transform="matrix(0.3561 0 0 0.3366 1139.05 961.07)" font-size="100" fill="#1C5A62">p</text>
<text transform="matrix(0.3722 0 0 0.3404 1159.67 961.27)" font-size="100" fill="#1C5A62">m</text>
<text transform="matrix(0.2917 0 0 0.3492 1202.22 961.37)" font-size="100" fill="#1C5A62">S</text>
<text transform="matrix(0.3565 0 0 0.3465 1221.27 961.27)" font-size="100" fill="#1C5A62">T</text>
<text transform="matrix(0.3260 0 0 0.3465 1242.66 961.27)" font-size="100" fill="#1C5A62">M</text>
<text transform="matrix(0.2895 0 0 0.3465 1271.17 961.27)" font-size="100" fill="#1C5A62">P</text>
<text transform="matrix(0.3561 0 0 0.3366 991.69 1060.67)" font-size="100" fill="#103F60">p</text>
<text transform="matrix(0.4186 0 0 0.3404 1011.99 1060.87)" font-size="100" fill="#103F60">r</text>
<text transform="matrix(0.3527 0 0 0.3425 1025.54 1060.98)" font-size="100" fill="#103F60">e</text>
<text transform="matrix(0.3524 0 0 0.3404 1045.28 1060.87)" font-size="100" fill="#103F60">n</text>
<text transform="matrix(0.3524 0 0 0.3410 1065.84 1060.98)" font-size="100" fill="#103F60">u</text>
<text transform="matrix(0.3278 0 0 0.3425 1086.50 1060.98)" font-size="100" fill="#103F60">c</text>
<text transform="matrix(0.3344 0 0 0.3428 1104.89 1060.87)" font-size="100" fill="#103F60">l</text>
<text transform="matrix(0.3527 0 0 0.3425 1113.46 1060.98)" font-size="100" fill="#103F60">e</text>
<text transform="matrix(0.2939 0 0 0.3425 1133.99 1060.98)" font-size="100" fill="#103F60">a</text>
<text transform="matrix(0.4356 0 0 0.3510 1153.53 1060.58)" font-size="100" fill="#103F60">t</text>
<text transform="matrix(0.3344 0 0 0.3428 1166.95 1060.87)" font-size="100" fill="#103F60">i</text>
<text transform="matrix(0.3478 0 0 0.3425 1175.54 1060.98)" font-size="100" fill="#103F60">o</text>
<text transform="matrix(0.3524 0 0 0.3404 1195.86 1060.87)" font-size="100" fill="#103F60">n</text>
<text transform="matrix(0.3135 0 0 0.3431 1227.22 1060.98)" font-size="100" fill="#103F60">s</text>
<text transform="matrix(0.4356 0 0 0.3510 1243.59 1060.58)" font-size="100" fill="#103F60">t</text>
<text transform="matrix(0.2939 0 0 0.3425 1256.91 1060.98)" font-size="100" fill="#103F60">a</text>
<text transform="matrix(0.3553 0 0 0.3371 1276.53 1060.66)" font-size="100" fill="#103F60">g</text>
<text transform="matrix(0.3527 0 0 0.3425 1297.30 1060.98)" font-size="100" fill="#103F60">e</text>
<text transform="matrix(0.3038 0 0 0.3492 403.85 1169.87)" font-size="100" fill="#011959">C</text>
<text transform="matrix(0.2939 0 0 0.3425 427.13 1169.88)" font-size="100" fill="#011959">a</text>
<text transform="matrix(0.3038 0 0 0.3492 446.72 1169.87)" font-size="100" fill="#011959">C</text>
<text transform="matrix(0.3344 0 0 0.3428 470.11 1169.77)" font-size="100" fill="#011959">l</text>
<text transform="matrix(0.2456 0 0 0.2507 478.77 1175.27)" font-size="100" fill="#011959">2</text>
<text transform="matrix(0.3038 0 0 0.3492 1129.85 1163.67)" font-size="100" fill="#011959">C</text>
<text transform="matrix(0.2939 0 0 0.3425 1153.13 1163.68)" font-size="100" fill="#011959">a</text>
<text transform="matrix(0.3038 0 0 0.3492 1172.72 1163.67)" font-size="100" fill="#011959">C</text>
<text transform="matrix(0.3344 0 0 0.3428 1196.11 1163.57)" font-size="100" fill="#011959">l</text>
<text transform="matrix(0.2390 0 0 0.2450 1205.10 1168.98)" font-size="100" fill="#011959">2</text>
<text transform="matrix(0.3320 0 0 0.3476 61.92 1232.97)" font-size="100" fill="#000">2</text>
<text transform="matrix(0.3445 0 0 0.3465 174.89 1232.97)" font-size="100" fill="#000">4</text>
<text transform="matrix(0.3568 0 0 0.3492 287.43 1233.07)" font-size="100" fill="#000">6</text>
<text transform="matrix(0.3479 0 0 0.3492 400.57 1233.07)" font-size="100" fill="#000">8</text>
<text transform="matrix(0.3293 0 0 0.3465 503.41 1232.97)" font-size="100" fill="#000">1</text>
<text transform="matrix(0.3448 0 0 0.3492 523.93 1233.07)" font-size="100" fill="#000">0</text>
<text transform="matrix(0.3293 0 0 0.3465 616.29 1232.97)" font-size="100" fill="#000">1</text>
<text transform="matrix(0.3320 0 0 0.3476 636.73 1232.97)" font-size="100" fill="#000">2</text>
<text transform="matrix(0.3320 0 0 0.3476 755.62 1232.97)" font-size="100" fill="#000">2</text>
<text transform="matrix(0.3445 0 0 0.3465 868.53 1232.97)" font-size="100" fill="#000">4</text>
<text transform="matrix(0.3568 0 0 0.3492 981.01 1233.07)" font-size="100" fill="#000">6</text>
<text transform="matrix(0.3479 0 0 0.3492 1094.09 1233.07)" font-size="100" fill="#000">8</text>
<text transform="matrix(0.3293 0 0 0.3465 1196.87 1232.97)" font-size="100" fill="#000">1</text>
<text transform="matrix(0.3448 0 0 0.3492 1217.39 1233.07)" font-size="100" fill="#000">0</text>
<text transform="matrix(0.3293 0 0 0.3465 1309.69 1232.97)" font-size="100" fill="#000">1</text>
<text transform="matrix(0.3320 0 0 0.3476 1330.13 1232.97)" font-size="100" fill="#000">2</text>
<text transform="matrix(0.4280 0 0 0.3420 317.98 1278.57)" font-size="100" fill="#000">r</text>
<text transform="matrix(0.3417 0 0 0.3121 342.17 1276.39)" font-size="100" fill="#000">[</text>
<text transform="matrix(0.3278 0 0 0.3475 354.51 1278.57)" font-size="100" fill="#000" font-style="italic">Å</text>
<text transform="matrix(0.3266 0 0 0.3121 379.94 1276.39)" font-size="100" fill="#000">]</text>
<text transform="matrix(0.4280 0 0 0.3420 1011.53 1278.57)" font-size="100" fill="#000">r</text>
<text transform="matrix(0.3417 0 0 0.3121 1035.72 1276.39)" font-size="100" fill="#000">[</text>
<text transform="matrix(0.3278 0 0 0.3475 1048.06 1278.57)" font-size="100" fill="#000" font-style="italic">Å</text>
<text transform="matrix(0.3266 0 0 0.3121 1073.49 1276.39)" font-size="100" fill="#000">]</text>
<g transform="translate(47.70,652.76) rotate(-90)"><text transform="matrix(0.4264 0 0 0.4045 0.37 -0.29)" font-size="100" fill="#000">g</text><text transform="matrix(0.3317 0 0 0.3751 26.23 -2.62)" font-size="100" fill="#000">(</text><text transform="matrix(0.5023 0 0 0.4084 40.47 -0.04)" font-size="100" fill="#000">r</text><text transform="matrix(0.3317 0 0 0.3751 59.29 -2.62)" font-size="100" fill="#000">)</text></g>
<g transform="translate(742.20,652.76) rotate(-90)"><text transform="matrix(0.4264 0 0 0.4045 0.37 -0.29)" font-size="100" fill="#000">g</text><text transform="matrix(0.3317 0 0 0.3751 26.23 -2.62)" font-size="100" fill="#000">(</text><text transform="matrix(0.5023 0 0 0.4084 40.47 -0.04)" font-size="100" fill="#000">r</text><text transform="matrix(0.3317 0 0 0.3751 59.29 -2.62)" font-size="100" fill="#000">)</text></g>
<text transform="matrix(0.5057 0 0 0.5730 -2.74 29.88)" font-size="100" fill="#000">(</text>
<text transform="matrix(0.4066 0 0 0.4589 17.29 33.20)" font-size="100" fill="#000">a</text>
<text transform="matrix(0.4755 0 0 0.5730 46.01 29.88)" font-size="100" fill="#000">)</text>
<text transform="matrix(0.5057 0 0 0.5730 688.16 29.88)" font-size="100" fill="#000">(</text>
<text transform="matrix(0.4699 0 0 0.4803 708.85 33.17)" font-size="100" fill="#000">b</text>
<text transform="matrix(0.4830 0 0 0.5730 738.61 29.88)" font-size="100" fill="#000">)</text>
</svg>
</body></html>
